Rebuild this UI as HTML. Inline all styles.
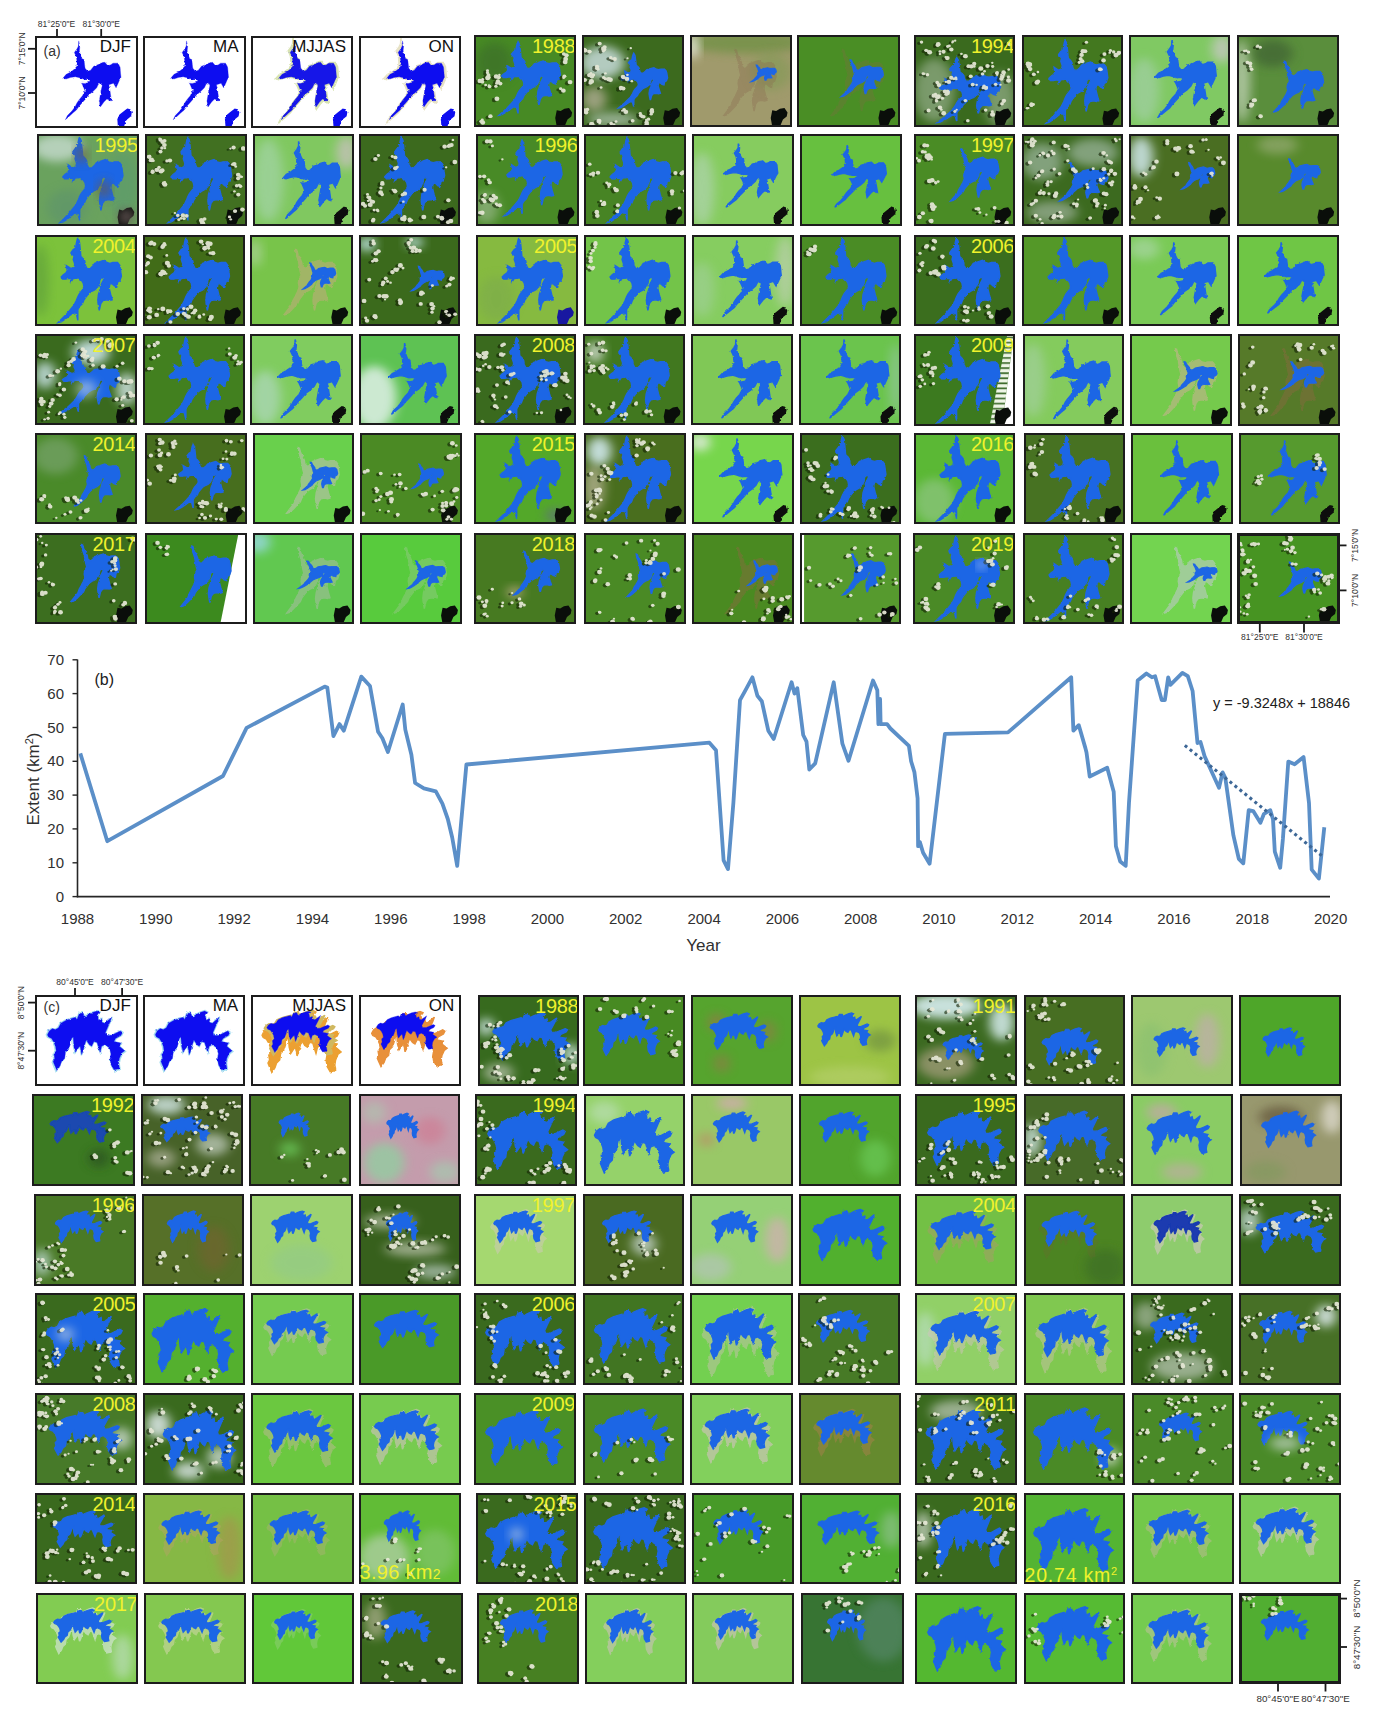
<!DOCTYPE html>
<html><head><meta charset="utf-8"><style>
*{margin:0;padding:0;box-sizing:border-box}
html,body{width:1376px;height:1722px;background:#fff;overflow:hidden}
body{position:relative;font-family:"Liberation Sans", sans-serif}
.t{position:absolute;overflow:hidden}
.bd{position:absolute;left:0;top:0;right:0;bottom:0;border:2px solid #1c1c1c}
.yr{position:absolute;right:1px;top:1px;font-size:20px;line-height:20px;color:#f0f22c;letter-spacing:-0.3px}
.hd{position:absolute;right:7px;top:2px;font-size:17px;line-height:17px;color:#111}
.yl{position:absolute;color:#f0f22c;line-height:1;white-space:nowrap}
</style></head><body>
<svg width="0" height="0" style="position:absolute"><defs>
<path id="A" fill-rule="evenodd" d="M42.0,3.5 43.5,6.9 44.3,15.2 45.0,23.6 47.3,26.1 48.8,28.6 49.5,33.6 51.0,36.9 54.0,36.9 57.0,33.6 58.5,31.1 63.0,29.4 67.5,27.7 70.5,30.2 73.4,31.1 76.4,30.2 80.9,30.2 83.2,33.6 83.9,38.6 84.7,45.3 83.2,50.3 80.9,52.0 80.2,57.0 77.9,56.1 75.7,53.6 73.4,53.6 72.7,58.6 74.2,65.3 75.7,71.2 73.4,72.0 70.5,71.2 66.7,72.0 64.5,75.4 63.0,82.9 62.2,77.9 61.5,72.0 62.2,65.3 63.7,60.3 64.5,55.3 66.0,52.0 67.5,48.6 66.0,46.1 63.7,48.6 63.0,52.8 61.5,57.0 58.5,60.3 55.5,62.0 52.5,64.5 50.3,67.8 48.0,71.2 46.5,75.4 43.5,78.7 42.0,82.0 42.0,93.7 40.5,86.2 37.5,85.4 33.8,88.7 30.1,92.1 25.6,95.4 22.6,96.2 27.1,91.2 30.8,87.1 34.6,82.0 38.3,77.0 40.5,72.0 42.0,67.8 43.5,64.5 46.5,60.3 48.0,57.0 47.3,52.8 45.8,50.3 44.3,48.6 42.8,47.0 37.5,47.8 36.1,50.3 34.6,52.8 36.1,48.6 33.1,47.8 30.1,48.6 27.1,48.6 25.6,46.1 27.8,43.6 30.1,41.9 31.6,39.4 30.8,33.6 33.1,35.3 35.3,36.9 38.3,35.3 39.0,31.9 37.5,26.9 38.3,23.6 35.3,19.4 37.5,16.0 39.8,14.4 40.5,9.4 41.3,5.2Z" filter="url(#rough)"/>
<path id="W" d="M42.4,5.3 43.6,10.8 43.1,16.3 44.1,20.7 45.6,24.6 47.6,25.6 48.1,30.6 48.6,35 51.1,38.3 54,37.2 57,32.8 59.9,31.7 63.9,29.5 67.8,28.5 70.7,32.3 73.7,31.2 75.7,29.5 80.6,29.5 82.6,33.9 83.1,41.1 83.5,44.9 82.1,47.7 80.5,52 78.7,56.3 76.2,51.3 71.7,53 72.8,59.6 74.2,70.6 69.8,68.4 66.9,71.8 63.4,77.2 62.4,70.6 63.4,64 64.3,58.4 65.3,54.1 63.9,50.2 61.5,52.5 59.9,56.3 56,60.7 52,64 49,68.4 45.6,72.8 42.6,76.6 40.2,80.5 36.7,83.8 32,88.5 29.5,91 31.5,86.5 35.8,81.6 38.8,77.2 40.7,72.8 43.1,68.9 46.1,65 48.5,59.6 46.1,53 45.2,51.3 48,51.5 52,50.5 53.5,48.5 51.1,46.5 46.6,47 43.1,45.5 39.2,44.3 34.3,45.2 29.4,47.1 27.4,45.5 30.3,41.7 34.3,39.4 38.2,36.1 40.7,32.8 40.7,27.3 40.2,22.9 38.2,18 40.7,14.1 42.2,10.8Z" filter="url(#rough)"/>
<path id="M" d="M50,44 49,40 48.3,35 47.5,30 46.5,26 45.2,22 44.6,16 45.6,16.5 47,22 49,26 50.5,30 51,34 54,36.9 57,33.6 58.5,31.1 63,29.4 67.5,27.7 70.5,30.2 73.4,31.1 76.4,30.2 80.9,30.2 83.2,33.6 83.9,38.6 84.7,45.3 83.2,50.3 80.9,52 80.2,57 77.9,56.1 75.7,53.6 73.4,53.6 72.7,58.6 74.2,65.3 75.7,71.2 73.4,72 70.5,71.2 66.7,72 64.5,75.4 63,82.9 62.2,77.9 61.5,72 62.2,65.3 63.7,60.3 64.5,55.3 66,52 67.5,48.6 66,46.1 63.7,48.6 63,52.8 61.5,57 58.5,60.3 55.5,62 52.5,64.5 50.3,67.8 48,71.2 46.5,75.4 43.5,78.7 40,83 36,87 33,88 37,82 40.5,77 42,72 44,67.8 46.5,62 48,57 47.3,52.8 48,48Z" filter="url(#rough)"/>
<path id="C" d="M12,43.5 13.9,39.3 16.9,36.8 19.9,37.7 22.8,36 25.1,31 30.3,27.6 34.8,25.9 39.3,24.3 40.8,26.8 43.1,20.1 46.8,20.1 48.3,24.3 51.3,21.8 55.8,19.2 60.3,17.6 63.3,19.2 61,22.6 61.8,27.6 64.8,25.9 65.5,30.1 67.8,31 74.5,24.3 73,29.3 70.8,35.1 68.5,41 69.3,44.4 73.8,44.4 78.3,41.8 82.8,39.3 85,41 83.5,44.4 78.3,47.7 76.8,51 83.5,52.7 82,56.1 87.3,61.1 84.3,63.6 82,69.5 81.3,74.5 82,80.3 79.8,81.2 76.8,82 73.8,76.2 73,69.5 73.8,64.4 72.3,57.7 67.8,54.4 64.8,56.1 63.3,62.8 61.8,57.7 60.3,51.9 57.3,51 55.1,56.1 52.8,54.4 49.8,49.4 48.3,54.4 46.8,61.1 45.3,65.3 43.8,56.1 42.3,57.7 39.3,62.8 37.8,56.1 37.1,46 35.6,47.7 34.1,54.4 32.6,59.4 29.6,62.8 28.8,69.5 25.8,72.8 24.3,77.8 21.3,82.8 19.1,77 17.6,72.8 19.1,69.5 18.4,64.4 20.6,61.1 19.9,56.1 18.4,51.9 16.1,47.7 13.1,46Z" filter="url(#rough)"/>
<filter id="rough" x="-5%" y="-5%" width="110%" height="110%"><feTurbulence type="fractalNoise" baseFrequency="0.35" numOctaves="2" seed="3" result="n"/><feDisplacementMap in="SourceGraphic" in2="n" scale="2.6" xChannelSelector="R" yChannelSelector="G"/></filter>
<filter id="hz" x="-50%" y="-50%" width="200%" height="200%"><feGaussianBlur stdDeviation="5"/></filter>
<pattern id="stripes" width="100" height="5.5" patternUnits="userSpaceOnUse"><rect width="100" height="5.5" fill="#eef5e6"/><rect y="3" width="100" height="1.8" fill="#3c6a2a"/></pattern>
<filter id="blur" x="-10%" y="-10%" width="120%" height="120%"><feGaussianBlur stdDeviation="0.55"/></filter>
</defs></svg>
<div class="t" style="left:35.0px;top:36.0px;width:103.0px;height:92.0px"><svg viewBox="0 0 100 100" preserveAspectRatio="none" style="position:absolute;left:0;top:0;width:100%;height:100%"><rect width="100" height="100" fill="#ffffff"/><use href="#W" fill="#1010f0" stroke="#1010f0" stroke-width="0.3"/><polygon points="80.6,100 79.9,90.4 82.1,85.4 85.8,82.1 89.6,78.75 92.5,79.6 94,82.9 93.3,87.1 88.8,91.25 85.8,100" fill="#1010f0" filter="url(#rough)"/></svg><div class="hd">DJF</div><div class="bd" style="border-width:2px"></div></div>
<div class="t" style="left:143.0px;top:36.0px;width:102.5px;height:92.0px"><svg viewBox="0 0 100 100" preserveAspectRatio="none" style="position:absolute;left:0;top:0;width:100%;height:100%"><rect width="100" height="100" fill="#ffffff"/><use href="#W" fill="#1010f0" stroke="#1010f0" stroke-width="0.3"/><polygon points="80.6,100 79.9,90.4 82.1,85.4 85.8,82.1 89.6,78.75 92.5,79.6 94,82.9 93.3,87.1 88.8,91.25 85.8,100" fill="#1010f0" filter="url(#rough)"/></svg><div class="hd">MA</div><div class="bd" style="border-width:2px"></div></div>
<div class="t" style="left:250.5px;top:36.0px;width:102.5px;height:92.0px"><svg viewBox="0 0 100 100" preserveAspectRatio="none" style="position:absolute;left:0;top:0;width:100%;height:100%"><rect width="100" height="100" fill="#ffffff"/><g opacity="0.68" filter="url(#blur)"><use href="#W" fill="#c8d890" stroke="#c8d890" stroke-width="1.29" transform="matrix(1.087 0 0 1.079 -5.29 -3.22)"/></g><use href="#W" fill="#1414e8" stroke="#1414e8" stroke-width="0.3"/><polygon points="80.6,100 79.9,90.4 82.1,85.4 85.8,82.1 89.6,78.75 92.5,79.6 94,82.9 93.3,87.1 88.8,91.25 85.8,100" fill="#1010f0" filter="url(#rough)"/></svg><div class="hd">MJJAS</div><div class="bd" style="border-width:2px"></div></div>
<div class="t" style="left:358.6px;top:36.0px;width:102.4px;height:92.0px"><svg viewBox="0 0 100 100" preserveAspectRatio="none" style="position:absolute;left:0;top:0;width:100%;height:100%"><rect width="100" height="100" fill="#ffffff"/><g opacity="0.60" filter="url(#blur)"><use href="#W" fill="#d8d0a0" stroke="#d8d0a0" stroke-width="1.29" transform="matrix(1.087 0 0 1.079 -5.29 -3.22)"/></g><use href="#W" fill="#1010f0" stroke="#1010f0" stroke-width="0.3"/><polygon points="80.6,100 79.9,90.4 82.1,85.4 85.8,82.1 89.6,78.75 92.5,79.6 94,82.9 93.3,87.1 88.8,91.25 85.8,100" fill="#1010f0" filter="url(#rough)"/></svg><div class="hd">ON</div><div class="bd" style="border-width:2px"></div></div>
<div class="t" style="left:474.0px;top:35.2px;width:102.3px;height:91.8px"><svg viewBox="0 0 100 100" preserveAspectRatio="none" style="position:absolute;left:0;top:0;width:100%;height:100%"><rect width="100" height="100" fill="#478a24"/><ellipse cx="20" cy="30" rx="18" ry="22" fill="#3a6a2a" opacity="0.6" filter="url(#hz)"/><use href="#A" fill="#1f66e5" stroke="#1f66e5" stroke-width="1.53" transform="matrix(0.968 0 0 0.866 2.42 4.27)"/><polygon points="80.9,100 79.4,90.4 80.9,82.0 84.7,82.9 88.4,80.4 92.9,79.5 95.9,84.5 95.1,88.7 91.4,92.1 88.4,100" fill="#0a0e0a"/><g filter="url(#blur)"><use href="#k1" x="-2.6" y="1.3" fill="#0f2208" opacity=".6"/><g fill="#e6e8d6" opacity=".93"><g id="k1"><circle cx="15.2" cy="89.3" r="1.2"/><circle cx="16.1" cy="88.4" r="2.1"/><circle cx="14.2" cy="43.5" r="1.9"/><circle cx="13.3" cy="46.8" r="2.4"/><circle cx="13.9" cy="46.0" r="2.4"/><circle cx="8.5" cy="95.3" r="2.4"/><circle cx="6.7" cy="94.1" r="1.6"/><circle cx="8.1" cy="92.5" r="1.5"/><circle cx="5.8" cy="50.0" r="2.4"/><circle cx="25.7" cy="52.9" r="2.1"/><circle cx="21.4" cy="55.8" r="1.7"/><circle cx="22.4" cy="69.5" r="2.4"/><circle cx="11.4" cy="54.5" r="1.4"/><circle cx="14.6" cy="54.8" r="1.1"/><circle cx="15.1" cy="56.1" r="1.9"/><circle cx="13.2" cy="41.2" r="1.6"/><circle cx="13.2" cy="38.9" r="1.5"/><circle cx="22.4" cy="52.5" r="1.8"/><circle cx="23.4" cy="50.3" r="2.1"/><circle cx="23.3" cy="49.9" r="1.1"/><circle cx="8.1" cy="50.8" r="2.0"/><circle cx="8.5" cy="51.4" r="1.1"/><circle cx="8.5" cy="48.3" r="1.4"/><circle cx="21.7" cy="45.2" r="2.4"/><circle cx="24.8" cy="43.5" r="1.2"/><circle cx="24.2" cy="46.1" r="2.0"/></g></g><use href="#k2" x="-2.6" y="1.3" fill="#0f2208" opacity=".6"/><g fill="#e6e8d6" opacity=".93"><g id="k2"><circle cx="87.4" cy="60.6" r="2.3"/><circle cx="87.2" cy="60.5" r="1.6"/><circle cx="84.7" cy="58.5" r="1.6"/><circle cx="90.3" cy="22.1" r="2.3"/><circle cx="87.8" cy="20.6" r="1.9"/><circle cx="93.9" cy="51.3" r="2.4"/><circle cx="87.6" cy="46.6" r="1.4"/><circle cx="88.3" cy="44.9" r="1.9"/><circle cx="88.8" cy="44.8" r="1.3"/><circle cx="89.1" cy="29.4" r="2.4"/><circle cx="89.6" cy="26.1" r="2.4"/></g></g></g></svg><div class="yr">1988</div><div class="bd" style="border-width:2px"></div></div>
<div class="t" style="left:581.7px;top:35.2px;width:102.3px;height:91.8px"><svg viewBox="0 0 100 100" preserveAspectRatio="none" style="position:absolute;left:0;top:0;width:100%;height:100%"><rect width="100" height="100" fill="#3c6a1e"/><ellipse cx="20" cy="30" rx="22" ry="18" fill="#c8dcdc" opacity="0.85" filter="url(#hz)"/><ellipse cx="12" cy="70" rx="12" ry="14" fill="#d8c4bc" opacity="0.6" filter="url(#hz)"/><ellipse cx="30" cy="92" rx="25" ry="8" fill="#d0dcdc" opacity="0.6" filter="url(#hz)"/><use href="#A" fill="#1f66e5" stroke="#1f66e5" stroke-width="1.98" transform="matrix(0.773 0 0 0.643 18.10 17.75)"/><polygon points="80.9,100 79.4,90.4 80.9,82.0 84.7,82.9 88.4,80.4 92.9,79.5 95.9,84.5 95.1,88.7 91.4,92.1 88.4,100" fill="#0a0e0a"/><g filter="url(#blur)"><use href="#k3" x="-2.6" y="1.3" fill="#0f2208" opacity=".6"/><g fill="#e6e8d6" opacity=".93"><g id="k3"><circle cx="47.7" cy="14.3" r="1.2"/><circle cx="14.7" cy="34.4" r="2.1"/><circle cx="14.7" cy="36.1" r="2.0"/><circle cx="9.3" cy="51.0" r="2.2"/><circle cx="9.2" cy="50.3" r="2.5"/><circle cx="8.1" cy="52.4" r="1.9"/><circle cx="40.7" cy="46.1" r="2.0"/><circle cx="44.4" cy="43.4" r="1.3"/><circle cx="43.9" cy="47.8" r="2.3"/><circle cx="40.1" cy="45.6" r="2.3"/><circle cx="15.7" cy="37.3" r="1.4"/><circle cx="20.8" cy="17.5" r="1.6"/><circle cx="20.0" cy="14.2" r="1.3"/><circle cx="22.1" cy="13.2" r="2.1"/><circle cx="9.7" cy="45.1" r="2.2"/><circle cx="11.2" cy="43.7" r="1.6"/><circle cx="10.9" cy="43.4" r="1.8"/><circle cx="37.7" cy="58.9" r="1.5"/><circle cx="40.3" cy="58.3" r="2.2"/><circle cx="38.1" cy="57.5" r="2.2"/><circle cx="27.8" cy="48.8" r="2.4"/><circle cx="26.1" cy="48.1" r="2.4"/><circle cx="2.3" cy="15.7" r="1.9"/><circle cx="3.0" cy="17.0" r="2.3"/><circle cx="2.5" cy="49.1" r="2.2"/><circle cx="3.2" cy="49.0" r="1.4"/><circle cx="17.0" cy="9.4" r="1.3"/><circle cx="17.3" cy="9.3" r="2.0"/><circle cx="18.7" cy="57.1" r="1.4"/><circle cx="22.9" cy="41.8" r="1.3"/><circle cx="29.5" cy="25.9" r="1.2"/><circle cx="28.1" cy="24.7" r="1.7"/><circle cx="32.0" cy="26.2" r="2.1"/><circle cx="21.2" cy="46.4" r="1.7"/><circle cx="23.0" cy="47.6" r="1.7"/><circle cx="44.5" cy="25.4" r="1.1"/><circle cx="7.3" cy="43.7" r="2.4"/><circle cx="8.8" cy="41.6" r="1.3"/><circle cx="21.3" cy="15.4" r="2.4"/><circle cx="48.7" cy="50.3" r="1.3"/><circle cx="7.8" cy="18.1" r="1.7"/><circle cx="7.1" cy="18.1" r="2.1"/></g></g><use href="#k4" x="-2.6" y="1.3" fill="#0f2208" opacity=".6"/><g fill="#e6e8d6" opacity=".93"><g id="k4"><circle cx="68.4" cy="82.3" r="1.5"/><circle cx="68.4" cy="81.5" r="2.0"/><circle cx="67.8" cy="82.7" r="1.9"/><circle cx="68.3" cy="83.7" r="2.3"/><circle cx="67.6" cy="86.2" r="1.6"/><circle cx="57.4" cy="87.6" r="1.8"/><circle cx="57.0" cy="85.6" r="1.6"/><circle cx="57.4" cy="88.6" r="1.1"/><circle cx="41.2" cy="81.4" r="1.8"/><circle cx="42.8" cy="83.7" r="2.4"/><circle cx="39.2" cy="82.6" r="1.1"/><circle cx="58.2" cy="88.1" r="1.8"/><circle cx="60.3" cy="89.1" r="1.9"/><circle cx="58.9" cy="89.1" r="1.7"/><circle cx="9.7" cy="99.2" r="2.0"/><circle cx="9.8" cy="97.1" r="2.4"/><circle cx="9.1" cy="97.0" r="2.2"/><circle cx="5.3" cy="81.1" r="1.8"/><circle cx="31.1" cy="97.5" r="1.4"/><circle cx="31.7" cy="99.5" r="2.0"/><circle cx="28.6" cy="96.4" r="1.8"/><circle cx="2.9" cy="81.3" r="1.6"/><circle cx="3.6" cy="82.6" r="2.0"/><circle cx="4.0" cy="84.3" r="2.2"/><circle cx="63.2" cy="95.4" r="2.2"/><circle cx="65.0" cy="91.7" r="1.7"/><circle cx="63.0" cy="92.7" r="1.5"/><circle cx="17.3" cy="95.7" r="1.4"/><circle cx="16.6" cy="93.8" r="2.5"/><circle cx="33.3" cy="94.3" r="1.4"/><circle cx="49.5" cy="93.3" r="1.9"/><circle cx="64.0" cy="96.8" r="1.1"/><circle cx="63.2" cy="97.6" r="2.2"/></g></g></g></svg><div class="bd" style="border-width:2px"></div></div>
<div class="t" style="left:690.0px;top:35.2px;width:101.7px;height:91.8px"><svg viewBox="0 0 100 100" preserveAspectRatio="none" style="position:absolute;left:0;top:0;width:100%;height:100%"><rect width="100" height="100" fill="#a09a6c"/><ellipse cx="55" cy="8" rx="60" ry="12" fill="#6a9040" opacity="0.7" filter="url(#hz)"/><ellipse cx="3" cy="12" rx="5" ry="14" fill="#f4f4f0" opacity="0.9" filter="url(#hz)"/><ellipse cx="80" cy="40" rx="20" ry="20" fill="#7a9a50" opacity="0.5" filter="url(#hz)"/><g opacity="0.34" filter="url(#blur)"><use href="#M" fill="#8a6a50" stroke="#8a6a50" stroke-width="1.4"/></g><use href="#M" fill="#1f66e5" stroke="#1f66e5" stroke-width="3.82" transform="matrix(0.478 0 0 0.256 44.13 28.51)"/><polygon points="80.9,100 79.4,90.4 80.9,82.0 84.7,82.9 88.4,80.4 92.9,79.5 95.9,84.5 95.1,88.7 91.4,92.1 88.4,100" fill="#0a0e0a"/></svg><div class="bd" style="border-width:2px"></div></div>
<div class="t" style="left:797.0px;top:35.2px;width:102.6px;height:91.8px"><svg viewBox="0 0 100 100" preserveAspectRatio="none" style="position:absolute;left:0;top:0;width:100%;height:100%"><rect width="100" height="100" fill="#4a8e25"/><g opacity="0.34" filter="url(#blur)"><use href="#M" fill="#7a7040" stroke="#7a7040" stroke-width="1.4"/></g><use href="#M" fill="#1f66e5" stroke="#1f66e5" stroke-width="2.07" transform="matrix(0.795 0 0 0.557 16.67 18.29)"/><polygon points="80.9,100 79.4,90.4 80.9,82.0 84.7,82.9 88.4,80.4 92.9,79.5 95.9,84.5 95.1,88.7 91.4,92.1 88.4,100" fill="#0a0e0a"/></svg><div class="bd" style="border-width:2px"></div></div>
<div class="t" style="left:913.8px;top:35.2px;width:101.4px;height:92.3px"><svg viewBox="0 0 100 100" preserveAspectRatio="none" style="position:absolute;left:0;top:0;width:100%;height:100%"><rect width="100" height="100" fill="#3a6a1e"/><ellipse cx="20" cy="60" rx="20" ry="35" fill="#c8d4c8" opacity="0.45" filter="url(#hz)"/><ellipse cx="85" cy="70" rx="15" ry="30" fill="#c8d4c8" opacity="0.45" filter="url(#hz)"/><use href="#A" fill="#1f66e5" stroke="#1f66e5" stroke-width="1.58" transform="matrix(1.010 0 0 0.761 -0.26 21.94)"/><polygon points="80.9,100 79.4,90.4 80.9,82.0 84.7,82.9 88.4,80.4 92.9,79.5 95.9,84.5 95.1,88.7 91.4,92.1 88.4,100" fill="#0a0e0a"/><g filter="url(#blur)"><use href="#k5" x="-2.6" y="1.3" fill="#0f2208" opacity=".6"/><g fill="#e6e8d6" opacity=".93"><g id="k5"><circle cx="72.5" cy="33.6" r="2.2"/><circle cx="42.1" cy="81.1" r="1.1"/><circle cx="40.3" cy="82.8" r="1.6"/><circle cx="50.7" cy="71.1" r="1.8"/><circle cx="22.2" cy="71.5" r="1.7"/><circle cx="21.9" cy="70.0" r="1.2"/><circle cx="93.4" cy="8.9" r="1.8"/><circle cx="94.2" cy="10.4" r="1.9"/><circle cx="53.1" cy="92.8" r="1.8"/><circle cx="67.6" cy="42.2" r="1.8"/><circle cx="69.6" cy="39.2" r="1.4"/><circle cx="81.4" cy="41.5" r="1.5"/><circle cx="82.0" cy="40.8" r="1.8"/><circle cx="82.1" cy="43.2" r="1.2"/><circle cx="14.4" cy="81.7" r="2.0"/><circle cx="23.9" cy="10.0" r="2.4"/><circle cx="23.2" cy="11.1" r="1.8"/><circle cx="7.4" cy="7.7" r="1.7"/><circle cx="77.3" cy="83.1" r="1.5"/><circle cx="77.5" cy="86.1" r="2.5"/><circle cx="59.4" cy="31.1" r="2.1"/><circle cx="56.5" cy="34.0" r="2.3"/><circle cx="59.4" cy="34.0" r="1.4"/><circle cx="56.0" cy="44.7" r="2.0"/><circle cx="32.5" cy="25.7" r="1.5"/><circle cx="33.0" cy="24.9" r="2.2"/><circle cx="31.2" cy="24.0" r="1.2"/><circle cx="30.5" cy="61.1" r="2.1"/><circle cx="65.9" cy="36.3" r="2.5"/><circle cx="86.8" cy="74.5" r="1.9"/><circle cx="88.3" cy="71.6" r="2.0"/><circle cx="88.8" cy="71.0" r="2.0"/><circle cx="85.3" cy="53.9" r="1.2"/><circle cx="80.5" cy="53.4" r="1.8"/><circle cx="56.6" cy="33.8" r="1.7"/><circle cx="88.8" cy="43.1" r="1.2"/><circle cx="87.0" cy="45.3" r="2.3"/><circle cx="86.1" cy="47.5" r="2.1"/><circle cx="53.7" cy="33.8" r="2.0"/><circle cx="28.0" cy="68.5" r="1.7"/><circle cx="33.2" cy="61.4" r="2.2"/><circle cx="31.8" cy="64.2" r="1.9"/><circle cx="32.9" cy="62.9" r="2.5"/><circle cx="36.8" cy="15.7" r="2.2"/><circle cx="34.8" cy="11.8" r="1.5"/><circle cx="33.2" cy="12.4" r="1.6"/><circle cx="9.0" cy="41.9" r="1.5"/><circle cx="13.3" cy="43.0" r="1.7"/><circle cx="10.2" cy="42.1" r="1.2"/><circle cx="41.7" cy="47.8" r="1.3"/><circle cx="41.3" cy="46.4" r="1.4"/><circle cx="88.4" cy="40.6" r="2.3"/><circle cx="86.2" cy="43.0" r="1.2"/><circle cx="93.4" cy="37.3" r="1.3"/><circle cx="13.1" cy="17.0" r="1.4"/><circle cx="11.8" cy="16.6" r="1.7"/><circle cx="15.4" cy="18.7" r="2.5"/><circle cx="46.8" cy="20.4" r="1.3"/><circle cx="70.9" cy="57.4" r="2.2"/><circle cx="29.3" cy="84.7" r="2.4"/><circle cx="69.1" cy="55.4" r="1.8"/><circle cx="71.4" cy="56.8" r="1.6"/><circle cx="68.0" cy="57.4" r="1.4"/><circle cx="19.4" cy="65.7" r="2.2"/><circle cx="22.7" cy="66.5" r="1.4"/><circle cx="21.2" cy="64.2" r="1.5"/><circle cx="31.5" cy="50.9" r="1.2"/><circle cx="34.4" cy="50.8" r="2.3"/><circle cx="93.1" cy="45.6" r="1.6"/><circle cx="93.3" cy="49.3" r="2.5"/><circle cx="25.7" cy="20.5" r="1.3"/><circle cx="25.6" cy="17.8" r="1.4"/><circle cx="29.1" cy="18.2" r="2.1"/><circle cx="39.4" cy="47.5" r="1.5"/><circle cx="36.7" cy="46.3" r="2.1"/><circle cx="37.7" cy="47.1" r="1.2"/><circle cx="50.7" cy="22.9" r="2.4"/><circle cx="70.7" cy="81.3" r="1.8"/><circle cx="25.6" cy="78.6" r="2.2"/><circle cx="27.0" cy="80.8" r="1.3"/><circle cx="61.8" cy="54.0" r="1.3"/><circle cx="57.9" cy="53.6" r="2.0"/><circle cx="40.6" cy="6.1" r="1.2"/><circle cx="37.8" cy="8.2" r="1.1"/><circle cx="38.4" cy="7.0" r="1.3"/><circle cx="22.9" cy="51.5" r="1.8"/><circle cx="24.6" cy="54.3" r="2.2"/><circle cx="23.1" cy="51.8" r="1.2"/><circle cx="77.2" cy="30.2" r="1.2"/><circle cx="77.6" cy="34.2" r="1.6"/><circle cx="23.2" cy="67.2" r="2.4"/><circle cx="21.7" cy="66.8" r="1.4"/><circle cx="24.0" cy="66.6" r="2.4"/></g></g></g></svg><div class="yr">1994</div><div class="bd" style="border-width:2px"></div></div>
<div class="t" style="left:1021.8px;top:35.2px;width:101.3px;height:92.3px"><svg viewBox="0 0 100 100" preserveAspectRatio="none" style="position:absolute;left:0;top:0;width:100%;height:100%"><rect width="100" height="100" fill="#43781f"/><use href="#A" fill="#1f66e5" stroke="#1f66e5" stroke-width="1.43" transform="matrix(0.983 0 0 0.970 1.43 2.30)"/><polygon points="80.9,100 79.4,90.4 80.9,82.0 84.7,82.9 88.4,80.4 92.9,79.5 95.9,84.5 95.1,88.7 91.4,92.1 88.4,100" fill="#0a0e0a"/><g filter="url(#blur)"><use href="#k6" x="-2.6" y="1.3" fill="#0f2208" opacity=".6"/><g fill="#e6e8d6" opacity=".93"><g id="k6"><circle cx="95.7" cy="19.3" r="2.3"/><circle cx="95.0" cy="20.4" r="1.8"/><circle cx="80.5" cy="27.5" r="2.3"/><circle cx="81.4" cy="20.7" r="2.0"/><circle cx="77.0" cy="37.1" r="2.1"/><circle cx="78.5" cy="37.3" r="1.3"/><circle cx="87.3" cy="16.8" r="1.7"/><circle cx="92.7" cy="21.8" r="2.5"/><circle cx="59.4" cy="28.5" r="2.2"/><circle cx="56.5" cy="29.7" r="1.6"/><circle cx="57.9" cy="25.9" r="2.0"/><circle cx="63.6" cy="7.9" r="1.7"/><circle cx="90.5" cy="18.3" r="1.7"/><circle cx="86.6" cy="19.1" r="1.3"/><circle cx="62.4" cy="17.5" r="2.1"/><circle cx="60.1" cy="17.5" r="2.4"/><circle cx="58.8" cy="21.6" r="2.3"/></g></g><use href="#k7" x="-2.6" y="1.3" fill="#0f2208" opacity=".6"/><g fill="#e6e8d6" opacity=".93"><g id="k7"><circle cx="15.8" cy="50.4" r="2.1"/><circle cx="14.7" cy="51.5" r="2.4"/><circle cx="8.0" cy="36.9" r="2.3"/><circle cx="6.0" cy="31.1" r="2.4"/><circle cx="7.8" cy="31.5" r="1.8"/><circle cx="8.2" cy="31.4" r="1.8"/><circle cx="15.7" cy="40.1" r="1.3"/><circle cx="11.7" cy="42.5" r="2.0"/><circle cx="11.3" cy="75.3" r="1.5"/><circle cx="9.0" cy="75.9" r="1.8"/><circle cx="9.3" cy="74.9" r="2.0"/><circle cx="6.5" cy="34.1" r="2.1"/><circle cx="8.2" cy="32.5" r="1.9"/><circle cx="5.8" cy="31.6" r="2.1"/><circle cx="6.4" cy="79.1" r="1.2"/><circle cx="9.4" cy="76.4" r="1.7"/><circle cx="5.0" cy="79.4" r="1.4"/></g></g></g></svg><div class="bd" style="border-width:2px"></div></div>
<div class="t" style="left:1129.3px;top:35.2px;width:101.1px;height:92.3px"><svg viewBox="0 0 100 100" preserveAspectRatio="none" style="position:absolute;left:0;top:0;width:100%;height:100%"><rect width="100" height="100" fill="#80c963"/><ellipse cx="92" cy="15" rx="10" ry="15" fill="#d0c8d0" opacity="0.7" filter="url(#hz)"/><ellipse cx="15" cy="60" rx="15" ry="35" fill="#a8d0b0" opacity="0.6" filter="url(#hz)"/><use href="#W" fill="#1f66e5" stroke="#1f66e5" stroke-width="1.37" transform="matrix(1.068 0 0 0.977 -2.86 0.52)"/><polygon points="80.6,100 79.9,90.4 82.1,85.4 85.8,82.1 89.6,78.75 92.5,79.6 94,82.9 93.3,87.1 88.8,91.25 85.8,100" fill="#0a0e0a" filter="url(#rough)"/></svg><div class="bd" style="border-width:2px"></div></div>
<div class="t" style="left:1237.3px;top:35.2px;width:101.3px;height:92.3px"><svg viewBox="0 0 100 100" preserveAspectRatio="none" style="position:absolute;left:0;top:0;width:100%;height:100%"><rect width="100" height="100" fill="#5a8e3c"/><ellipse cx="5" cy="50" rx="8" ry="45" fill="#d0dcc8" opacity="0.7" filter="url(#hz)"/><ellipse cx="35" cy="20" rx="20" ry="15" fill="#3a5a30" opacity="0.6" filter="url(#hz)"/><use href="#M" fill="#1f66e5" stroke="#1f66e5" stroke-width="1.62" transform="matrix(0.959 0 0 0.767 4.14 16.23)"/><polygon points="80.9,100 79.4,90.4 80.9,82.0 84.7,82.9 88.4,80.4 92.9,79.5 95.9,84.5 95.1,88.7 91.4,92.1 88.4,100" fill="#0a0e0a"/><g filter="url(#blur)"><use href="#k8" x="-2.6" y="1.3" fill="#0f2208" opacity=".6"/><g fill="#e6e8d6" opacity=".93"><g id="k8"><circle cx="20.5" cy="11.9" r="1.5"/><circle cx="19.6" cy="12.6" r="1.3"/><circle cx="22.9" cy="13.3" r="1.7"/><circle cx="10.3" cy="29.7" r="1.9"/><circle cx="13.0" cy="30.9" r="2.1"/><circle cx="10.4" cy="30.0" r="1.3"/><circle cx="13.3" cy="34.0" r="1.6"/><circle cx="14.4" cy="37.1" r="1.9"/><circle cx="17.7" cy="70.6" r="2.0"/><circle cx="16.5" cy="71.0" r="2.1"/><circle cx="14.8" cy="75.5" r="2.3"/><circle cx="13.8" cy="76.8" r="2.0"/><circle cx="13.6" cy="74.4" r="1.4"/><circle cx="22.8" cy="87.7" r="1.5"/><circle cx="23.4" cy="88.0" r="2.2"/><circle cx="7.3" cy="17.3" r="1.4"/><circle cx="11.3" cy="18.4" r="1.7"/><circle cx="9.2" cy="17.1" r="1.3"/></g></g></g></svg><div class="bd" style="border-width:2px"></div></div>
<div class="t" style="left:37.3px;top:134.3px;width:101.5px;height:92.2px"><svg viewBox="0 0 100 100" preserveAspectRatio="none" style="position:absolute;left:0;top:0;width:100%;height:100%"><rect width="100" height="100" fill="#6aa25e"/><ellipse cx="20" cy="15" rx="25" ry="15" fill="#c8dcd0" opacity="0.8" filter="url(#hz)"/><ellipse cx="85" cy="55" rx="15" ry="35" fill="#5a9a70" opacity="0.6" filter="url(#hz)"/><ellipse cx="30" cy="80" rx="20" ry="20" fill="#5a9070" opacity="0.5" filter="url(#hz)"/><use href="#A" fill="#1f66e5" stroke="#1f66e5" stroke-width="1.4"/><polygon points="80.9,100 79.4,90.4 80.9,82.0 84.7,82.9 88.4,80.4 92.9,79.5 95.9,84.5 95.1,88.7 91.4,92.1 88.4,100" fill="#0a0e0a"/><ellipse cx="44" cy="22" rx="5" ry="9" fill="#6a5a4a" opacity="0.9" filter="url(#hz)"/><ellipse cx="66" cy="60" rx="5" ry="10" fill="#6a5a4a" opacity="0.9" filter="url(#hz)"/><ellipse cx="88" cy="90" rx="7" ry="9" fill="#6a5a5a" opacity="0.9" filter="url(#hz)"/></svg><div class="yr">1995</div><div class="bd" style="border-width:2px"></div></div>
<div class="t" style="left:144.8px;top:134.3px;width:102.2px;height:92.2px"><svg viewBox="0 0 100 100" preserveAspectRatio="none" style="position:absolute;left:0;top:0;width:100%;height:100%"><rect width="100" height="100" fill="#417021"/><use href="#A" fill="#1f66e5" stroke="#1f66e5" stroke-width="1.4"/><polygon points="80.9,100 79.4,90.4 80.9,82.0 84.7,82.9 88.4,80.4 92.9,79.5 95.9,84.5 95.1,88.7 91.4,92.1 88.4,100" fill="#0a0e0a"/><g filter="url(#blur)"><use href="#k9" x="-2.6" y="1.3" fill="#0f2208" opacity=".6"/><g fill="#e6e8d6" opacity=".93"><g id="k9"><circle cx="19.0" cy="12.0" r="2.3"/><circle cx="19.5" cy="15.3" r="1.3"/><circle cx="16.6" cy="15.2" r="1.8"/><circle cx="19.1" cy="7.4" r="2.0"/><circle cx="16.9" cy="39.5" r="2.3"/><circle cx="15.6" cy="40.5" r="2.4"/><circle cx="4.9" cy="28.7" r="1.3"/><circle cx="6.3" cy="28.1" r="2.5"/><circle cx="8.2" cy="29.0" r="1.4"/><circle cx="3.9" cy="24.8" r="2.2"/><circle cx="3.4" cy="24.7" r="1.4"/><circle cx="4.7" cy="24.1" r="1.5"/><circle cx="15.2" cy="19.1" r="2.0"/><circle cx="7.5" cy="40.7" r="2.0"/><circle cx="7.4" cy="41.4" r="1.9"/><circle cx="7.6" cy="39.9" r="1.4"/><circle cx="14.4" cy="5.0" r="1.3"/><circle cx="15.1" cy="6.3" r="2.0"/><circle cx="16.8" cy="8.0" r="1.4"/><circle cx="21.5" cy="29.2" r="1.7"/><circle cx="11.6" cy="38.9" r="2.4"/><circle cx="13.7" cy="36.2" r="1.7"/><circle cx="15.1" cy="6.1" r="1.4"/><circle cx="17.1" cy="8.8" r="2.1"/><circle cx="18.5" cy="53.4" r="2.1"/><circle cx="19.5" cy="52.1" r="1.1"/><circle cx="19.4" cy="54.8" r="2.5"/><circle cx="24.4" cy="28.7" r="2.2"/></g></g><use href="#k10" x="-2.6" y="1.3" fill="#0f2208" opacity=".6"/><g fill="#e6e8d6" opacity=".93"><g id="k10"><circle cx="91.3" cy="65.7" r="2.1"/><circle cx="91.1" cy="48.1" r="2.0"/><circle cx="91.3" cy="47.9" r="1.4"/><circle cx="82.7" cy="89.9" r="1.6"/><circle cx="83.9" cy="92.6" r="1.3"/><circle cx="86.7" cy="14.6" r="2.1"/><circle cx="83.6" cy="15.8" r="1.2"/><circle cx="88.1" cy="83.6" r="2.1"/><circle cx="94.7" cy="46.5" r="1.3"/><circle cx="91.2" cy="44.2" r="2.3"/><circle cx="93.5" cy="46.2" r="1.5"/><circle cx="96.3" cy="15.9" r="2.4"/><circle cx="98.0" cy="15.7" r="1.3"/><circle cx="96.1" cy="15.2" r="2.0"/><circle cx="88.8" cy="35.2" r="1.3"/><circle cx="87.3" cy="32.6" r="2.3"/><circle cx="85.4" cy="33.1" r="1.4"/><circle cx="87.5" cy="62.2" r="1.3"/><circle cx="93.4" cy="56.7" r="1.8"/><circle cx="92.2" cy="55.4" r="1.4"/><circle cx="89.8" cy="56.1" r="1.9"/><circle cx="95.3" cy="82.0" r="2.3"/></g></g><use href="#k11" x="-2.6" y="1.3" fill="#0f2208" opacity=".6"/><g fill="#e6e8d6" opacity=".93"><g id="k11"><circle cx="29.3" cy="85.7" r="1.2"/><circle cx="32.1" cy="88.3" r="1.8"/><circle cx="40.6" cy="88.8" r="2.1"/><circle cx="37.1" cy="88.3" r="2.2"/><circle cx="38.2" cy="91.7" r="1.7"/><circle cx="58.3" cy="92.1" r="1.9"/><circle cx="56.1" cy="96.2" r="2.4"/><circle cx="33.1" cy="92.9" r="1.6"/><circle cx="35.3" cy="91.5" r="1.5"/><circle cx="55.3" cy="93.7" r="2.5"/><circle cx="56.9" cy="96.8" r="2.0"/></g></g></g></svg><div class="bd" style="border-width:2px"></div></div>
<div class="t" style="left:252.5px;top:134.3px;width:101.5px;height:92.2px"><svg viewBox="0 0 100 100" preserveAspectRatio="none" style="position:absolute;left:0;top:0;width:100%;height:100%"><rect width="100" height="100" fill="#80c860"/><ellipse cx="15" cy="50" rx="15" ry="45" fill="#a4d4a8" opacity="0.7" filter="url(#hz)"/><ellipse cx="92" cy="20" rx="10" ry="18" fill="#d0c0c8" opacity="0.7" filter="url(#hz)"/><use href="#W" fill="#1f66e5" stroke="#1f66e5" stroke-width="1.42" transform="matrix(0.998 0 0 0.980 2.65 2.81)"/><polygon points="80.6,100 79.9,90.4 82.1,85.4 85.8,82.1 89.6,78.75 92.5,79.6 94,82.9 93.3,87.1 88.8,91.25 85.8,100" fill="#0a0e0a" filter="url(#rough)"/></svg><div class="bd" style="border-width:2px"></div></div>
<div class="t" style="left:358.6px;top:134.3px;width:101.1px;height:92.2px"><svg viewBox="0 0 100 100" preserveAspectRatio="none" style="position:absolute;left:0;top:0;width:100%;height:100%"><rect width="100" height="100" fill="#3c6a1e"/><use href="#A" fill="#1f66e5" stroke="#1f66e5" stroke-width="1.4"/><polygon points="80.9,100 79.4,90.4 80.9,82.0 84.7,82.9 88.4,80.4 92.9,79.5 95.9,84.5 95.1,88.7 91.4,92.1 88.4,100" fill="#0a0e0a"/><g filter="url(#blur)"><use href="#k12" x="-2.6" y="1.3" fill="#0f2208" opacity=".6"/><g fill="#e6e8d6" opacity=".93"><g id="k12"><circle cx="33.3" cy="60.6" r="1.2"/><circle cx="35.3" cy="60.7" r="1.4"/><circle cx="35.7" cy="62.2" r="2.3"/><circle cx="36.0" cy="25.4" r="2.1"/><circle cx="32.9" cy="24.4" r="1.5"/><circle cx="9.0" cy="72.5" r="1.3"/><circle cx="10.4" cy="68.8" r="1.7"/><circle cx="10.8" cy="71.1" r="1.6"/><circle cx="14.3" cy="92.9" r="2.0"/><circle cx="13.7" cy="94.1" r="2.0"/><circle cx="6.0" cy="77.9" r="2.1"/><circle cx="22.4" cy="54.6" r="1.6"/><circle cx="21.7" cy="58.6" r="1.6"/><circle cx="23.7" cy="54.3" r="1.7"/><circle cx="21.4" cy="63.4" r="2.4"/><circle cx="22.9" cy="65.6" r="1.8"/><circle cx="4.0" cy="75.9" r="2.3"/><circle cx="16.2" cy="27.1" r="2.2"/><circle cx="19.2" cy="23.4" r="1.6"/><circle cx="35.9" cy="37.1" r="2.2"/><circle cx="37.9" cy="35.9" r="1.5"/><circle cx="18.1" cy="82.4" r="1.7"/><circle cx="18.8" cy="83.4" r="1.4"/><circle cx="15.0" cy="82.5" r="1.5"/><circle cx="14.0" cy="73.6" r="2.0"/><circle cx="11.1" cy="76.8" r="2.5"/><circle cx="12.6" cy="73.3" r="2.2"/><circle cx="23.6" cy="52.6" r="1.4"/><circle cx="22.8" cy="52.7" r="1.7"/><circle cx="8.4" cy="65.6" r="1.5"/><circle cx="9.2" cy="68.7" r="1.9"/></g></g><use href="#k13" x="-2.6" y="1.3" fill="#0f2208" opacity=".6"/><g fill="#e6e8d6" opacity=".93"><g id="k13"><circle cx="88.4" cy="71.9" r="2.2"/><circle cx="82.1" cy="91.7" r="2.3"/><circle cx="81.8" cy="91.0" r="2.3"/><circle cx="64.9" cy="60.5" r="2.1"/><circle cx="64.1" cy="90.1" r="2.5"/><circle cx="78.1" cy="89.6" r="2.0"/><circle cx="45.0" cy="89.8" r="2.0"/><circle cx="43.0" cy="92.0" r="2.4"/><circle cx="45.3" cy="91.8" r="1.9"/><circle cx="90.8" cy="94.3" r="2.5"/><circle cx="88.1" cy="95.7" r="2.1"/><circle cx="43.9" cy="73.4" r="1.3"/><circle cx="44.8" cy="93.1" r="1.9"/><circle cx="43.0" cy="66.0" r="1.9"/><circle cx="45.3" cy="64.7" r="2.3"/><circle cx="52.1" cy="93.6" r="1.4"/><circle cx="50.1" cy="92.9" r="2.2"/><circle cx="50.3" cy="94.2" r="1.9"/></g></g><use href="#k14" x="-2.6" y="1.3" fill="#0f2208" opacity=".6"/><g fill="#e6e8d6" opacity=".93"><g id="k14"><circle cx="86.2" cy="36.2" r="1.2"/><circle cx="92.9" cy="6.4" r="1.3"/><circle cx="94.8" cy="30.4" r="2.4"/><circle cx="88.5" cy="13.4" r="1.9"/><circle cx="84.7" cy="13.7" r="2.3"/><circle cx="91.6" cy="11.9" r="2.1"/><circle cx="90.2" cy="13.1" r="1.5"/><circle cx="89.6" cy="12.4" r="2.0"/></g></g></g></svg><div class="bd" style="border-width:2px"></div></div>
<div class="t" style="left:476.0px;top:134.3px;width:102.7px;height:92.2px"><svg viewBox="0 0 100 100" preserveAspectRatio="none" style="position:absolute;left:0;top:0;width:100%;height:100%"><rect width="100" height="100" fill="#488a26"/><ellipse cx="10" cy="80" rx="12" ry="18" fill="#b8c8b0" opacity="0.5" filter="url(#hz)"/><use href="#A" fill="#1f66e5" stroke="#1f66e5" stroke-width="1.56" transform="matrix(0.910 0 0 0.886 6.70 3.60)"/><polygon points="80.9,100 79.4,90.4 80.9,82.0 84.7,82.9 88.4,80.4 92.9,79.5 95.9,84.5 95.1,88.7 91.4,92.1 88.4,100" fill="#0a0e0a"/><g filter="url(#blur)"><use href="#k15" x="-2.6" y="1.3" fill="#0f2208" opacity=".6"/><g fill="#e6e8d6" opacity=".93"><g id="k15"><circle cx="16.0" cy="12.9" r="1.5"/><circle cx="17.7" cy="67.9" r="1.5"/><circle cx="17.1" cy="66.6" r="1.9"/><circle cx="19.4" cy="69.2" r="2.1"/><circle cx="17.0" cy="71.0" r="1.7"/><circle cx="19.8" cy="76.0" r="1.6"/><circle cx="14.0" cy="8.0" r="2.2"/><circle cx="10.8" cy="8.0" r="2.2"/><circle cx="14.6" cy="70.9" r="2.3"/><circle cx="15.8" cy="71.8" r="2.4"/><circle cx="8.4" cy="66.5" r="1.9"/><circle cx="8.9" cy="65.7" r="1.6"/><circle cx="13.4" cy="52.5" r="2.1"/><circle cx="3.7" cy="85.3" r="1.8"/><circle cx="6.0" cy="85.5" r="2.4"/><circle cx="8.2" cy="72.3" r="1.4"/><circle cx="6.6" cy="71.0" r="1.6"/><circle cx="8.3" cy="73.3" r="1.9"/><circle cx="7.9" cy="45.9" r="2.1"/><circle cx="3.9" cy="46.2" r="1.9"/><circle cx="25.7" cy="27.5" r="1.2"/><circle cx="23.2" cy="77.3" r="2.2"/><circle cx="20.6" cy="77.5" r="1.2"/><circle cx="12.3" cy="49.8" r="1.8"/></g></g></g></svg><div class="yr">1996</div><div class="bd" style="border-width:2px"></div></div>
<div class="t" style="left:583.7px;top:134.3px;width:102.6px;height:92.2px"><svg viewBox="0 0 100 100" preserveAspectRatio="none" style="position:absolute;left:0;top:0;width:100%;height:100%"><rect width="100" height="100" fill="#478424"/><use href="#A" fill="#1f66e5" stroke="#1f66e5" stroke-width="1.4"/><polygon points="80.9,100 79.4,90.4 80.9,82.0 84.7,82.9 88.4,80.4 92.9,79.5 95.9,84.5 95.1,88.7 91.4,92.1 88.4,100" fill="#0a0e0a"/><g filter="url(#blur)"><use href="#k16" x="-2.6" y="1.3" fill="#0f2208" opacity=".6"/><g fill="#e6e8d6" opacity=".93"><g id="k16"><circle cx="30.0" cy="59.0" r="1.7"/><circle cx="31.6" cy="60.9" r="2.4"/><circle cx="19.7" cy="74.2" r="1.8"/><circle cx="19.7" cy="75.9" r="2.1"/><circle cx="18.1" cy="75.5" r="1.4"/><circle cx="32.2" cy="83.9" r="1.7"/><circle cx="32.6" cy="83.3" r="1.8"/><circle cx="33.0" cy="84.8" r="1.2"/><circle cx="13.0" cy="88.7" r="2.3"/><circle cx="12.6" cy="85.1" r="2.1"/><circle cx="12.0" cy="84.9" r="1.6"/><circle cx="13.6" cy="42.1" r="2.2"/><circle cx="12.5" cy="84.2" r="2.1"/><circle cx="16.6" cy="72.6" r="1.3"/><circle cx="18.9" cy="76.2" r="1.8"/><circle cx="17.8" cy="76.7" r="1.4"/><circle cx="5.6" cy="32.7" r="1.8"/><circle cx="6.5" cy="43.7" r="1.7"/><circle cx="9.1" cy="45.0" r="1.3"/><circle cx="9.0" cy="42.7" r="2.1"/><circle cx="24.5" cy="54.8" r="2.2"/><circle cx="24.1" cy="57.4" r="1.2"/><circle cx="22.2" cy="52.9" r="1.5"/><circle cx="33.0" cy="77.2" r="2.0"/></g></g><use href="#k17" x="-2.6" y="1.3" fill="#0f2208" opacity=".6"/><g fill="#e6e8d6" opacity=".93"><g id="k17"><circle cx="95.3" cy="42.6" r="2.3"/><circle cx="96.4" cy="40.5" r="1.3"/><circle cx="85.8" cy="65.0" r="1.8"/><circle cx="85.8" cy="62.3" r="2.3"/><circle cx="93.0" cy="80.3" r="1.7"/><circle cx="97.8" cy="61.6" r="1.5"/><circle cx="89.1" cy="42.3" r="2.1"/></g></g></g></svg><div class="bd" style="border-width:2px"></div></div>
<div class="t" style="left:692.0px;top:134.3px;width:102.0px;height:92.2px"><svg viewBox="0 0 100 100" preserveAspectRatio="none" style="position:absolute;left:0;top:0;width:100%;height:100%"><rect width="100" height="100" fill="#86cc5f"/><ellipse cx="10" cy="60" rx="12" ry="40" fill="#b0d4b0" opacity="0.7" filter="url(#hz)"/><use href="#W" fill="#1f66e5" stroke="#1f66e5" stroke-width="1.60" transform="matrix(0.938 0 0 0.807 5.71 6.12)"/><polygon points="80.6,100 79.9,90.4 82.1,85.4 85.8,82.1 89.6,78.75 92.5,79.6 94,82.9 93.3,87.1 88.8,91.25 85.8,100" fill="#0a0e0a" filter="url(#rough)"/></svg><div class="bd" style="border-width:2px"></div></div>
<div class="t" style="left:800.0px;top:134.3px;width:102.0px;height:92.2px"><svg viewBox="0 0 100 100" preserveAspectRatio="none" style="position:absolute;left:0;top:0;width:100%;height:100%"><rect width="100" height="100" fill="#67c03f"/><use href="#W" fill="#1f66e5" stroke="#1f66e5" stroke-width="1.63" transform="matrix(0.934 0 0 0.786 6.61 8.03)"/><polygon points="80.6,100 79.9,90.4 82.1,85.4 85.8,82.1 89.6,78.75 92.5,79.6 94,82.9 93.3,87.1 88.8,91.25 85.8,100" fill="#0a0e0a" filter="url(#rough)"/></svg><div class="bd" style="border-width:2px"></div></div>
<div class="t" style="left:913.8px;top:134.3px;width:101.4px;height:92.1px"><svg viewBox="0 0 100 100" preserveAspectRatio="none" style="position:absolute;left:0;top:0;width:100%;height:100%"><rect width="100" height="100" fill="#4a8c25"/><use href="#M" fill="#1f66e5" stroke="#1f66e5" stroke-width="1.63" transform="matrix(0.923 0 0 0.792 5.45 3.33)"/><polygon points="80.9,100 79.4,90.4 80.9,82.0 84.7,82.9 88.4,80.4 92.9,79.5 95.9,84.5 95.1,88.7 91.4,92.1 88.4,100" fill="#0a0e0a"/><g filter="url(#blur)"><use href="#k18" x="-2.6" y="1.3" fill="#0f2208" opacity=".6"/><g fill="#e6e8d6" opacity=".93"><g id="k18"><circle cx="17.9" cy="50.3" r="2.4"/><circle cx="13.0" cy="23.6" r="2.4"/><circle cx="14.8" cy="22.5" r="1.6"/><circle cx="16.1" cy="23.4" r="1.2"/><circle cx="21.5" cy="53.3" r="1.6"/><circle cx="23.8" cy="51.6" r="1.5"/><circle cx="21.0" cy="52.2" r="1.3"/><circle cx="5.3" cy="90.1" r="2.4"/><circle cx="8.7" cy="86.1" r="2.2"/><circle cx="15.2" cy="51.1" r="2.5"/><circle cx="5.0" cy="29.0" r="2.0"/><circle cx="2.7" cy="26.4" r="1.3"/><circle cx="18.8" cy="81.1" r="2.4"/><circle cx="17.6" cy="79.0" r="1.7"/><circle cx="19.1" cy="77.8" r="1.9"/><circle cx="12.7" cy="24.8" r="2.4"/><circle cx="15.4" cy="25.3" r="2.0"/><circle cx="14.3" cy="26.9" r="2.1"/><circle cx="21.1" cy="79.1" r="1.4"/><circle cx="17.8" cy="76.3" r="2.3"/><circle cx="17.4" cy="79.1" r="1.7"/><circle cx="11.0" cy="19.5" r="1.7"/><circle cx="8.6" cy="19.3" r="2.0"/><circle cx="17.4" cy="27.6" r="1.3"/><circle cx="16.7" cy="25.3" r="1.9"/><circle cx="13.0" cy="12.5" r="2.0"/><circle cx="10.4" cy="12.4" r="2.3"/><circle cx="17.0" cy="94.4" r="2.4"/><circle cx="15.3" cy="94.2" r="1.2"/></g></g><use href="#k19" x="-2.6" y="1.3" fill="#0f2208" opacity=".6"/><g fill="#e6e8d6" opacity=".93"><g id="k19"><circle cx="65.0" cy="85.3" r="1.4"/><circle cx="61.2" cy="81.3" r="1.6"/><circle cx="63.5" cy="81.4" r="2.0"/><circle cx="71.4" cy="87.6" r="1.2"/><circle cx="79.5" cy="80.2" r="1.9"/><circle cx="83.4" cy="94.8" r="1.8"/><circle cx="80.7" cy="94.9" r="1.4"/><circle cx="91.5" cy="96.3" r="2.0"/><circle cx="91.1" cy="97.0" r="1.8"/></g></g></g></svg><div class="yr">1997</div><div class="bd" style="border-width:2px"></div></div>
<div class="t" style="left:1021.8px;top:134.3px;width:101.3px;height:92.1px"><svg viewBox="0 0 100 100" preserveAspectRatio="none" style="position:absolute;left:0;top:0;width:100%;height:100%"><rect width="100" height="100" fill="#3c6a1f"/><ellipse cx="20" cy="30" rx="20" ry="20" fill="#c8d8d8" opacity="0.5" filter="url(#hz)"/><ellipse cx="70" cy="20" rx="25" ry="15" fill="#c8d8d8" opacity="0.5" filter="url(#hz)"/><ellipse cx="30" cy="85" rx="25" ry="12" fill="#c8d0d0" opacity="0.5" filter="url(#hz)"/><use href="#M" fill="#1f66e5" stroke="#1f66e5" stroke-width="1.85" transform="matrix(0.928 0 0 0.583 6.06 21.67)"/><polygon points="80.9,100 79.4,90.4 80.9,82.0 84.7,82.9 88.4,80.4 92.9,79.5 95.9,84.5 95.1,88.7 91.4,92.1 88.4,100" fill="#0a0e0a"/><g filter="url(#blur)"><use href="#k20" x="-2.6" y="1.3" fill="#0f2208" opacity=".6"/><g fill="#e6e8d6" opacity=".93"><g id="k20"><circle cx="11.6" cy="9.1" r="1.1"/><circle cx="12.9" cy="7.9" r="1.6"/><circle cx="25.3" cy="55.1" r="1.7"/><circle cx="25.7" cy="51.4" r="1.3"/><circle cx="24.4" cy="53.8" r="1.3"/><circle cx="21.4" cy="64.2" r="2.2"/><circle cx="88.4" cy="55.1" r="1.9"/><circle cx="86.6" cy="53.2" r="1.7"/><circle cx="89.3" cy="52.0" r="1.9"/><circle cx="3.9" cy="8.4" r="1.2"/><circle cx="80.8" cy="64.7" r="2.2"/><circle cx="96.4" cy="5.8" r="1.1"/><circle cx="93.0" cy="7.4" r="1.6"/><circle cx="92.0" cy="5.4" r="1.3"/><circle cx="11.5" cy="75.0" r="1.5"/><circle cx="13.7" cy="72.4" r="2.2"/><circle cx="9.4" cy="76.2" r="1.9"/><circle cx="80.8" cy="38.2" r="2.3"/><circle cx="55.4" cy="71.1" r="1.1"/><circle cx="83.8" cy="23.3" r="1.2"/><circle cx="81.5" cy="20.4" r="1.1"/><circle cx="80.4" cy="20.7" r="2.2"/><circle cx="8.0" cy="31.0" r="2.2"/><circle cx="38.8" cy="89.7" r="2.2"/><circle cx="35.3" cy="89.3" r="1.4"/><circle cx="37.6" cy="85.1" r="1.6"/><circle cx="67.6" cy="91.2" r="1.5"/><circle cx="67.0" cy="91.3" r="1.7"/><circle cx="17.8" cy="23.1" r="1.3"/><circle cx="21.2" cy="21.1" r="1.7"/><circle cx="20.5" cy="20.5" r="1.5"/><circle cx="83.2" cy="65.3" r="2.2"/><circle cx="82.6" cy="65.8" r="1.6"/><circle cx="43.0" cy="12.9" r="2.3"/><circle cx="45.1" cy="13.1" r="1.1"/><circle cx="45.4" cy="13.3" r="1.6"/><circle cx="31.8" cy="38.1" r="1.7"/><circle cx="45.2" cy="29.0" r="1.6"/><circle cx="88.1" cy="39.6" r="2.1"/><circle cx="87.8" cy="40.6" r="1.8"/><circle cx="85.7" cy="43.5" r="1.7"/><circle cx="25.7" cy="23.4" r="2.1"/><circle cx="17.7" cy="64.1" r="2.2"/><circle cx="18.7" cy="61.3" r="1.2"/><circle cx="81.8" cy="80.7" r="1.2"/><circle cx="82.3" cy="77.3" r="1.5"/><circle cx="70.3" cy="37.6" r="1.5"/><circle cx="37.1" cy="43.2" r="1.9"/><circle cx="46.5" cy="16.4" r="1.2"/><circle cx="31.3" cy="90.3" r="2.3"/><circle cx="31.9" cy="88.6" r="1.9"/><circle cx="91.7" cy="43.2" r="2.3"/><circle cx="51.1" cy="75.8" r="1.7"/><circle cx="54.1" cy="76.3" r="2.0"/><circle cx="54.0" cy="78.1" r="1.7"/><circle cx="6.1" cy="8.8" r="1.6"/><circle cx="29.4" cy="18.4" r="1.3"/><circle cx="31.2" cy="21.1" r="2.0"/><circle cx="31.3" cy="9.1" r="2.1"/><circle cx="25.9" cy="53.0" r="1.4"/><circle cx="25.1" cy="55.6" r="1.7"/><circle cx="28.8" cy="51.9" r="1.6"/><circle cx="10.2" cy="5.7" r="2.2"/><circle cx="8.8" cy="7.5" r="1.4"/><circle cx="8.9" cy="8.6" r="1.4"/><circle cx="64.9" cy="58.0" r="1.6"/><circle cx="64.1" cy="54.8" r="1.5"/><circle cx="74.5" cy="75.6" r="2.1"/><circle cx="72.1" cy="72.4" r="2.3"/><circle cx="72.9" cy="72.1" r="2.2"/><circle cx="52.8" cy="40.5" r="2.3"/><circle cx="50.6" cy="38.5" r="2.3"/><circle cx="9.7" cy="10.9" r="2.0"/><circle cx="10.1" cy="12.2" r="2.5"/><circle cx="11.4" cy="10.0" r="1.5"/><circle cx="80.7" cy="48.0" r="1.4"/><circle cx="77.7" cy="50.1" r="1.9"/><circle cx="77.1" cy="48.9" r="1.3"/><circle cx="16.3" cy="45.1" r="2.0"/><circle cx="16.2" cy="45.0" r="1.8"/><circle cx="13.9" cy="47.6" r="1.5"/><circle cx="88.1" cy="31.1" r="1.9"/><circle cx="86.6" cy="30.3" r="2.1"/><circle cx="85.2" cy="29.3" r="1.6"/><circle cx="32.8" cy="67.0" r="2.4"/><circle cx="33.7" cy="64.5" r="2.2"/><circle cx="73.8" cy="78.1" r="1.8"/><circle cx="13.6" cy="88.8" r="2.2"/><circle cx="26.6" cy="64.9" r="1.6"/><circle cx="20.1" cy="40.3" r="2.0"/><circle cx="19.4" cy="41.3" r="1.4"/><circle cx="19.6" cy="40.8" r="1.7"/><circle cx="19.9" cy="97.1" r="1.6"/><circle cx="17.9" cy="92.5" r="1.4"/></g></g></g></svg><div class="bd" style="border-width:2px"></div></div>
<div class="t" style="left:1129.3px;top:134.3px;width:101.1px;height:92.1px"><svg viewBox="0 0 100 100" preserveAspectRatio="none" style="position:absolute;left:0;top:0;width:100%;height:100%"><rect width="100" height="100" fill="#4a6e22"/><ellipse cx="12" cy="25" rx="12" ry="22" fill="#d0e8ec" opacity="0.85" filter="url(#hz)"/><use href="#M" fill="#1f66e5" stroke="#1f66e5" stroke-width="2.71" transform="matrix(0.631 0 0 0.403 31.19 24.56)"/><polygon points="80.9,100 79.4,90.4 80.9,82.0 84.7,82.9 88.4,80.4 92.9,79.5 95.9,84.5 95.1,88.7 91.4,92.1 88.4,100" fill="#0a0e0a"/><g filter="url(#blur)"><use href="#k21" x="-2.6" y="1.3" fill="#0f2208" opacity=".6"/><g fill="#e6e8d6" opacity=".93"><g id="k21"><circle cx="63.5" cy="19.7" r="1.6"/><circle cx="61.9" cy="19.1" r="2.4"/><circle cx="62.6" cy="19.1" r="1.4"/><circle cx="14.5" cy="42.1" r="1.3"/><circle cx="16.5" cy="43.6" r="1.7"/><circle cx="60.9" cy="13.2" r="2.3"/><circle cx="47.4" cy="43.2" r="2.5"/><circle cx="47.3" cy="44.0" r="2.0"/><circle cx="87.7" cy="25.8" r="1.6"/><circle cx="88.8" cy="27.3" r="1.2"/><circle cx="90.6" cy="25.5" r="1.4"/><circle cx="82.5" cy="45.3" r="1.1"/><circle cx="80.7" cy="42.8" r="1.3"/><circle cx="81.9" cy="42.7" r="2.0"/><circle cx="49.1" cy="15.4" r="2.5"/><circle cx="47.7" cy="18.1" r="1.3"/><circle cx="27.2" cy="30.1" r="2.3"/><circle cx="22.9" cy="37.6" r="1.1"/><circle cx="24.4" cy="36.2" r="2.2"/><circle cx="93.4" cy="31.3" r="2.5"/><circle cx="78.7" cy="17.2" r="1.2"/><circle cx="48.4" cy="14.9" r="1.5"/><circle cx="45.9" cy="16.0" r="2.3"/><circle cx="76.5" cy="6.2" r="1.4"/><circle cx="73.3" cy="6.4" r="1.8"/><circle cx="76.3" cy="5.6" r="1.1"/><circle cx="37.8" cy="10.2" r="2.0"/><circle cx="37.8" cy="7.5" r="2.0"/><circle cx="38.2" cy="8.1" r="1.7"/></g></g><use href="#k22" x="-2.6" y="1.3" fill="#0f2208" opacity=".6"/><g fill="#e6e8d6" opacity=".93"><g id="k22"><circle cx="10.7" cy="73.9" r="1.6"/><circle cx="9.2" cy="73.5" r="2.5"/><circle cx="11.4" cy="70.5" r="2.4"/><circle cx="30.5" cy="70.2" r="2.2"/><circle cx="27.4" cy="68.9" r="1.3"/><circle cx="7.9" cy="75.6" r="1.4"/><circle cx="16.3" cy="57.8" r="2.1"/><circle cx="18.9" cy="61.1" r="1.2"/><circle cx="29.6" cy="90.4" r="1.7"/><circle cx="27.5" cy="90.8" r="2.2"/><circle cx="28.8" cy="88.6" r="1.1"/><circle cx="5.3" cy="91.6" r="1.2"/><circle cx="3.3" cy="90.1" r="1.9"/><circle cx="5.7" cy="55.9" r="1.6"/><circle cx="5.8" cy="58.0" r="2.5"/></g></g></g></svg><div class="bd" style="border-width:2px"></div></div>
<div class="t" style="left:1237.3px;top:134.3px;width:101.3px;height:92.1px"><svg viewBox="0 0 100 100" preserveAspectRatio="none" style="position:absolute;left:0;top:0;width:100%;height:100%"><rect width="100" height="100" fill="#588a2c"/><ellipse cx="40" cy="12" rx="20" ry="10" fill="#a0b080" opacity="0.6" filter="url(#hz)"/><use href="#M" fill="#1f66e5" stroke="#1f66e5" stroke-width="2.22" transform="matrix(0.762 0 0 0.500 17.45 19.00)"/><polygon points="80.9,100 79.4,90.4 80.9,82.0 84.7,82.9 88.4,80.4 92.9,79.5 95.9,84.5 95.1,88.7 91.4,92.1 88.4,100" fill="#0a0e0a"/></svg><div class="bd" style="border-width:2px"></div></div>
<div class="t" style="left:34.7px;top:234.6px;width:102.0px;height:91.0px"><svg viewBox="0 0 100 100" preserveAspectRatio="none" style="position:absolute;left:0;top:0;width:100%;height:100%"><rect width="100" height="100" fill="#7cc23b"/><ellipse cx="5" cy="50" rx="8" ry="40" fill="#5a9a3a" opacity="0.6" filter="url(#hz)"/><use href="#A" fill="#1f66e5" stroke="#1f66e5" stroke-width="1.4"/><polygon points="80.9,100 79.4,90.4 80.9,82.0 84.7,82.9 88.4,80.4 92.9,79.5 95.9,84.5 95.1,88.7 91.4,92.1 88.4,100" fill="#0a0e0a"/></svg><div class="yr">2004</div><div class="bd" style="border-width:2px"></div></div>
<div class="t" style="left:142.6px;top:234.6px;width:102.1px;height:91.0px"><svg viewBox="0 0 100 100" preserveAspectRatio="none" style="position:absolute;left:0;top:0;width:100%;height:100%"><rect width="100" height="100" fill="#416c18"/><use href="#A" fill="#1f66e5" stroke="#1f66e5" stroke-width="1.4"/><polygon points="80.9,100 79.4,90.4 80.9,82.0 84.7,82.9 88.4,80.4 92.9,79.5 95.9,84.5 95.1,88.7 91.4,92.1 88.4,100" fill="#0a0e0a"/><g filter="url(#blur)"><use href="#k23" x="-2.6" y="1.3" fill="#0f2208" opacity=".6"/><g fill="#e6e8d6" opacity=".93"><g id="k23"><circle cx="20.3" cy="42.0" r="2.1"/><circle cx="20.7" cy="41.3" r="1.2"/><circle cx="17.9" cy="43.7" r="1.8"/><circle cx="25.3" cy="33.8" r="2.2"/><circle cx="25.1" cy="30.7" r="1.1"/><circle cx="23.8" cy="30.7" r="2.5"/><circle cx="11.0" cy="9.9" r="2.1"/><circle cx="17.0" cy="43.5" r="1.3"/><circle cx="17.2" cy="42.6" r="2.2"/><circle cx="19.3" cy="40.9" r="2.1"/><circle cx="7.5" cy="24.8" r="2.2"/><circle cx="19.2" cy="40.3" r="2.3"/><circle cx="17.3" cy="43.0" r="2.0"/><circle cx="19.1" cy="13.2" r="2.2"/><circle cx="5.1" cy="23.4" r="2.2"/><circle cx="23.3" cy="22.4" r="1.4"/><circle cx="2.7" cy="40.8" r="2.4"/><circle cx="20.9" cy="9.5" r="1.8"/><circle cx="22.1" cy="11.0" r="1.2"/><circle cx="19.9" cy="11.9" r="2.2"/><circle cx="3.0" cy="33.4" r="1.3"/><circle cx="5.1" cy="30.5" r="1.8"/><circle cx="4.5" cy="31.4" r="2.0"/><circle cx="8.4" cy="8.0" r="2.0"/><circle cx="7.5" cy="9.2" r="2.4"/><circle cx="22.9" cy="42.6" r="1.2"/><circle cx="20.8" cy="41.0" r="2.0"/></g></g><use href="#k24" x="-2.6" y="1.3" fill="#0f2208" opacity=".6"/><g fill="#e6e8d6" opacity=".93"><g id="k24"><circle cx="63.7" cy="12.3" r="1.9"/><circle cx="60.4" cy="15.3" r="1.6"/><circle cx="60.4" cy="14.6" r="2.4"/><circle cx="68.3" cy="20.1" r="1.7"/><circle cx="68.6" cy="20.0" r="2.3"/><circle cx="64.1" cy="9.7" r="2.2"/><circle cx="63.5" cy="9.1" r="2.4"/><circle cx="58.7" cy="10.2" r="1.2"/><circle cx="56.9" cy="7.2" r="2.3"/><circle cx="65.8" cy="19.9" r="1.7"/><circle cx="60.8" cy="13.1" r="1.2"/><circle cx="64.3" cy="14.6" r="1.5"/><circle cx="65.8" cy="9.6" r="2.5"/></g></g><use href="#k25" x="-2.6" y="1.3" fill="#0f2208" opacity=".6"/><g fill="#e6e8d6" opacity=".93"><g id="k25"><circle cx="40.1" cy="86.4" r="2.1"/><circle cx="44.5" cy="89.7" r="2.4"/><circle cx="42.1" cy="88.3" r="2.1"/><circle cx="40.0" cy="80.9" r="1.7"/><circle cx="43.6" cy="81.0" r="1.7"/><circle cx="43.8" cy="82.0" r="1.3"/><circle cx="65.7" cy="91.6" r="1.3"/><circle cx="67.0" cy="90.0" r="2.5"/><circle cx="65.9" cy="92.5" r="2.1"/><circle cx="6.2" cy="90.3" r="2.5"/><circle cx="24.3" cy="83.3" r="2.0"/><circle cx="26.6" cy="83.8" r="2.2"/><circle cx="24.2" cy="85.4" r="1.3"/><circle cx="59.5" cy="87.4" r="1.4"/><circle cx="55.3" cy="90.0" r="2.0"/><circle cx="55.5" cy="88.8" r="1.4"/><circle cx="26.9" cy="95.6" r="2.0"/><circle cx="47.7" cy="86.0" r="1.2"/><circle cx="49.8" cy="85.3" r="2.1"/><circle cx="7.5" cy="80.7" r="1.4"/><circle cx="7.0" cy="84.2" r="2.1"/><circle cx="5.1" cy="82.8" r="2.0"/><circle cx="15.0" cy="81.4" r="1.3"/><circle cx="19.4" cy="81.2" r="2.5"/><circle cx="6.3" cy="80.7" r="2.2"/><circle cx="34.3" cy="86.4" r="1.6"/><circle cx="34.0" cy="86.9" r="2.2"/><circle cx="47.0" cy="78.9" r="2.5"/><circle cx="51.1" cy="83.0" r="2.2"/><circle cx="13.4" cy="87.8" r="2.4"/></g></g></g></svg><div class="bd" style="border-width:2px"></div></div>
<div class="t" style="left:250.2px;top:234.6px;width:102.4px;height:91.0px"><svg viewBox="0 0 100 100" preserveAspectRatio="none" style="position:absolute;left:0;top:0;width:100%;height:100%"><rect width="100" height="100" fill="#78c44a"/><ellipse cx="5" cy="20" rx="6" ry="15" fill="#c0d8b8" opacity="0.6" filter="url(#hz)"/><g opacity="0.52" filter="url(#blur)"><use href="#M" fill="#c8a880" stroke="#c8a880" stroke-width="1.4"/></g><use href="#M" fill="#1f66e5" stroke="#1f66e5" stroke-width="2.75" transform="matrix(0.617 0 0 0.401 31.14 24.28)"/><polygon points="80.9,100 79.4,90.4 80.9,82.0 84.7,82.9 88.4,80.4 92.9,79.5 95.9,84.5 95.1,88.7 91.4,92.1 88.4,100" fill="#0a0e0a"/></svg><div class="bd" style="border-width:2px"></div></div>
<div class="t" style="left:358.5px;top:234.6px;width:101.4px;height:91.0px"><svg viewBox="0 0 100 100" preserveAspectRatio="none" style="position:absolute;left:0;top:0;width:100%;height:100%"><rect width="100" height="100" fill="#3b6a1c"/><ellipse cx="8" cy="10" rx="8" ry="8" fill="#c8ecf0" opacity="0.9" filter="url(#hz)"/><ellipse cx="55" cy="8" rx="8" ry="6" fill="#c8ecf0" opacity="0.9" filter="url(#hz)"/><use href="#M" fill="#1f66e5" stroke="#1f66e5" stroke-width="2.80" transform="matrix(0.623 0 0 0.376 31.05 28.28)"/><polygon points="80.9,100 79.4,90.4 80.9,82.0 84.7,82.9 88.4,80.4 92.9,79.5 95.9,84.5 95.1,88.7 91.4,92.1 88.4,100" fill="#0a0e0a"/><g filter="url(#blur)"><use href="#k26" x="-2.6" y="1.3" fill="#0f2208" opacity=".6"/><g fill="#e6e8d6" opacity=".93"><g id="k26"><circle cx="6.6" cy="91.1" r="1.6"/><circle cx="16.5" cy="90.7" r="1.9"/><circle cx="31.1" cy="52.4" r="1.3"/><circle cx="37.1" cy="38.5" r="2.1"/><circle cx="38.5" cy="37.2" r="1.5"/><circle cx="36.1" cy="37.9" r="2.3"/><circle cx="10.1" cy="49.1" r="2.0"/><circle cx="24.0" cy="52.1" r="2.2"/><circle cx="23.2" cy="54.4" r="1.8"/><circle cx="5.0" cy="72.4" r="2.4"/><circle cx="43.4" cy="36.4" r="1.5"/><circle cx="40.8" cy="33.4" r="2.5"/><circle cx="15.7" cy="89.3" r="2.5"/><circle cx="18.8" cy="18.7" r="1.3"/><circle cx="19.3" cy="17.9" r="2.2"/><circle cx="16.6" cy="20.2" r="2.3"/><circle cx="41.3" cy="73.5" r="2.2"/><circle cx="40.8" cy="74.8" r="2.3"/><circle cx="40.4" cy="71.6" r="2.1"/><circle cx="20.2" cy="67.0" r="2.2"/><circle cx="7.9" cy="94.3" r="2.2"/><circle cx="33.0" cy="40.7" r="2.3"/><circle cx="14.0" cy="6.5" r="1.7"/><circle cx="14.5" cy="9.3" r="2.2"/><circle cx="26.4" cy="47.7" r="2.0"/><circle cx="28.2" cy="51.0" r="1.5"/><circle cx="26.8" cy="67.4" r="2.5"/><circle cx="25.7" cy="71.0" r="1.1"/><circle cx="24.6" cy="67.4" r="2.5"/><circle cx="16.8" cy="27.7" r="2.3"/><circle cx="13.5" cy="28.9" r="1.6"/><circle cx="15.3" cy="26.7" r="1.3"/></g></g><use href="#k27" x="-2.6" y="1.3" fill="#0f2208" opacity=".6"/><g fill="#e6e8d6" opacity=".93"><g id="k27"><circle cx="71.6" cy="75.9" r="2.4"/><circle cx="73.9" cy="78.3" r="1.3"/><circle cx="61.7" cy="63.5" r="2.4"/><circle cx="61.2" cy="64.7" r="2.2"/><circle cx="63.6" cy="64.0" r="1.4"/><circle cx="60.9" cy="75.7" r="2.1"/><circle cx="85.5" cy="84.4" r="1.6"/><circle cx="86.4" cy="87.1" r="1.2"/><circle cx="86.3" cy="83.9" r="1.6"/><circle cx="89.0" cy="88.3" r="1.9"/><circle cx="90.9" cy="46.6" r="1.4"/><circle cx="90.6" cy="48.7" r="2.0"/><circle cx="92.9" cy="47.6" r="1.7"/><circle cx="86.6" cy="56.1" r="1.7"/><circle cx="89.2" cy="54.5" r="2.1"/><circle cx="72.5" cy="80.9" r="2.2"/><circle cx="72.0" cy="84.8" r="1.7"/><circle cx="79.4" cy="98.5" r="1.8"/><circle cx="79.4" cy="95.9" r="2.2"/><circle cx="94.8" cy="87.1" r="2.0"/><circle cx="72.4" cy="55.6" r="1.5"/></g></g><use href="#k28" x="-2.6" y="1.3" fill="#0f2208" opacity=".6"/><g fill="#e6e8d6" opacity=".93"><g id="k28"><circle cx="48.9" cy="8.7" r="2.1"/><circle cx="51.5" cy="5.3" r="2.0"/><circle cx="49.7" cy="8.5" r="1.5"/><circle cx="54.1" cy="13.9" r="2.4"/><circle cx="52.9" cy="17.9" r="2.0"/><circle cx="52.5" cy="14.6" r="1.8"/><circle cx="51.2" cy="14.2" r="1.7"/><circle cx="50.6" cy="13.7" r="1.6"/><circle cx="49.2" cy="10.8" r="1.4"/><circle cx="56.3" cy="18.0" r="1.9"/><circle cx="59.8" cy="17.4" r="2.2"/><circle cx="56.7" cy="16.0" r="1.6"/></g></g></g></svg><div class="bd" style="border-width:2px"></div></div>
<div class="t" style="left:476.4px;top:234.6px;width:102.0px;height:91.0px"><svg viewBox="0 0 100 100" preserveAspectRatio="none" style="position:absolute;left:0;top:0;width:100%;height:100%"><rect width="100" height="100" fill="#86ba40"/><ellipse cx="20" cy="70" rx="18" ry="25" fill="#7aa850" opacity="0.5" filter="url(#hz)"/><use href="#A" fill="#1f66e5" stroke="#1f66e5" stroke-width="1.4"/><polygon points="80.9,100 79.4,90.4 80.9,82.0 84.7,82.9 88.4,80.4 92.9,79.5 95.9,84.5 95.1,88.7 91.4,92.1 88.4,100" fill="#1818a0"/></svg><div class="yr">2005</div><div class="bd" style="border-width:2px"></div></div>
<div class="t" style="left:584.3px;top:234.6px;width:101.4px;height:91.0px"><svg viewBox="0 0 100 100" preserveAspectRatio="none" style="position:absolute;left:0;top:0;width:100%;height:100%"><rect width="100" height="100" fill="#73c449"/><use href="#A" fill="#1f66e5" stroke="#1f66e5" stroke-width="1.4"/><polygon points="80.9,100 79.4,90.4 80.9,82.0 84.7,82.9 88.4,80.4 92.9,79.5 95.9,84.5 95.1,88.7 91.4,92.1 88.4,100" fill="#0a0e0a"/><g filter="url(#blur)"><use href="#k29" x="-2.6" y="1.3" fill="#0f2208" opacity=".6"/><g fill="#e6e8d6" opacity=".93"><g id="k29"><circle cx="8.1" cy="36.9" r="2.2"/><circle cx="5.2" cy="35.4" r="1.8"/><circle cx="9.4" cy="35.6" r="1.6"/><circle cx="11.1" cy="10.1" r="2.2"/><circle cx="11.4" cy="8.7" r="2.0"/><circle cx="8.8" cy="17.1" r="2.0"/><circle cx="10.9" cy="13.6" r="1.6"/><circle cx="6.9" cy="20.2" r="1.5"/><circle cx="6.6" cy="28.8" r="2.1"/><circle cx="6.5" cy="25.3" r="2.3"/></g></g></g></svg><div class="bd" style="border-width:2px"></div></div>
<div class="t" style="left:692.2px;top:234.6px;width:101.4px;height:91.0px"><svg viewBox="0 0 100 100" preserveAspectRatio="none" style="position:absolute;left:0;top:0;width:100%;height:100%"><rect width="100" height="100" fill="#86cd60"/><ellipse cx="92" cy="40" rx="10" ry="40" fill="#c8d0c0" opacity="0.6" filter="url(#hz)"/><ellipse cx="10" cy="60" rx="12" ry="30" fill="#a8d0a8" opacity="0.5" filter="url(#hz)"/><use href="#W" fill="#1f66e5" stroke="#1f66e5" stroke-width="1.37" transform="matrix(1.070 0 0 0.980 -1.30 0.81)"/><polygon points="80.6,100 79.9,90.4 82.1,85.4 85.8,82.1 89.6,78.75 92.5,79.6 94,82.9 93.3,87.1 88.8,91.25 85.8,100" fill="#0a0e0a" filter="url(#rough)"/></svg><div class="bd" style="border-width:2px"></div></div>
<div class="t" style="left:800.1px;top:234.6px;width:101.4px;height:91.0px"><svg viewBox="0 0 100 100" preserveAspectRatio="none" style="position:absolute;left:0;top:0;width:100%;height:100%"><rect width="100" height="100" fill="#4a8c25"/><use href="#A" fill="#1f66e5" stroke="#1f66e5" stroke-width="1.4"/><polygon points="80.9,100 79.4,90.4 80.9,82.0 84.7,82.9 88.4,80.4 92.9,79.5 95.9,84.5 95.1,88.7 91.4,92.1 88.4,100" fill="#0a0e0a"/><g filter="url(#blur)"><use href="#k30" x="-2.6" y="1.3" fill="#0f2208" opacity=".6"/><g fill="#e6e8d6" opacity=".93"><g id="k30"><circle cx="7.4" cy="18.3" r="1.4"/><circle cx="10.2" cy="20.6" r="1.1"/><circle cx="7.9" cy="21.1" r="1.8"/><circle cx="14.8" cy="12.5" r="2.1"/><circle cx="10.5" cy="15.7" r="2.2"/><circle cx="9.0" cy="20.8" r="2.5"/><circle cx="14.3" cy="16.2" r="2.4"/><circle cx="11.9" cy="16.4" r="2.1"/><circle cx="13.7" cy="16.8" r="2.5"/></g></g></g></svg><div class="bd" style="border-width:2px"></div></div>
<div class="t" style="left:913.8px;top:234.6px;width:101.4px;height:91.0px"><svg viewBox="0 0 100 100" preserveAspectRatio="none" style="position:absolute;left:0;top:0;width:100%;height:100%"><rect width="100" height="100" fill="#3b6e1e"/><use href="#A" fill="#1f66e5" stroke="#1f66e5" stroke-width="1.4"/><polygon points="80.9,100 79.4,90.4 80.9,82.0 84.7,82.9 88.4,80.4 92.9,79.5 95.9,84.5 95.1,88.7 91.4,92.1 88.4,100" fill="#0a0e0a"/><g filter="url(#blur)"><use href="#k31" x="-2.6" y="1.3" fill="#0f2208" opacity=".6"/><g fill="#e6e8d6" opacity=".93"><g id="k31"><circle cx="28.0" cy="23.6" r="2.3"/><circle cx="5.9" cy="20.1" r="1.7"/><circle cx="29.6" cy="36.7" r="2.4"/><circle cx="29.9" cy="34.6" r="2.0"/><circle cx="28.7" cy="35.1" r="2.1"/><circle cx="16.6" cy="41.8" r="2.3"/><circle cx="19.0" cy="14.8" r="2.4"/><circle cx="21.0" cy="6.6" r="1.6"/><circle cx="20.8" cy="8.0" r="1.4"/><circle cx="19.5" cy="6.1" r="2.1"/><circle cx="21.3" cy="7.5" r="1.5"/><circle cx="5.4" cy="38.7" r="1.9"/><circle cx="5.2" cy="39.4" r="1.7"/><circle cx="28.2" cy="25.1" r="1.2"/><circle cx="11.8" cy="13.1" r="2.1"/><circle cx="12.1" cy="11.9" r="1.4"/><circle cx="12.9" cy="11.9" r="2.1"/><circle cx="20.9" cy="40.0" r="2.1"/><circle cx="19.4" cy="40.0" r="1.6"/><circle cx="24.0" cy="43.2" r="2.5"/><circle cx="21.7" cy="39.7" r="2.2"/><circle cx="20.6" cy="41.7" r="2.1"/><circle cx="8.5" cy="30.6" r="1.9"/><circle cx="8.2" cy="33.9" r="1.6"/><circle cx="7.0" cy="31.8" r="1.9"/></g></g><use href="#k32" x="-2.6" y="1.3" fill="#0f2208" opacity=".6"/><g fill="#e6e8d6" opacity=".93"><g id="k32"><circle cx="53.0" cy="94.0" r="2.0"/><circle cx="49.1" cy="93.6" r="1.7"/><circle cx="51.6" cy="94.6" r="1.7"/><circle cx="76.1" cy="89.5" r="2.5"/><circle cx="74.5" cy="85.2" r="1.5"/><circle cx="73.7" cy="85.8" r="2.1"/><circle cx="72.9" cy="78.4" r="2.3"/><circle cx="51.7" cy="83.9" r="2.4"/><circle cx="52.2" cy="85.1" r="2.0"/><circle cx="50.3" cy="83.9" r="2.0"/><circle cx="53.5" cy="79.9" r="1.5"/><circle cx="50.2" cy="78.9" r="2.0"/><circle cx="58.3" cy="83.0" r="1.2"/><circle cx="64.0" cy="79.8" r="1.4"/><circle cx="64.2" cy="81.5" r="1.7"/></g></g></g></svg><div class="yr">2006</div><div class="bd" style="border-width:2px"></div></div>
<div class="t" style="left:1021.8px;top:234.6px;width:101.3px;height:91.0px"><svg viewBox="0 0 100 100" preserveAspectRatio="none" style="position:absolute;left:0;top:0;width:100%;height:100%"><rect width="100" height="100" fill="#549828"/><use href="#A" fill="#1f66e5" stroke="#1f66e5" stroke-width="1.4"/><polygon points="80.9,100 79.4,90.4 80.9,82.0 84.7,82.9 88.4,80.4 92.9,79.5 95.9,84.5 95.1,88.7 91.4,92.1 88.4,100" fill="#0a0e0a"/></svg><div class="bd" style="border-width:2px"></div></div>
<div class="t" style="left:1129.3px;top:234.6px;width:101.1px;height:91.0px"><svg viewBox="0 0 100 100" preserveAspectRatio="none" style="position:absolute;left:0;top:0;width:100%;height:100%"><rect width="100" height="100" fill="#7aca56"/><ellipse cx="15" cy="15" rx="15" ry="12" fill="#b0d8b0" opacity="0.6" filter="url(#hz)"/><use href="#W" fill="#1f66e5" stroke="#1f66e5" stroke-width="1.44" transform="matrix(1.016 0 0 0.933 1.16 3.05)"/><polygon points="80.6,100 79.9,90.4 82.1,85.4 85.8,82.1 89.6,78.75 92.5,79.6 94,82.9 93.3,87.1 88.8,91.25 85.8,100" fill="#0a0e0a" filter="url(#rough)"/></svg><div class="bd" style="border-width:2px"></div></div>
<div class="t" style="left:1237.3px;top:234.6px;width:101.3px;height:91.0px"><svg viewBox="0 0 100 100" preserveAspectRatio="none" style="position:absolute;left:0;top:0;width:100%;height:100%"><rect width="100" height="100" fill="#6fc645"/><use href="#W" fill="#1f66e5" stroke="#1f66e5" stroke-width="1.44" transform="matrix(1.034 0 0 0.910 -0.33 3.18)"/><polygon points="80.6,100 79.9,90.4 82.1,85.4 85.8,82.1 89.6,78.75 92.5,79.6 94,82.9 93.3,87.1 88.8,91.25 85.8,100" fill="#0a0e0a" filter="url(#rough)"/></svg><div class="bd" style="border-width:2px"></div></div>
<div class="t" style="left:34.7px;top:333.9px;width:102.0px;height:91.4px"><svg viewBox="0 0 100 100" preserveAspectRatio="none" style="position:absolute;left:0;top:0;width:100%;height:100%"><rect width="100" height="100" fill="#3a6a1e"/><ellipse cx="55" cy="20" rx="18" ry="14" fill="#d0e8f0" opacity="0.85" filter="url(#hz)"/><ellipse cx="10" cy="45" rx="10" ry="15" fill="#d0e8f0" opacity="0.8" filter="url(#hz)"/><ellipse cx="90" cy="60" rx="10" ry="18" fill="#d8e8ec" opacity="0.8" filter="url(#hz)"/><use href="#A" fill="#1f66e5" stroke="#1f66e5" stroke-width="1.66" transform="matrix(0.948 0 0 0.736 2.74 16.02)"/><polygon points="80.9,100 79.4,90.4 80.9,82.0 84.7,82.9 88.4,80.4 92.9,79.5 95.9,84.5 95.1,88.7 91.4,92.1 88.4,100" fill="#0a0e0a"/><g filter="url(#blur)"><use href="#k33" x="-2.6" y="1.3" fill="#0f2208" opacity=".6"/><g fill="#e6e8d6" opacity=".93"><g id="k33"><circle cx="28.3" cy="60.7" r="2.2"/><circle cx="5.4" cy="23.2" r="1.9"/><circle cx="25.4" cy="37.9" r="1.2"/><circle cx="22.2" cy="40.7" r="2.4"/><circle cx="17.3" cy="72.1" r="2.2"/><circle cx="6.7" cy="77.1" r="1.9"/><circle cx="6.2" cy="70.8" r="2.2"/><circle cx="8.5" cy="74.0" r="2.1"/><circle cx="5.7" cy="74.0" r="2.3"/><circle cx="14.8" cy="79.5" r="1.1"/><circle cx="14.4" cy="79.1" r="1.5"/><circle cx="9.5" cy="93.4" r="1.3"/><circle cx="12.9" cy="92.3" r="1.7"/><circle cx="11.4" cy="25.4" r="1.3"/><circle cx="13.4" cy="85.6" r="1.5"/><circle cx="12.0" cy="22.5" r="1.7"/><circle cx="9.5" cy="22.5" r="2.0"/><circle cx="9.2" cy="23.6" r="1.9"/><circle cx="9.4" cy="23.6" r="2.1"/><circle cx="8.5" cy="24.2" r="2.2"/><circle cx="23.5" cy="87.4" r="1.3"/><circle cx="24.7" cy="86.0" r="1.5"/><circle cx="15.9" cy="76.1" r="2.3"/><circle cx="24.3" cy="53.8" r="1.4"/><circle cx="24.2" cy="55.6" r="1.6"/><circle cx="29.2" cy="91.2" r="1.7"/><circle cx="28.4" cy="87.8" r="1.6"/><circle cx="17.7" cy="45.7" r="1.2"/><circle cx="14.9" cy="45.7" r="2.0"/><circle cx="24.4" cy="67.0" r="1.9"/><circle cx="22.1" cy="66.2" r="1.4"/></g></g><use href="#k34" x="-2.6" y="1.3" fill="#0f2208" opacity=".6"/><g fill="#e6e8d6" opacity=".93"><g id="k34"><circle cx="56.6" cy="26.3" r="1.7"/><circle cx="56.0" cy="28.5" r="2.1"/><circle cx="66.8" cy="35.6" r="2.5"/><circle cx="52.1" cy="23.9" r="1.3"/><circle cx="47.8" cy="23.0" r="2.5"/><circle cx="50.1" cy="25.1" r="1.1"/><circle cx="57.2" cy="7.2" r="1.8"/><circle cx="59.2" cy="6.3" r="1.9"/><circle cx="70.8" cy="7.1" r="2.5"/><circle cx="71.9" cy="7.1" r="1.2"/><circle cx="37.8" cy="27.5" r="2.3"/><circle cx="46.9" cy="23.3" r="2.5"/><circle cx="49.0" cy="24.8" r="2.4"/><circle cx="40.1" cy="9.4" r="1.3"/><circle cx="56.9" cy="34.1" r="1.7"/><circle cx="61.8" cy="6.6" r="1.3"/><circle cx="64.5" cy="7.3" r="1.5"/><circle cx="65.4" cy="5.4" r="2.1"/><circle cx="73.5" cy="12.5" r="2.5"/><circle cx="73.5" cy="13.1" r="2.1"/><circle cx="74.7" cy="11.6" r="2.5"/><circle cx="33.0" cy="34.2" r="2.2"/><circle cx="35.5" cy="29.8" r="2.0"/><circle cx="33.0" cy="31.1" r="1.7"/><circle cx="55.3" cy="28.1" r="2.2"/><circle cx="46.8" cy="16.8" r="2.2"/><circle cx="47.8" cy="20.5" r="1.8"/><circle cx="49.3" cy="19.2" r="2.0"/></g></g><use href="#k35" x="-2.6" y="1.3" fill="#0f2208" opacity=".6"/><g fill="#e6e8d6" opacity=".93"><g id="k35"><circle cx="80.5" cy="35.2" r="1.6"/><circle cx="80.1" cy="71.3" r="2.2"/><circle cx="86.0" cy="78.1" r="1.6"/><circle cx="84.8" cy="71.8" r="1.2"/><circle cx="87.1" cy="69.0" r="2.0"/><circle cx="85.1" cy="69.8" r="1.3"/><circle cx="94.9" cy="95.0" r="1.9"/><circle cx="94.2" cy="67.7" r="2.3"/><circle cx="96.6" cy="67.3" r="2.0"/><circle cx="85.9" cy="32.0" r="1.8"/><circle cx="82.7" cy="48.9" r="2.3"/><circle cx="94.1" cy="64.8" r="1.6"/><circle cx="93.1" cy="64.2" r="1.9"/><circle cx="92.0" cy="52.2" r="2.4"/><circle cx="94.0" cy="51.8" r="2.5"/><circle cx="87.7" cy="51.7" r="2.2"/></g></g></g><ellipse cx="50" cy="60" rx="10" ry="10" fill="#c8d8e0" opacity="0.6" filter="url(#hz)"/></svg><div class="yr">2007</div><div class="bd" style="border-width:2px"></div></div>
<div class="t" style="left:142.6px;top:333.9px;width:102.1px;height:91.4px"><svg viewBox="0 0 100 100" preserveAspectRatio="none" style="position:absolute;left:0;top:0;width:100%;height:100%"><rect width="100" height="100" fill="#42801f"/><use href="#A" fill="#1f66e5" stroke="#1f66e5" stroke-width="1.4"/><polygon points="80.9,100 79.4,90.4 80.9,82.0 84.7,82.9 88.4,80.4 92.9,79.5 95.9,84.5 95.1,88.7 91.4,92.1 88.4,100" fill="#0a0e0a"/><g filter="url(#blur)"><use href="#k36" x="-2.6" y="1.3" fill="#0f2208" opacity=".6"/><g fill="#e6e8d6" opacity=".93"><g id="k36"><circle cx="11.0" cy="26.2" r="1.6"/><circle cx="10.3" cy="25.7" r="1.9"/><circle cx="10.7" cy="25.4" r="1.7"/><circle cx="5.8" cy="13.2" r="1.9"/><circle cx="14.5" cy="24.5" r="1.2"/><circle cx="15.2" cy="23.3" r="1.7"/><circle cx="11.4" cy="12.7" r="1.9"/><circle cx="14.3" cy="9.6" r="2.3"/><circle cx="10.9" cy="11.0" r="1.4"/><circle cx="6.2" cy="37.7" r="2.0"/><circle cx="8.7" cy="37.8" r="1.8"/><circle cx="5.5" cy="38.3" r="1.3"/></g></g><use href="#k37" x="-2.6" y="1.3" fill="#0f2208" opacity=".6"/><g fill="#e6e8d6" opacity=".93"><g id="k37"><circle cx="84.4" cy="15.8" r="1.2"/><circle cx="91.1" cy="23.6" r="1.8"/><circle cx="89.8" cy="25.8" r="2.4"/><circle cx="94.6" cy="32.2" r="1.9"/><circle cx="93.2" cy="30.1" r="1.4"/><circle cx="85.0" cy="21.9" r="2.0"/><circle cx="94.2" cy="32.9" r="1.1"/><circle cx="96.3" cy="30.8" r="1.4"/><circle cx="92.5" cy="33.2" r="1.4"/></g></g></g></svg><div class="bd" style="border-width:2px"></div></div>
<div class="t" style="left:250.2px;top:333.9px;width:102.4px;height:91.4px"><svg viewBox="0 0 100 100" preserveAspectRatio="none" style="position:absolute;left:0;top:0;width:100%;height:100%"><rect width="100" height="100" fill="#80cc5f"/><ellipse cx="15" cy="70" rx="15" ry="30" fill="#b0d8c0" opacity="0.7" filter="url(#hz)"/><use href="#W" fill="#1f66e5" stroke="#1f66e5" stroke-width="1.35" transform="matrix(1.070 0 0 1.004 -1.30 0.68)"/><polygon points="80.6,100 79.9,90.4 82.1,85.4 85.8,82.1 89.6,78.75 92.5,79.6 94,82.9 93.3,87.1 88.8,91.25 85.8,100" fill="#0a0e0a" filter="url(#rough)"/></svg><div class="bd" style="border-width:2px"></div></div>
<div class="t" style="left:358.5px;top:333.9px;width:101.4px;height:91.4px"><svg viewBox="0 0 100 100" preserveAspectRatio="none" style="position:absolute;left:0;top:0;width:100%;height:100%"><rect width="100" height="100" fill="#5ec253"/><ellipse cx="15" cy="70" rx="22" ry="35" fill="#e0f0e8" opacity="0.85" filter="url(#hz)"/><use href="#W" fill="#1f66e5" stroke="#1f66e5" stroke-width="1.47" transform="matrix(0.998 0 0 0.910 2.65 5.18)"/><polygon points="80.6,100 79.9,90.4 82.1,85.4 85.8,82.1 89.6,78.75 92.5,79.6 94,82.9 93.3,87.1 88.8,91.25 85.8,100" fill="#0a0e0a" filter="url(#rough)"/></svg><div class="bd" style="border-width:2px"></div></div>
<div class="t" style="left:474.4px;top:333.9px;width:101.7px;height:91.4px"><svg viewBox="0 0 100 100" preserveAspectRatio="none" style="position:absolute;left:0;top:0;width:100%;height:100%"><rect width="100" height="100" fill="#3a6a1e"/><use href="#A" fill="#1f66e5" stroke="#1f66e5" stroke-width="1.4"/><polygon points="80.9,100 79.4,90.4 80.9,82.0 84.7,82.9 88.4,80.4 92.9,79.5 95.9,84.5 95.1,88.7 91.4,92.1 88.4,100" fill="#0a0e0a"/><g filter="url(#blur)"><use href="#k38" x="-2.6" y="1.3" fill="#0f2208" opacity=".6"/><g fill="#e6e8d6" opacity=".93"><g id="k38"><circle cx="34.5" cy="54.8" r="1.1"/><circle cx="32.8" cy="52.8" r="2.2"/><circle cx="11.4" cy="33.0" r="1.3"/><circle cx="9.1" cy="34.8" r="1.3"/><circle cx="9.6" cy="21.3" r="2.3"/><circle cx="11.0" cy="22.2" r="2.3"/><circle cx="12.1" cy="20.7" r="2.4"/><circle cx="28.4" cy="39.7" r="1.6"/><circle cx="27.3" cy="36.5" r="2.3"/><circle cx="23.6" cy="36.6" r="1.8"/><circle cx="2.8" cy="22.0" r="2.1"/><circle cx="5.3" cy="23.6" r="2.1"/><circle cx="5.3" cy="24.2" r="2.5"/><circle cx="31.2" cy="69.0" r="1.9"/><circle cx="5.4" cy="39.0" r="2.2"/><circle cx="2.2" cy="38.5" r="2.0"/><circle cx="20.2" cy="78.8" r="1.8"/><circle cx="21.3" cy="79.1" r="2.1"/><circle cx="23.0" cy="80.8" r="1.5"/><circle cx="35.2" cy="85.3" r="1.8"/><circle cx="20.7" cy="71.7" r="1.2"/><circle cx="19.1" cy="67.3" r="2.2"/><circle cx="19.6" cy="69.6" r="1.2"/><circle cx="29.8" cy="22.0" r="1.3"/><circle cx="28.1" cy="23.3" r="1.7"/><circle cx="26.8" cy="22.3" r="2.4"/><circle cx="15.1" cy="36.0" r="2.2"/><circle cx="1.4" cy="62.7" r="1.9"/><circle cx="3.5" cy="60.4" r="2.0"/><circle cx="4.3" cy="62.6" r="2.0"/><circle cx="12.1" cy="24.8" r="1.7"/><circle cx="10.9" cy="25.6" r="2.0"/><circle cx="9.7" cy="25.8" r="2.3"/><circle cx="22.6" cy="55.9" r="2.0"/><circle cx="37.0" cy="44.4" r="2.2"/><circle cx="39.2" cy="43.1" r="1.7"/><circle cx="35.9" cy="44.6" r="1.9"/><circle cx="9.1" cy="96.3" r="1.2"/><circle cx="8.2" cy="95.6" r="1.7"/><circle cx="27.4" cy="12.9" r="1.6"/><circle cx="28.0" cy="12.0" r="2.0"/><circle cx="29.5" cy="11.1" r="1.9"/></g></g><use href="#k39" x="-2.6" y="1.3" fill="#0f2208" opacity=".6"/><g fill="#e6e8d6" opacity=".93"><g id="k39"><circle cx="91.6" cy="51.2" r="2.4"/><circle cx="91.3" cy="51.8" r="1.4"/><circle cx="89.0" cy="50.2" r="2.1"/><circle cx="85.5" cy="83.1" r="1.3"/><circle cx="91.4" cy="66.4" r="1.4"/><circle cx="93.3" cy="68.8" r="1.5"/><circle cx="95.1" cy="70.0" r="1.1"/><circle cx="89.9" cy="43.6" r="2.3"/><circle cx="86.9" cy="47.8" r="2.3"/><circle cx="89.7" cy="47.5" r="2.4"/><circle cx="69.3" cy="41.7" r="1.9"/><circle cx="68.9" cy="41.3" r="1.5"/><circle cx="67.7" cy="41.1" r="1.2"/><circle cx="76.2" cy="43.2" r="2.3"/><circle cx="77.5" cy="43.0" r="1.6"/><circle cx="76.7" cy="42.9" r="2.0"/><circle cx="78.7" cy="56.0" r="1.9"/><circle cx="80.0" cy="56.0" r="2.4"/><circle cx="80.7" cy="55.9" r="1.4"/><circle cx="71.1" cy="50.2" r="1.5"/><circle cx="66.4" cy="49.7" r="1.5"/><circle cx="66.2" cy="46.1" r="1.8"/><circle cx="66.4" cy="86.2" r="1.6"/><circle cx="61.9" cy="86.3" r="1.3"/><circle cx="71.2" cy="40.6" r="2.4"/><circle cx="72.4" cy="43.4" r="2.1"/><circle cx="69.9" cy="45.5" r="2.3"/></g></g></g></svg><div class="yr">2008</div><div class="bd" style="border-width:2px"></div></div>
<div class="t" style="left:583.3px;top:333.9px;width:101.7px;height:91.4px"><svg viewBox="0 0 100 100" preserveAspectRatio="none" style="position:absolute;left:0;top:0;width:100%;height:100%"><rect width="100" height="100" fill="#41781f"/><ellipse cx="12" cy="20" rx="8" ry="12" fill="#e0e4e0" opacity="0.8" filter="url(#hz)"/><use href="#A" fill="#1f66e5" stroke="#1f66e5" stroke-width="1.4"/><polygon points="80.9,100 79.4,90.4 80.9,82.0 84.7,82.9 88.4,80.4 92.9,79.5 95.9,84.5 95.1,88.7 91.4,92.1 88.4,100" fill="#0a0e0a"/><g filter="url(#blur)"><use href="#k40" x="-2.6" y="1.3" fill="#0f2208" opacity=".6"/><g fill="#e6e8d6" opacity=".93"><g id="k40"><circle cx="8.3" cy="36.9" r="1.9"/><circle cx="6.7" cy="40.4" r="2.1"/><circle cx="10.9" cy="40.0" r="1.8"/><circle cx="19.2" cy="40.0" r="2.5"/><circle cx="19.3" cy="39.3" r="2.4"/><circle cx="20.3" cy="42.2" r="2.0"/><circle cx="5.7" cy="11.2" r="1.6"/><circle cx="15.8" cy="9.3" r="1.2"/><circle cx="16.2" cy="10.7" r="1.9"/><circle cx="19.6" cy="9.4" r="2.3"/><circle cx="19.4" cy="35.0" r="2.3"/><circle cx="17.2" cy="37.3" r="2.4"/><circle cx="16.7" cy="38.5" r="1.2"/><circle cx="8.2" cy="21.5" r="2.0"/><circle cx="19.1" cy="17.6" r="1.5"/><circle cx="19.4" cy="17.9" r="1.9"/><circle cx="22.6" cy="18.4" r="1.7"/><circle cx="24.6" cy="38.6" r="1.4"/><circle cx="22.7" cy="36.9" r="1.4"/><circle cx="8.1" cy="34.8" r="1.7"/><circle cx="10.5" cy="35.3" r="1.8"/><circle cx="6.3" cy="31.2" r="1.1"/></g></g><use href="#k41" x="-2.6" y="1.3" fill="#0f2208" opacity=".6"/><g fill="#e6e8d6" opacity=".93"><g id="k41"><circle cx="40.7" cy="93.6" r="1.5"/><circle cx="10.5" cy="78.8" r="1.9"/><circle cx="8.6" cy="76.8" r="1.2"/><circle cx="52.0" cy="76.5" r="2.0"/><circle cx="52.6" cy="75.0" r="1.3"/><circle cx="28.8" cy="79.7" r="2.3"/><circle cx="37.9" cy="88.8" r="1.9"/><circle cx="41.9" cy="87.6" r="2.0"/><circle cx="42.1" cy="88.2" r="2.3"/><circle cx="16.6" cy="85.9" r="2.1"/><circle cx="15.4" cy="83.1" r="2.2"/><circle cx="62.5" cy="83.5" r="1.2"/><circle cx="62.5" cy="84.9" r="2.4"/><circle cx="67.4" cy="88.4" r="1.7"/><circle cx="65.4" cy="84.6" r="1.2"/><circle cx="66.1" cy="84.4" r="1.7"/><circle cx="30.5" cy="77.2" r="1.3"/><circle cx="30.0" cy="75.4" r="1.8"/></g></g></g></svg><div class="bd" style="border-width:2px"></div></div>
<div class="t" style="left:690.9px;top:333.9px;width:101.7px;height:91.4px"><svg viewBox="0 0 100 100" preserveAspectRatio="none" style="position:absolute;left:0;top:0;width:100%;height:100%"><rect width="100" height="100" fill="#80c856"/><use href="#W" fill="#1f66e5" stroke="#1f66e5" stroke-width="1.35" transform="matrix(1.070 0 0 1.004 -1.30 0.68)"/><polygon points="80.6,100 79.9,90.4 82.1,85.4 85.8,82.1 89.6,78.75 92.5,79.6 94,82.9 93.3,87.1 88.8,91.25 85.8,100" fill="#0a0e0a" filter="url(#rough)"/></svg><div class="bd" style="border-width:2px"></div></div>
<div class="t" style="left:798.5px;top:333.9px;width:102.0px;height:91.4px"><svg viewBox="0 0 100 100" preserveAspectRatio="none" style="position:absolute;left:0;top:0;width:100%;height:100%"><rect width="100" height="100" fill="#6bc44d"/><ellipse cx="95" cy="50" rx="6" ry="40" fill="#a8c8c8" opacity="0.5" filter="url(#hz)"/><use href="#W" fill="#1f66e5" stroke="#1f66e5" stroke-width="1.35" transform="matrix(1.070 0 0 1.004 -1.30 0.68)"/><polygon points="80.6,100 79.9,90.4 82.1,85.4 85.8,82.1 89.6,78.75 92.5,79.6 94,82.9 93.3,87.1 88.8,91.25 85.8,100" fill="#0a0e0a" filter="url(#rough)"/></svg><div class="bd" style="border-width:2px"></div></div>
<div class="t" style="left:913.8px;top:333.9px;width:101.4px;height:92.4px"><svg viewBox="0 0 100 100" preserveAspectRatio="none" style="position:absolute;left:0;top:0;width:100%;height:100%"><rect width="100" height="100" fill="#3c7a1f"/><polygon points="92.1,0 98.4,0 86.9,100 74.4,100" fill="url(#stripes)"/><polygon points="98.4,0 100,0 100,100 86.9,100" fill="#fff"/><use href="#A" fill="#1f66e5" stroke="#1f66e5" stroke-width="1.4"/><polygon points="80.9,100 79.4,90.4 80.9,82.0 84.7,82.9 88.4,80.4 92.9,79.5 95.9,84.5 95.1,88.7 91.4,92.1 88.4,100" fill="#0a0e0a"/><g filter="url(#blur)"><use href="#k42" x="-2.6" y="1.3" fill="#0f2208" opacity=".6"/><g fill="#e6e8d6" opacity=".93"><g id="k42"><circle cx="8.2" cy="49.6" r="1.8"/><circle cx="6.5" cy="45.7" r="2.0"/><circle cx="5.1" cy="46.1" r="1.7"/><circle cx="17.0" cy="41.7" r="2.5"/><circle cx="19.1" cy="43.5" r="1.2"/><circle cx="18.6" cy="45.4" r="1.4"/><circle cx="19.2" cy="53.7" r="1.7"/><circle cx="13.8" cy="33.5" r="2.2"/><circle cx="14.8" cy="19.7" r="1.7"/><circle cx="6.2" cy="56.6" r="1.8"/><circle cx="10.7" cy="54.0" r="1.4"/><circle cx="9.2" cy="32.6" r="1.1"/><circle cx="10.2" cy="34.1" r="1.6"/><circle cx="11.0" cy="22.6" r="2.1"/><circle cx="13.8" cy="22.2" r="1.7"/><circle cx="20.7" cy="36.6" r="2.1"/><circle cx="18.4" cy="37.0" r="2.0"/></g></g></g></svg><div class="yr">2009</div><div class="bd" style="border-width:2px"></div></div>
<div class="t" style="left:1022.8px;top:333.9px;width:101.4px;height:92.4px"><svg viewBox="0 0 100 100" preserveAspectRatio="none" style="position:absolute;left:0;top:0;width:100%;height:100%"><rect width="100" height="100" fill="#84cb5d"/><ellipse cx="10" cy="50" rx="12" ry="40" fill="#a8d0a8" opacity="0.6" filter="url(#hz)"/><use href="#W" fill="#1f66e5" stroke="#1f66e5" stroke-width="1.37" transform="matrix(1.034 0 0 1.004 -0.33 0.68)"/><polygon points="80.6,100 79.9,90.4 82.1,85.4 85.8,82.1 89.6,78.75 92.5,79.6 94,82.9 93.3,87.1 88.8,91.25 85.8,100" fill="#0a0e0a" filter="url(#rough)"/></svg><div class="bd" style="border-width:2px"></div></div>
<div class="t" style="left:1130.0px;top:333.9px;width:102.1px;height:92.4px"><svg viewBox="0 0 100 100" preserveAspectRatio="none" style="position:absolute;left:0;top:0;width:100%;height:100%"><rect width="100" height="100" fill="#75ca4c"/><g opacity="0.52" filter="url(#blur)"><use href="#M" fill="#d0b098" stroke="#d0b098" stroke-width="1.4"/></g><use href="#M" fill="#1f66e5" stroke="#1f66e5" stroke-width="2.26" transform="matrix(0.793 0 0 0.444 17.83 22.89)"/><polygon points="80.9,100 79.4,90.4 80.9,82.0 84.7,82.9 88.4,80.4 92.9,79.5 95.9,84.5 95.1,88.7 91.4,92.1 88.4,100" fill="#0a0e0a"/></svg><div class="bd" style="border-width:2px"></div></div>
<div class="t" style="left:1238.3px;top:333.9px;width:101.7px;height:92.4px"><svg viewBox="0 0 100 100" preserveAspectRatio="none" style="position:absolute;left:0;top:0;width:100%;height:100%"><rect width="100" height="100" fill="#567a29"/><g opacity="0.45" filter="url(#blur)"><use href="#M" fill="#8a6a40" stroke="#8a6a40" stroke-width="1.4"/></g><use href="#M" fill="#1f66e5" stroke="#1f66e5" stroke-width="2.31" transform="matrix(0.793 0 0 0.417 16.83 23.33)"/><polygon points="80.9,100 79.4,90.4 80.9,82.0 84.7,82.9 88.4,80.4 92.9,79.5 95.9,84.5 95.1,88.7 91.4,92.1 88.4,100" fill="#0a0e0a"/><g filter="url(#blur)"><use href="#k43" x="-2.6" y="1.3" fill="#0f2208" opacity=".6"/><g fill="#e6e8d6" opacity=".93"><g id="k43"><circle cx="28.5" cy="59.9" r="1.1"/><circle cx="25.5" cy="62.7" r="1.7"/><circle cx="27.1" cy="59.1" r="2.3"/><circle cx="15.0" cy="60.4" r="1.3"/><circle cx="15.3" cy="57.0" r="2.4"/><circle cx="22.0" cy="82.4" r="1.5"/><circle cx="21.5" cy="86.3" r="1.2"/><circle cx="21.5" cy="84.0" r="2.5"/><circle cx="27.4" cy="82.6" r="2.2"/><circle cx="27.1" cy="81.3" r="1.3"/><circle cx="27.2" cy="83.4" r="1.7"/><circle cx="14.5" cy="14.2" r="1.8"/><circle cx="19.7" cy="79.6" r="1.7"/><circle cx="22.6" cy="78.8" r="2.5"/><circle cx="23.3" cy="78.3" r="1.8"/><circle cx="6.2" cy="43.2" r="1.7"/><circle cx="14.4" cy="30.9" r="2.4"/><circle cx="12.2" cy="34.0" r="2.3"/><circle cx="25.3" cy="68.9" r="1.8"/><circle cx="10.8" cy="59.7" r="1.1"/><circle cx="15.0" cy="59.3" r="1.8"/><circle cx="4.8" cy="75.7" r="1.9"/><circle cx="5.5" cy="78.6" r="2.2"/></g></g><use href="#k44" x="-2.6" y="1.3" fill="#0f2208" opacity=".6"/><g fill="#e6e8d6" opacity=".93"><g id="k44"><circle cx="61.6" cy="27.5" r="1.8"/><circle cx="56.6" cy="12.8" r="1.3"/><circle cx="60.2" cy="16.9" r="2.3"/><circle cx="74.6" cy="11.1" r="1.3"/><circle cx="72.5" cy="14.8" r="2.2"/><circle cx="60.9" cy="11.9" r="2.4"/><circle cx="58.7" cy="11.1" r="2.1"/><circle cx="59.4" cy="14.7" r="2.1"/><circle cx="93.4" cy="12.7" r="1.3"/><circle cx="92.0" cy="13.2" r="1.4"/><circle cx="94.0" cy="15.3" r="1.6"/><circle cx="84.9" cy="20.5" r="2.3"/><circle cx="83.2" cy="17.9" r="2.0"/><circle cx="83.5" cy="18.0" r="1.6"/></g></g></g></svg><div class="bd" style="border-width:2px"></div></div>
<div class="t" style="left:34.7px;top:433.1px;width:102.0px;height:91.4px"><svg viewBox="0 0 100 100" preserveAspectRatio="none" style="position:absolute;left:0;top:0;width:100%;height:100%"><rect width="100" height="100" fill="#4a8a29"/><ellipse cx="20" cy="25" rx="22" ry="20" fill="#80a878" opacity="0.6" filter="url(#hz)"/><use href="#M" fill="#1f66e5" stroke="#1f66e5" stroke-width="1.72" transform="matrix(0.867 0 0 0.764 9.90 12.78)"/><polygon points="80.9,100 79.4,90.4 80.9,82.0 84.7,82.9 88.4,80.4 92.9,79.5 95.9,84.5 95.1,88.7 91.4,92.1 88.4,100" fill="#0a0e0a"/><g filter="url(#blur)"><use href="#k45" x="-2.6" y="1.3" fill="#0f2208" opacity=".6"/><g fill="#e6e8d6" opacity=".93"><g id="k45"><circle cx="51.3" cy="84.6" r="2.2"/><circle cx="50.3" cy="85.0" r="2.4"/><circle cx="52.5" cy="82.7" r="1.1"/><circle cx="6.5" cy="72.5" r="2.5"/><circle cx="9.1" cy="68.8" r="2.0"/><circle cx="9.7" cy="70.2" r="1.1"/><circle cx="14.3" cy="78.1" r="1.3"/><circle cx="14.5" cy="80.1" r="1.9"/><circle cx="15.0" cy="80.6" r="2.1"/><circle cx="29.4" cy="89.0" r="1.5"/><circle cx="45.1" cy="73.8" r="1.4"/><circle cx="42.6" cy="76.2" r="1.5"/><circle cx="32.4" cy="71.1" r="1.4"/><circle cx="31.7" cy="72.5" r="2.4"/><circle cx="45.1" cy="92.7" r="1.5"/><circle cx="44.3" cy="92.9" r="1.7"/><circle cx="38.9" cy="70.7" r="2.4"/><circle cx="41.3" cy="73.8" r="2.4"/><circle cx="34.8" cy="86.4" r="1.9"/><circle cx="20.9" cy="92.8" r="1.2"/><circle cx="30.2" cy="70.9" r="1.7"/><circle cx="30.4" cy="72.9" r="1.1"/><circle cx="32.2" cy="73.3" r="2.3"/></g></g></g></svg><div class="yr">2014</div><div class="bd" style="border-width:2px"></div></div>
<div class="t" style="left:144.9px;top:433.1px;width:101.7px;height:91.4px"><svg viewBox="0 0 100 100" preserveAspectRatio="none" style="position:absolute;left:0;top:0;width:100%;height:100%"><rect width="100" height="100" fill="#476e1e"/><use href="#A" fill="#1f66e5" stroke="#1f66e5" stroke-width="1.70" transform="matrix(0.873 0 0 0.771 10.65 9.80)"/><polygon points="80.9,100 79.4,90.4 80.9,82.0 84.7,82.9 88.4,80.4 92.9,79.5 95.9,84.5 95.1,88.7 91.4,92.1 88.4,100" fill="#0a0e0a"/><g filter="url(#blur)"><use href="#k46" x="-2.6" y="1.3" fill="#0f2208" opacity=".6"/><g fill="#e6e8d6" opacity=".93"><g id="k46"><circle cx="2.4" cy="51.6" r="1.6"/><circle cx="4.6" cy="55.4" r="2.3"/><circle cx="0.8" cy="54.5" r="1.1"/><circle cx="27.7" cy="13.2" r="1.3"/><circle cx="27.3" cy="10.8" r="2.1"/><circle cx="27.6" cy="13.1" r="1.7"/><circle cx="13.7" cy="38.0" r="2.1"/><circle cx="14.5" cy="36.6" r="2.3"/><circle cx="16.5" cy="37.0" r="1.2"/><circle cx="28.4" cy="52.5" r="2.3"/><circle cx="25.3" cy="51.7" r="1.7"/><circle cx="14.7" cy="11.4" r="1.9"/><circle cx="14.5" cy="7.2" r="2.1"/><circle cx="16.8" cy="10.4" r="2.5"/><circle cx="15.3" cy="40.3" r="1.9"/><circle cx="12.5" cy="36.3" r="1.5"/><circle cx="14.4" cy="39.2" r="1.2"/><circle cx="30.3" cy="11.8" r="1.6"/><circle cx="28.0" cy="15.4" r="2.1"/><circle cx="5.8" cy="24.6" r="2.2"/><circle cx="23.1" cy="23.3" r="2.4"/><circle cx="29.8" cy="45.9" r="1.5"/><circle cx="28.8" cy="50.1" r="2.4"/><circle cx="14.7" cy="24.2" r="2.4"/><circle cx="16.3" cy="21.9" r="1.6"/><circle cx="13.8" cy="18.7" r="1.9"/><circle cx="29.3" cy="8.8" r="1.7"/></g></g><use href="#k47" x="-2.6" y="1.3" fill="#0f2208" opacity=".6"/><g fill="#e6e8d6" opacity=".93"><g id="k47"><circle cx="75.0" cy="94.4" r="2.0"/><circle cx="59.1" cy="76.6" r="2.2"/><circle cx="60.6" cy="76.8" r="2.5"/><circle cx="56.0" cy="89.1" r="1.8"/><circle cx="59.0" cy="92.8" r="2.1"/><circle cx="79.5" cy="84.3" r="2.2"/><circle cx="79.5" cy="82.6" r="1.9"/><circle cx="96.6" cy="82.8" r="1.8"/><circle cx="98.4" cy="84.4" r="1.7"/><circle cx="53.7" cy="92.9" r="1.3"/><circle cx="56.7" cy="80.7" r="1.7"/><circle cx="55.1" cy="80.3" r="1.7"/><circle cx="56.8" cy="76.6" r="1.9"/><circle cx="56.7" cy="74.7" r="1.6"/><circle cx="53.9" cy="76.9" r="2.0"/><circle cx="64.4" cy="90.9" r="1.6"/><circle cx="70.1" cy="94.2" r="1.6"/><circle cx="72.6" cy="78.1" r="1.2"/><circle cx="75.3" cy="77.3" r="1.2"/><circle cx="73.9" cy="80.3" r="2.3"/></g></g><use href="#k48" x="-2.6" y="1.3" fill="#0f2208" opacity=".6"/><g fill="#e6e8d6" opacity=".93"><g id="k48"><circle cx="76.8" cy="28.1" r="1.4"/><circle cx="80.5" cy="28.5" r="1.5"/><circle cx="95.2" cy="8.3" r="1.8"/><circle cx="76.2" cy="37.6" r="1.6"/><circle cx="74.7" cy="35.0" r="1.3"/><circle cx="75.1" cy="37.9" r="2.0"/><circle cx="80.2" cy="8.9" r="1.4"/><circle cx="80.1" cy="8.0" r="1.7"/><circle cx="79.7" cy="20.3" r="1.3"/><circle cx="84.4" cy="9.6" r="2.0"/><circle cx="85.5" cy="22.0" r="1.9"/><circle cx="87.9" cy="22.6" r="2.3"/><circle cx="85.4" cy="23.3" r="2.0"/></g></g></g></svg><div class="bd" style="border-width:2px"></div></div>
<div class="t" style="left:252.8px;top:433.1px;width:101.7px;height:91.4px"><svg viewBox="0 0 100 100" preserveAspectRatio="none" style="position:absolute;left:0;top:0;width:100%;height:100%"><rect width="100" height="100" fill="#69d04c"/><g opacity="0.45" filter="url(#blur)"><use href="#M" fill="#d8b8d0" stroke="#d8b8d0" stroke-width="1.4"/></g><use href="#M" fill="#1f66e5" stroke="#1f66e5" stroke-width="2.59" transform="matrix(0.658 0 0 0.424 27.30 25.22)"/><polygon points="80.9,100 79.4,90.4 80.9,82.0 84.7,82.9 88.4,80.4 92.9,79.5 95.9,84.5 95.1,88.7 91.4,92.1 88.4,100" fill="#0a0e0a"/></svg><div class="bd" style="border-width:2px"></div></div>
<div class="t" style="left:360.1px;top:433.1px;width:102.1px;height:91.4px"><svg viewBox="0 0 100 100" preserveAspectRatio="none" style="position:absolute;left:0;top:0;width:100%;height:100%"><rect width="100" height="100" fill="#4b8a24"/><use href="#M" fill="#1f66e5" stroke="#1f66e5" stroke-width="2.91" transform="matrix(0.590 0 0 0.371 31.53 28.07)"/><polygon points="80.9,100 79.4,90.4 80.9,82.0 84.7,82.9 88.4,80.4 92.9,79.5 95.9,84.5 95.1,88.7 91.4,92.1 88.4,100" fill="#0a0e0a"/><g filter="url(#blur)"><use href="#k49" x="-2.6" y="1.3" fill="#0f2208" opacity=".6"/><g fill="#e6e8d6" opacity=".93"><g id="k49"><circle cx="20.2" cy="44.1" r="1.3"/><circle cx="20.3" cy="44.3" r="1.9"/><circle cx="2.7" cy="88.4" r="2.4"/><circle cx="44.9" cy="60.7" r="1.8"/><circle cx="33.8" cy="45.6" r="1.3"/><circle cx="35.3" cy="56.2" r="1.4"/><circle cx="39.6" cy="55.2" r="2.3"/><circle cx="39.1" cy="58.9" r="1.2"/><circle cx="26.9" cy="66.7" r="2.4"/><circle cx="29.9" cy="65.3" r="2.5"/><circle cx="36.7" cy="90.5" r="1.2"/><circle cx="37.0" cy="89.3" r="2.0"/><circle cx="38.8" cy="45.4" r="1.9"/><circle cx="15.8" cy="73.9" r="1.8"/><circle cx="20.4" cy="69.6" r="1.6"/><circle cx="18.8" cy="73.0" r="1.5"/><circle cx="27.9" cy="85.6" r="1.4"/><circle cx="19.5" cy="84.3" r="1.1"/><circle cx="30.6" cy="75.2" r="2.0"/><circle cx="30.8" cy="72.5" r="2.5"/><circle cx="7.5" cy="41.2" r="2.1"/><circle cx="4.6" cy="42.6" r="2.1"/><circle cx="17.7" cy="62.3" r="1.3"/><circle cx="16.5" cy="63.9" r="1.7"/><circle cx="15.8" cy="60.6" r="1.8"/></g></g><use href="#k50" x="-2.6" y="1.3" fill="#0f2208" opacity=".6"/><g fill="#e6e8d6" opacity=".93"><g id="k50"><circle cx="81.5" cy="84.6" r="2.3"/><circle cx="71.1" cy="83.8" r="2.1"/><circle cx="80.6" cy="63.8" r="1.8"/><circle cx="92.1" cy="74.9" r="1.3"/><circle cx="94.8" cy="70.5" r="1.6"/><circle cx="80.9" cy="79.9" r="2.2"/><circle cx="80.9" cy="76.7" r="1.5"/><circle cx="84.2" cy="75.9" r="1.5"/><circle cx="84.6" cy="76.7" r="2.0"/><circle cx="84.4" cy="79.4" r="2.1"/><circle cx="86.7" cy="91.9" r="1.9"/><circle cx="89.5" cy="94.4" r="1.6"/><circle cx="85.1" cy="94.4" r="1.5"/><circle cx="73.1" cy="68.8" r="1.4"/><circle cx="93.7" cy="61.6" r="2.4"/><circle cx="92.6" cy="62.8" r="2.4"/><circle cx="95.0" cy="61.9" r="2.3"/><circle cx="64.4" cy="66.7" r="2.3"/><circle cx="60.8" cy="66.8" r="1.4"/><circle cx="62.5" cy="67.5" r="2.2"/><circle cx="89.7" cy="77.3" r="2.5"/></g></g><use href="#k51" x="-2.6" y="1.3" fill="#0f2208" opacity=".6"/><g fill="#e6e8d6" opacity=".93"><g id="k51"><circle cx="89.4" cy="26.2" r="1.6"/><circle cx="89.5" cy="26.3" r="1.4"/><circle cx="89.0" cy="26.9" r="2.4"/><circle cx="93.4" cy="24.8" r="1.5"/><circle cx="95.1" cy="22.9" r="1.2"/><circle cx="96.5" cy="24.7" r="1.2"/><circle cx="88.8" cy="25.4" r="2.2"/><circle cx="90.7" cy="25.0" r="2.4"/><circle cx="89.0" cy="25.0" r="2.2"/><circle cx="90.5" cy="11.2" r="2.4"/><circle cx="94.3" cy="13.7" r="1.4"/><circle cx="87.0" cy="25.9" r="2.4"/><circle cx="87.8" cy="26.8" r="2.5"/><circle cx="88.2" cy="26.0" r="1.6"/></g></g></g></svg><div class="bd" style="border-width:2px"></div></div>
<div class="t" style="left:474.4px;top:433.1px;width:101.7px;height:91.4px"><svg viewBox="0 0 100 100" preserveAspectRatio="none" style="position:absolute;left:0;top:0;width:100%;height:100%"><rect width="100" height="100" fill="#53a829"/><ellipse cx="80" cy="90" rx="10" ry="8" fill="#607080" opacity="0.7" filter="url(#hz)"/><use href="#A" fill="#1f66e5" stroke="#1f66e5" stroke-width="1.4"/><polygon points="80.9,100 79.4,90.4 80.9,82.0 84.7,82.9 88.4,80.4 92.9,79.5 95.9,84.5 95.1,88.7 91.4,92.1 88.4,100" fill="#0a0e0a"/></svg><div class="yr">2015</div><div class="bd" style="border-width:2px"></div></div>
<div class="t" style="left:584.3px;top:433.1px;width:102.0px;height:91.4px"><svg viewBox="0 0 100 100" preserveAspectRatio="none" style="position:absolute;left:0;top:0;width:100%;height:100%"><rect width="100" height="100" fill="#496e1e"/><ellipse cx="15" cy="20" rx="12" ry="16" fill="#d0e8ec" opacity="0.9" filter="url(#hz)"/><ellipse cx="10" cy="60" rx="10" ry="25" fill="#d8c8b8" opacity="0.6" filter="url(#hz)"/><use href="#A" fill="#1f66e5" stroke="#1f66e5" stroke-width="1.4"/><polygon points="80.9,100 79.4,90.4 80.9,82.0 84.7,82.9 88.4,80.4 92.9,79.5 95.9,84.5 95.1,88.7 91.4,92.1 88.4,100" fill="#0a0e0a"/><g filter="url(#blur)"><use href="#k52" x="-2.6" y="1.3" fill="#0f2208" opacity=".6"/><g fill="#e6e8d6" opacity=".93"><g id="k52"><circle cx="7.3" cy="81.4" r="1.2"/><circle cx="6.0" cy="83.0" r="1.4"/><circle cx="4.8" cy="79.0" r="2.0"/><circle cx="16.7" cy="73.2" r="1.6"/><circle cx="12.9" cy="77.6" r="1.5"/><circle cx="6.8" cy="75.1" r="1.7"/><circle cx="6.6" cy="76.1" r="1.9"/><circle cx="5.9" cy="76.8" r="1.3"/><circle cx="5.9" cy="77.8" r="1.4"/><circle cx="25.2" cy="50.9" r="1.5"/><circle cx="7.2" cy="44.5" r="2.2"/><circle cx="15.0" cy="62.1" r="2.5"/><circle cx="15.5" cy="63.1" r="2.4"/><circle cx="17.8" cy="50.7" r="2.2"/><circle cx="16.9" cy="46.7" r="1.5"/><circle cx="12.4" cy="69.8" r="1.9"/><circle cx="15.5" cy="66.5" r="1.2"/><circle cx="11.8" cy="66.7" r="1.4"/><circle cx="10.2" cy="91.5" r="2.4"/><circle cx="7.5" cy="90.2" r="2.2"/><circle cx="21.1" cy="95.1" r="1.9"/><circle cx="20.0" cy="35.8" r="2.0"/><circle cx="23.2" cy="39.1" r="2.1"/><circle cx="3.1" cy="79.6" r="2.1"/><circle cx="26.0" cy="43.9" r="2.5"/><circle cx="24.7" cy="43.1" r="2.4"/><circle cx="27.0" cy="43.5" r="1.9"/><circle cx="12.9" cy="68.0" r="1.5"/><circle cx="20.6" cy="47.7" r="1.6"/><circle cx="12.1" cy="62.7" r="2.3"/><circle cx="24.0" cy="86.9" r="1.6"/></g></g><use href="#k53" x="-2.6" y="1.3" fill="#0f2208" opacity=".6"/><g fill="#e6e8d6" opacity=".93"><g id="k53"><circle cx="67.3" cy="10.7" r="1.5"/><circle cx="68.8" cy="12.3" r="1.4"/><circle cx="56.2" cy="11.1" r="1.2"/><circle cx="52.0" cy="13.8" r="1.8"/><circle cx="56.4" cy="11.9" r="2.1"/><circle cx="51.7" cy="7.7" r="1.9"/><circle cx="54.6" cy="6.5" r="1.1"/><circle cx="51.6" cy="24.5" r="2.2"/><circle cx="53.1" cy="9.5" r="2.4"/><circle cx="51.8" cy="10.1" r="1.6"/><circle cx="62.5" cy="18.4" r="1.8"/><circle cx="62.4" cy="17.0" r="2.5"/><circle cx="57.2" cy="11.1" r="2.1"/><circle cx="58.4" cy="10.1" r="2.3"/><circle cx="55.0" cy="11.0" r="1.4"/></g></g></g></svg><div class="bd" style="border-width:2px"></div></div>
<div class="t" style="left:692.2px;top:433.1px;width:102.0px;height:91.4px"><svg viewBox="0 0 100 100" preserveAspectRatio="none" style="position:absolute;left:0;top:0;width:100%;height:100%"><rect width="100" height="100" fill="#77d64c"/><ellipse cx="8" cy="10" rx="10" ry="10" fill="#e8ece8" opacity="0.8" filter="url(#hz)"/><use href="#W" fill="#1f66e5" stroke="#1f66e5" stroke-width="1.35" transform="matrix(1.070 0 0 1.004 -1.30 0.68)"/><polygon points="80.6,100 79.9,90.4 82.1,85.4 85.8,82.1 89.6,78.75 92.5,79.6 94,82.9 93.3,87.1 88.8,91.25 85.8,100" fill="#0a0e0a" filter="url(#rough)"/></svg><div class="bd" style="border-width:2px"></div></div>
<div class="t" style="left:800.1px;top:433.1px;width:101.4px;height:91.4px"><svg viewBox="0 0 100 100" preserveAspectRatio="none" style="position:absolute;left:0;top:0;width:100%;height:100%"><rect width="100" height="100" fill="#3b6e1e"/><use href="#A" fill="#1f66e5" stroke="#1f66e5" stroke-width="1.4"/><polygon points="80.9,100 79.4,90.4 80.9,82.0 84.7,82.9 88.4,80.4 92.9,79.5 95.9,84.5 95.1,88.7 91.4,92.1 88.4,100" fill="#0a0e0a"/><g filter="url(#blur)"><use href="#k54" x="-2.6" y="1.3" fill="#0f2208" opacity=".6"/><g fill="#e6e8d6" opacity=".93"><g id="k54"><circle cx="27.6" cy="63.5" r="1.8"/><circle cx="31.2" cy="64.4" r="2.3"/><circle cx="30.6" cy="63.1" r="1.5"/><circle cx="12.2" cy="50.9" r="2.0"/><circle cx="10.5" cy="48.6" r="2.5"/><circle cx="13.4" cy="50.8" r="2.0"/><circle cx="9.2" cy="39.4" r="1.3"/><circle cx="11.0" cy="38.9" r="1.7"/><circle cx="11.4" cy="41.0" r="1.7"/><circle cx="17.6" cy="36.0" r="2.3"/><circle cx="6.0" cy="18.5" r="2.0"/><circle cx="10.5" cy="35.6" r="1.2"/><circle cx="7.9" cy="32.8" r="1.8"/><circle cx="16.1" cy="33.4" r="2.4"/><circle cx="14.5" cy="32.9" r="2.2"/><circle cx="25.2" cy="54.6" r="1.2"/><circle cx="24.8" cy="58.2" r="2.5"/><circle cx="26.8" cy="58.0" r="2.2"/><circle cx="12.9" cy="40.8" r="1.3"/><circle cx="34.3" cy="28.3" r="1.7"/><circle cx="35.4" cy="26.8" r="2.1"/><circle cx="20.1" cy="90.8" r="2.0"/><circle cx="20.3" cy="88.9" r="1.7"/><circle cx="32.5" cy="83.5" r="1.6"/><circle cx="31.1" cy="82.9" r="1.7"/><circle cx="30.4" cy="86.1" r="1.9"/><circle cx="27.8" cy="45.4" r="1.3"/><circle cx="8.2" cy="35.3" r="1.5"/><circle cx="8.1" cy="36.1" r="1.3"/></g></g><use href="#k55" x="-2.6" y="1.3" fill="#0f2208" opacity=".6"/><g fill="#e6e8d6" opacity=".93"><g id="k55"><circle cx="47.7" cy="83.5" r="2.0"/><circle cx="48.2" cy="82.2" r="2.2"/><circle cx="80.3" cy="80.9" r="1.2"/><circle cx="81.5" cy="81.9" r="1.4"/><circle cx="70.1" cy="90.2" r="1.4"/><circle cx="71.7" cy="87.4" r="1.6"/><circle cx="73.4" cy="91.3" r="2.2"/><circle cx="54.3" cy="88.0" r="2.3"/><circle cx="53.2" cy="91.5" r="1.5"/><circle cx="50.3" cy="91.0" r="1.2"/><circle cx="39.7" cy="88.0" r="1.7"/><circle cx="42.0" cy="89.2" r="2.0"/><circle cx="87.8" cy="81.7" r="1.4"/><circle cx="92.5" cy="99.1" r="1.4"/><circle cx="91.1" cy="99.1" r="2.3"/><circle cx="92.8" cy="97.5" r="1.3"/><circle cx="71.2" cy="84.5" r="2.3"/><circle cx="72.2" cy="82.9" r="1.8"/><circle cx="56.0" cy="91.2" r="2.3"/><circle cx="52.8" cy="89.7" r="1.8"/><circle cx="53.7" cy="91.5" r="1.2"/></g></g></g></svg><div class="bd" style="border-width:2px"></div></div>
<div class="t" style="left:913.8px;top:433.1px;width:101.4px;height:91.4px"><svg viewBox="0 0 100 100" preserveAspectRatio="none" style="position:absolute;left:0;top:0;width:100%;height:100%"><rect width="100" height="100" fill="#5bb835"/><ellipse cx="20" cy="75" rx="20" ry="25" fill="#98c890" opacity="0.6" filter="url(#hz)"/><use href="#A" fill="#1f66e5" stroke="#1f66e5" stroke-width="1.4"/><polygon points="80.9,100 79.4,90.4 80.9,82.0 84.7,82.9 88.4,80.4 92.9,79.5 95.9,84.5 95.1,88.7 91.4,92.1 88.4,100" fill="#0a0e0a"/></svg><div class="yr">2016</div><div class="bd" style="border-width:2px"></div></div>
<div class="t" style="left:1023.5px;top:433.1px;width:101.4px;height:91.4px"><svg viewBox="0 0 100 100" preserveAspectRatio="none" style="position:absolute;left:0;top:0;width:100%;height:100%"><rect width="100" height="100" fill="#477222"/><use href="#A" fill="#1f66e5" stroke="#1f66e5" stroke-width="1.4"/><polygon points="80.9,100 79.4,90.4 80.9,82.0 84.7,82.9 88.4,80.4 92.9,79.5 95.9,84.5 95.1,88.7 91.4,92.1 88.4,100" fill="#0a0e0a"/><g filter="url(#blur)"><use href="#k56" x="-2.6" y="1.3" fill="#0f2208" opacity=".6"/><g fill="#e6e8d6" opacity=".93"><g id="k56"><circle cx="17.7" cy="20.8" r="2.2"/><circle cx="15.5" cy="23.4" r="1.3"/><circle cx="17.5" cy="21.0" r="1.3"/><circle cx="10.6" cy="44.6" r="2.4"/><circle cx="11.3" cy="43.9" r="1.1"/><circle cx="11.7" cy="45.3" r="2.2"/><circle cx="7.1" cy="35.6" r="1.5"/><circle cx="10.8" cy="13.4" r="1.1"/><circle cx="6.3" cy="16.2" r="2.4"/><circle cx="10.3" cy="15.9" r="1.4"/><circle cx="6.8" cy="33.8" r="1.7"/><circle cx="8.5" cy="35.8" r="1.6"/><circle cx="8.1" cy="33.6" r="2.1"/><circle cx="19.1" cy="6.9" r="1.3"/><circle cx="17.8" cy="6.8" r="1.1"/><circle cx="18.7" cy="7.2" r="1.3"/><circle cx="17.1" cy="12.1" r="2.2"/><circle cx="6.0" cy="37.9" r="1.8"/><circle cx="8.7" cy="37.5" r="1.6"/><circle cx="10.2" cy="37.1" r="2.1"/><circle cx="6.1" cy="36.9" r="2.2"/></g></g><use href="#k57" x="-2.6" y="1.3" fill="#0f2208" opacity=".6"/><g fill="#e6e8d6" opacity=".93"><g id="k57"><circle cx="52.8" cy="88.0" r="1.9"/><circle cx="63.3" cy="96.9" r="1.3"/><circle cx="59.3" cy="96.7" r="1.7"/><circle cx="45.1" cy="80.0" r="1.4"/><circle cx="44.9" cy="82.0" r="2.5"/><circle cx="75.7" cy="92.4" r="1.4"/><circle cx="77.5" cy="92.5" r="1.3"/><circle cx="77.4" cy="95.1" r="2.5"/><circle cx="59.6" cy="95.2" r="1.9"/><circle cx="63.0" cy="99.2" r="1.5"/><circle cx="42.3" cy="90.4" r="1.6"/><circle cx="40.9" cy="92.1" r="1.3"/><circle cx="42.6" cy="93.2" r="1.9"/><circle cx="43.1" cy="81.7" r="1.3"/><circle cx="40.4" cy="83.1" r="1.2"/></g></g></g></svg><div class="bd" style="border-width:2px"></div></div>
<div class="t" style="left:1131.1px;top:433.1px;width:101.7px;height:91.4px"><svg viewBox="0 0 100 100" preserveAspectRatio="none" style="position:absolute;left:0;top:0;width:100%;height:100%"><rect width="100" height="100" fill="#6ac03d"/><use href="#W" fill="#1f66e5" stroke="#1f66e5" stroke-width="1.43" transform="matrix(0.998 0 0 0.957 2.65 2.93)"/><polygon points="80.6,100 79.9,90.4 82.1,85.4 85.8,82.1 89.6,78.75 92.5,79.6 94,82.9 93.3,87.1 88.8,91.25 85.8,100" fill="#0a0e0a" filter="url(#rough)"/></svg><div class="bd" style="border-width:2px"></div></div>
<div class="t" style="left:1239.0px;top:433.1px;width:101.4px;height:91.4px"><svg viewBox="0 0 100 100" preserveAspectRatio="none" style="position:absolute;left:0;top:0;width:100%;height:100%"><rect width="100" height="100" fill="#569a2e"/><use href="#W" fill="#1f66e5" stroke="#1f66e5" stroke-width="1.43" transform="matrix(0.998 0 0 0.957 2.65 2.93)"/><polygon points="80.6,100 79.9,90.4 82.1,85.4 85.8,82.1 89.6,78.75 92.5,79.6 94,82.9 93.3,87.1 88.8,91.25 85.8,100" fill="#0a0e0a" filter="url(#rough)"/><g filter="url(#blur)"><use href="#k58" x="-2.6" y="1.3" fill="#0f2208" opacity=".6"/><g fill="#e6e8d6" opacity=".93"><g id="k58"><circle cx="79.4" cy="28.3" r="2.4"/><circle cx="79.8" cy="32.5" r="2.2"/><circle cx="79.0" cy="32.6" r="1.5"/><circle cx="76.9" cy="28.4" r="1.3"/><circle cx="84.5" cy="39.5" r="2.1"/><circle cx="75.8" cy="27.8" r="1.6"/><circle cx="76.7" cy="24.4" r="2.0"/><circle cx="77.9" cy="24.1" r="1.9"/><circle cx="79.4" cy="34.9" r="1.7"/><circle cx="76.6" cy="38.2" r="2.2"/></g></g><use href="#k59" x="-2.6" y="1.3" fill="#0f2208" opacity=".6"/><g fill="#e6e8d6" opacity=".93"><g id="k59"><circle cx="19.1" cy="47.7" r="1.7"/><circle cx="20.9" cy="54.9" r="1.1"/><circle cx="18.8" cy="52.7" r="2.4"/><circle cx="16.3" cy="54.5" r="1.1"/><circle cx="20.0" cy="54.8" r="2.4"/><circle cx="19.2" cy="52.0" r="1.4"/><circle cx="22.1" cy="46.7" r="1.6"/><circle cx="22.6" cy="50.6" r="1.6"/></g></g></g></svg><div class="bd" style="border-width:2px"></div></div>
<div class="t" style="left:34.7px;top:532.8px;width:102.0px;height:91.2px"><svg viewBox="0 0 100 100" preserveAspectRatio="none" style="position:absolute;left:0;top:0;width:100%;height:100%"><rect width="100" height="100" fill="#3c6e1f"/><use href="#M" fill="#1f66e5" stroke="#1f66e5" stroke-width="1.55" transform="matrix(0.928 0 0 0.874 4.36 -1.28)"/><polygon points="80.9,100 79.4,90.4 80.9,82.0 84.7,82.9 88.4,80.4 92.9,79.5 95.9,84.5 95.1,88.7 91.4,92.1 88.4,100" fill="#0a0e0a"/><g filter="url(#blur)"><use href="#k60" x="-2.6" y="1.3" fill="#0f2208" opacity=".6"/><g fill="#e6e8d6" opacity=".93"><g id="k60"><circle cx="7.1" cy="10.9" r="1.2"/><circle cx="19.0" cy="87.6" r="1.4"/><circle cx="7.2" cy="66.8" r="2.4"/><circle cx="11.1" cy="13.2" r="1.5"/><circle cx="5.7" cy="49.9" r="2.0"/><circle cx="3.8" cy="50.3" r="1.9"/><circle cx="24.5" cy="76.1" r="1.5"/><circle cx="19.9" cy="80.3" r="1.2"/><circle cx="22.5" cy="78.1" r="1.7"/><circle cx="19.6" cy="81.8" r="2.1"/><circle cx="19.6" cy="86.1" r="1.8"/><circle cx="5.6" cy="3.7" r="1.4"/><circle cx="1.4" cy="7.3" r="2.0"/><circle cx="1.1" cy="37.5" r="2.0"/><circle cx="5.8" cy="37.2" r="1.3"/><circle cx="25.0" cy="86.9" r="2.4"/><circle cx="10.4" cy="24.0" r="1.7"/><circle cx="10.3" cy="65.4" r="2.2"/><circle cx="7.0" cy="64.9" r="1.9"/><circle cx="17.6" cy="56.6" r="2.1"/><circle cx="16.7" cy="55.3" r="1.1"/><circle cx="13.7" cy="54.0" r="1.3"/><circle cx="6.5" cy="34.6" r="2.4"/><circle cx="6.8" cy="33.5" r="2.2"/></g></g><use href="#k61" x="-2.6" y="1.3" fill="#0f2208" opacity=".6"/><g fill="#e6e8d6" opacity=".93"><g id="k61"><circle cx="78.6" cy="55.8" r="1.9"/><circle cx="78.9" cy="94.0" r="2.3"/><circle cx="78.3" cy="93.2" r="1.7"/><circle cx="79.3" cy="39.6" r="2.1"/><circle cx="95.8" cy="6.4" r="2.5"/><circle cx="98.1" cy="7.4" r="2.3"/><circle cx="88.1" cy="76.5" r="2.1"/><circle cx="86.5" cy="78.7" r="2.0"/><circle cx="78.9" cy="27.5" r="2.1"/><circle cx="78.4" cy="27.6" r="1.8"/><circle cx="78.4" cy="30.1" r="2.3"/><circle cx="75.6" cy="31.5" r="1.9"/><circle cx="78.6" cy="35.8" r="1.5"/><circle cx="78.0" cy="33.3" r="1.5"/><circle cx="77.2" cy="74.3" r="1.8"/><circle cx="76.2" cy="39.9" r="1.1"/><circle cx="74.7" cy="41.3" r="1.1"/><circle cx="78.2" cy="91.9" r="2.2"/><circle cx="79.2" cy="91.2" r="1.2"/><circle cx="88.4" cy="77.2" r="1.8"/></g></g></g></svg><div class="yr">2017</div><div class="bd" style="border-width:2px"></div></div>
<div class="t" style="left:144.9px;top:532.8px;width:101.7px;height:91.2px"><svg viewBox="0 0 100 100" preserveAspectRatio="none" style="position:absolute;left:0;top:0;width:100%;height:100%"><rect width="100" height="100" fill="#3c8a1e"/><polygon points="92,0 100,0 100,100 74,100" fill="#ffffff"/><use href="#M" fill="#1f66e5" stroke="#1f66e5" stroke-width="1.49" transform="matrix(0.959 0 0 0.925 3.34 -0.40)"/><g filter="url(#blur)"><use href="#k62" x="-2.6" y="1.3" fill="#0f2208" opacity=".6"/><g fill="#e6e8d6" opacity=".93"><g id="k62"><circle cx="15.1" cy="15.7" r="1.8"/><circle cx="21.6" cy="14.2" r="1.2"/><circle cx="21.6" cy="17.2" r="1.2"/><circle cx="22.7" cy="15.1" r="1.9"/><circle cx="21.0" cy="16.3" r="1.8"/><circle cx="20.7" cy="23.5" r="1.6"/><circle cx="21.9" cy="23.2" r="1.9"/><circle cx="12.3" cy="10.9" r="2.3"/></g></g></g></svg><div class="bd" style="border-width:2px"></div></div>
<div class="t" style="left:252.8px;top:532.8px;width:101.7px;height:91.2px"><svg viewBox="0 0 100 100" preserveAspectRatio="none" style="position:absolute;left:0;top:0;width:100%;height:100%"><rect width="100" height="100" fill="#61c850"/><ellipse cx="5" cy="10" rx="12" ry="12" fill="#98d8e0" opacity="0.8" filter="url(#hz)"/><g opacity="0.38" filter="url(#blur)"><use href="#M" fill="#c8b8c8" stroke="#c8b8c8" stroke-width="1.4"/></g><use href="#M" fill="#1f66e5" stroke="#1f66e5" stroke-width="2.33" transform="matrix(0.779 0 0 0.422 18.68 23.84)"/><polygon points="80.9,100 79.4,90.4 80.9,82.0 84.7,82.9 88.4,80.4 92.9,79.5 95.9,84.5 95.1,88.7 91.4,92.1 88.4,100" fill="#0a0e0a"/></svg><div class="bd" style="border-width:2px"></div></div>
<div class="t" style="left:360.1px;top:532.8px;width:102.1px;height:91.2px"><svg viewBox="0 0 100 100" preserveAspectRatio="none" style="position:absolute;left:0;top:0;width:100%;height:100%"><rect width="100" height="100" fill="#58cb3d"/><g opacity="0.30" filter="url(#blur)"><use href="#M" fill="#b8c8b0" stroke="#b8c8b0" stroke-width="1.4"/></g><use href="#M" fill="#1f66e5" stroke="#1f66e5" stroke-width="2.46" transform="matrix(0.714 0 0 0.422 22.85 23.84)"/><polygon points="80.9,100 79.4,90.4 80.9,82.0 84.7,82.9 88.4,80.4 92.9,79.5 95.9,84.5 95.1,88.7 91.4,92.1 88.4,100" fill="#0a0e0a"/></svg><div class="bd" style="border-width:2px"></div></div>
<div class="t" style="left:474.4px;top:532.8px;width:101.7px;height:91.2px"><svg viewBox="0 0 100 100" preserveAspectRatio="none" style="position:absolute;left:0;top:0;width:100%;height:100%"><rect width="100" height="100" fill="#477a21"/><ellipse cx="40" cy="65" rx="8" ry="6" fill="#c8b090" opacity="0.8" filter="url(#hz)"/><use href="#M" fill="#1f66e5" stroke="#1f66e5" stroke-width="1.82" transform="matrix(0.870 0 0 0.667 10.28 9.33)"/><polygon points="80.9,100 79.4,90.4 80.9,82.0 84.7,82.9 88.4,80.4 92.9,79.5 95.9,84.5 95.1,88.7 91.4,92.1 88.4,100" fill="#0a0e0a"/><g filter="url(#blur)"><use href="#k63" x="-2.6" y="1.3" fill="#0f2208" opacity=".6"/><g fill="#e6e8d6" opacity=".93"><g id="k63"><circle cx="18.0" cy="61.6" r="1.6"/><circle cx="44.7" cy="72.3" r="1.8"/><circle cx="37.4" cy="76.5" r="1.6"/><circle cx="37.5" cy="65.8" r="1.1"/><circle cx="10.6" cy="79.8" r="2.4"/><circle cx="27.7" cy="80.1" r="1.5"/><circle cx="28.3" cy="76.6" r="1.4"/><circle cx="4.9" cy="70.7" r="2.5"/><circle cx="8.3" cy="75.5" r="1.5"/><circle cx="12.3" cy="74.5" r="2.0"/><circle cx="10.0" cy="89.1" r="1.7"/><circle cx="13.0" cy="91.2" r="1.5"/><circle cx="11.3" cy="88.6" r="1.3"/><circle cx="12.3" cy="76.4" r="1.2"/><circle cx="45.8" cy="80.3" r="1.7"/><circle cx="46.4" cy="77.4" r="2.3"/><circle cx="49.3" cy="78.9" r="1.7"/></g></g></g></svg><div class="yr">2018</div><div class="bd" style="border-width:2px"></div></div>
<div class="t" style="left:584.3px;top:532.8px;width:102.0px;height:91.2px"><svg viewBox="0 0 100 100" preserveAspectRatio="none" style="position:absolute;left:0;top:0;width:100%;height:100%"><rect width="100" height="100" fill="#4a8a25"/><use href="#M" fill="#1f66e5" stroke="#1f66e5" stroke-width="1.92" transform="matrix(0.803 0 0 0.653 15.51 12.56)"/><polygon points="80.9,100 79.4,90.4 80.9,82.0 84.7,82.9 88.4,80.4 92.9,79.5 95.9,84.5 95.1,88.7 91.4,92.1 88.4,100" fill="#0a0e0a"/><g filter="url(#blur)"><use href="#k64" x="-2.6" y="1.3" fill="#0f2208" opacity=".6"/><g fill="#e6e8d6" opacity=".93"><g id="k64"><circle cx="67.5" cy="28.4" r="2.3"/><circle cx="69.6" cy="24.2" r="2.4"/><circle cx="15.6" cy="87.1" r="1.5"/><circle cx="15.3" cy="87.0" r="1.4"/><circle cx="15.0" cy="86.7" r="1.3"/><circle cx="64.8" cy="30.9" r="1.5"/><circle cx="64.9" cy="32.6" r="2.5"/><circle cx="69.2" cy="8.2" r="1.5"/><circle cx="61.1" cy="30.0" r="1.4"/><circle cx="61.1" cy="32.8" r="1.6"/><circle cx="60.8" cy="32.8" r="1.6"/><circle cx="92.4" cy="40.1" r="2.5"/><circle cx="65.2" cy="19.1" r="1.1"/><circle cx="41.7" cy="11.0" r="1.9"/><circle cx="91.6" cy="80.9" r="1.4"/><circle cx="56.0" cy="8.4" r="2.1"/><circle cx="72.2" cy="11.8" r="2.1"/><circle cx="10.8" cy="52.7" r="2.3"/><circle cx="11.2" cy="51.6" r="2.0"/><circle cx="63.2" cy="97.6" r="1.4"/><circle cx="63.5" cy="98.3" r="1.9"/><circle cx="65.1" cy="97.1" r="2.2"/><circle cx="14.5" cy="18.9" r="2.4"/><circle cx="16.3" cy="18.5" r="2.0"/><circle cx="92.6" cy="81.2" r="2.4"/><circle cx="23.3" cy="56.1" r="2.3"/><circle cx="15.2" cy="42.7" r="2.4"/><circle cx="16.7" cy="38.8" r="1.3"/><circle cx="45.1" cy="50.1" r="2.0"/><circle cx="44.9" cy="46.2" r="2.2"/><circle cx="42.7" cy="50.2" r="1.3"/><circle cx="67.4" cy="79.3" r="1.8"/><circle cx="70.0" cy="22.8" r="2.4"/><circle cx="29.9" cy="24.9" r="1.5"/><circle cx="32.1" cy="27.0" r="1.2"/><circle cx="31.6" cy="26.1" r="1.8"/><circle cx="47.5" cy="94.0" r="2.2"/><circle cx="48.6" cy="94.8" r="1.4"/><circle cx="77.4" cy="66.8" r="1.7"/><circle cx="77.9" cy="69.2" r="2.2"/><circle cx="78.3" cy="66.5" r="2.3"/><circle cx="78.5" cy="44.7" r="1.9"/><circle cx="28.0" cy="97.3" r="2.4"/><circle cx="29.4" cy="94.1" r="1.1"/></g></g></g></svg><div class="bd" style="border-width:2px"></div></div>
<div class="t" style="left:692.2px;top:532.8px;width:102.0px;height:91.2px"><svg viewBox="0 0 100 100" preserveAspectRatio="none" style="position:absolute;left:0;top:0;width:100%;height:100%"><rect width="100" height="100" fill="#4a8a21"/><g opacity="0.45" filter="url(#blur)"><use href="#M" fill="#8a6a40" stroke="#8a6a40" stroke-width="1.4"/></g><use href="#M" fill="#1f66e5" stroke="#1f66e5" stroke-width="3.00" transform="matrix(0.561 0 0 0.374 35.99 24.62)"/><polygon points="80.9,100 79.4,90.4 80.9,82.0 84.7,82.9 88.4,80.4 92.9,79.5 95.9,84.5 95.1,88.7 91.4,92.1 88.4,100" fill="#0a0e0a"/><g filter="url(#blur)"><use href="#k65" x="-2.6" y="1.3" fill="#0f2208" opacity=".6"/><g fill="#e6e8d6" opacity=".93"><g id="k65"><circle cx="69.7" cy="94.8" r="2.3"/><circle cx="70.1" cy="93.7" r="2.4"/><circle cx="45.8" cy="63.6" r="1.5"/><circle cx="84.6" cy="83.5" r="2.3"/><circle cx="85.1" cy="81.1" r="1.3"/><circle cx="87.0" cy="80.5" r="1.9"/><circle cx="76.1" cy="86.2" r="1.4"/><circle cx="74.0" cy="88.1" r="1.3"/><circle cx="74.8" cy="84.4" r="2.2"/><circle cx="88.0" cy="72.7" r="2.5"/><circle cx="70.5" cy="72.2" r="1.5"/><circle cx="71.8" cy="61.3" r="1.4"/><circle cx="72.4" cy="62.1" r="2.1"/><circle cx="71.8" cy="62.0" r="1.9"/><circle cx="95.5" cy="69.4" r="1.5"/><circle cx="93.1" cy="70.3" r="1.9"/><circle cx="94.0" cy="71.1" r="1.9"/><circle cx="38.5" cy="88.1" r="2.1"/><circle cx="39.4" cy="84.3" r="1.1"/><circle cx="97.0" cy="94.5" r="1.3"/><circle cx="78.8" cy="74.7" r="2.0"/><circle cx="79.8" cy="74.5" r="1.5"/><circle cx="79.2" cy="71.4" r="2.2"/><circle cx="50.7" cy="98.3" r="2.2"/><circle cx="51.1" cy="98.0" r="2.2"/><circle cx="72.6" cy="60.4" r="2.5"/><circle cx="70.7" cy="61.8" r="2.1"/><circle cx="71.7" cy="63.1" r="2.3"/><circle cx="95.0" cy="91.6" r="1.5"/><circle cx="92.4" cy="89.8" r="1.2"/><circle cx="92.8" cy="92.2" r="2.1"/></g></g></g></svg><div class="bd" style="border-width:2px"></div></div>
<div class="t" style="left:800.1px;top:532.8px;width:101.4px;height:91.2px"><svg viewBox="0 0 100 100" preserveAspectRatio="none" style="position:absolute;left:0;top:0;width:100%;height:100%"><rect width="100" height="100" fill="#569a2e"/><rect x="0" y="0" width="4" height="100" fill="#fff"/><use href="#M" fill="#1f66e5" stroke="#1f66e5" stroke-width="1.95" transform="matrix(0.812 0 0 0.625 15.19 13.00)"/><polygon points="80.9,100 79.4,90.4 80.9,82.0 84.7,82.9 88.4,80.4 92.9,79.5 95.9,84.5 95.1,88.7 91.4,92.1 88.4,100" fill="#0a0e0a"/><g filter="url(#blur)"><use href="#k66" x="-2.6" y="1.3" fill="#0f2208" opacity=".6"/><g fill="#e6e8d6" opacity=".93"><g id="k66"><circle cx="76.0" cy="56.8" r="1.4"/><circle cx="83.2" cy="87.3" r="2.2"/><circle cx="19.5" cy="56.7" r="1.9"/><circle cx="18.9" cy="56.9" r="1.9"/><circle cx="59.6" cy="37.9" r="2.5"/><circle cx="59.7" cy="38.0" r="2.0"/><circle cx="58.4" cy="40.9" r="2.0"/><circle cx="89.8" cy="90.8" r="1.2"/><circle cx="91.1" cy="88.9" r="2.4"/><circle cx="59.8" cy="94.0" r="1.9"/><circle cx="87.4" cy="22.8" r="1.7"/><circle cx="89.1" cy="22.7" r="2.0"/><circle cx="10.5" cy="52.2" r="1.6"/><circle cx="78.5" cy="89.6" r="2.3"/><circle cx="94.1" cy="50.3" r="1.3"/><circle cx="29.6" cy="55.8" r="1.9"/><circle cx="32.5" cy="58.4" r="2.0"/><circle cx="82.1" cy="48.2" r="1.8"/><circle cx="50.1" cy="68.4" r="1.7"/><circle cx="54.4" cy="16.2" r="1.8"/><circle cx="53.7" cy="16.6" r="1.7"/><circle cx="95.0" cy="54.9" r="2.0"/><circle cx="69.9" cy="24.0" r="1.6"/><circle cx="82.5" cy="54.6" r="1.2"/><circle cx="69.7" cy="16.0" r="1.7"/><circle cx="47.3" cy="24.0" r="1.5"/><circle cx="47.1" cy="25.5" r="2.0"/><circle cx="49.0" cy="24.5" r="1.8"/><circle cx="37.6" cy="50.4" r="1.5"/><circle cx="40.4" cy="52.3" r="1.6"/><circle cx="71.2" cy="24.6" r="1.5"/><circle cx="70.4" cy="24.2" r="1.4"/><circle cx="68.8" cy="21.6" r="1.3"/><circle cx="8.9" cy="38.1" r="2.1"/></g></g></g></svg><div class="bd" style="border-width:2px"></div></div>
<div class="t" style="left:913.1px;top:532.8px;width:102.1px;height:91.2px"><svg viewBox="0 0 100 100" preserveAspectRatio="none" style="position:absolute;left:0;top:0;width:100%;height:100%"><rect width="100" height="100" fill="#4a8a26"/><use href="#A" fill="#1f66e5" stroke="#1f66e5" stroke-width="1.4"/><polygon points="80.9,100 79.4,90.4 80.9,82.0 84.7,82.9 88.4,80.4 92.9,79.5 95.9,84.5 95.1,88.7 91.4,92.1 88.4,100" fill="#0a0e0a"/><g filter="url(#blur)"><use href="#k67" x="-2.6" y="1.3" fill="#0f2208" opacity=".6"/><g fill="#e6e8d6" opacity=".93"><g id="k67"><circle cx="4.1" cy="18.6" r="2.3"/><circle cx="6.8" cy="15.8" r="2.2"/><circle cx="13.1" cy="82.7" r="1.5"/><circle cx="12.6" cy="81.7" r="2.5"/><circle cx="25.0" cy="55.8" r="1.9"/><circle cx="12.7" cy="82.2" r="1.2"/><circle cx="14.5" cy="83.8" r="2.3"/><circle cx="11.9" cy="77.6" r="1.6"/><circle cx="7.9" cy="76.4" r="1.1"/><circle cx="9.6" cy="75.9" r="1.6"/><circle cx="13.7" cy="77.1" r="1.9"/><circle cx="14.7" cy="78.4" r="1.4"/><circle cx="24.8" cy="56.1" r="2.1"/><circle cx="22.5" cy="59.0" r="1.8"/><circle cx="25.0" cy="59.2" r="2.2"/><circle cx="24.6" cy="60.6" r="2.0"/><circle cx="12.6" cy="72.4" r="2.4"/></g></g><use href="#k68" x="-2.6" y="1.3" fill="#0f2208" opacity=".6"/><g fill="#e6e8d6" opacity=".93"><g id="k68"><circle cx="77.8" cy="34.4" r="2.4"/><circle cx="73.9" cy="30.8" r="2.4"/><circle cx="76.3" cy="30.4" r="2.4"/><circle cx="78.5" cy="27.7" r="1.3"/><circle cx="74.5" cy="16.1" r="1.7"/><circle cx="81.9" cy="81.2" r="1.3"/><circle cx="91.2" cy="38.3" r="1.9"/><circle cx="91.3" cy="38.0" r="2.4"/><circle cx="92.3" cy="37.1" r="1.6"/><circle cx="80.0" cy="22.5" r="2.1"/><circle cx="87.0" cy="78.4" r="1.2"/><circle cx="83.9" cy="78.0" r="2.4"/><circle cx="76.1" cy="56.9" r="1.5"/><circle cx="78.5" cy="56.7" r="2.5"/><circle cx="80.6" cy="8.9" r="2.0"/></g></g></g><ellipse cx="67" cy="35" rx="3" ry="4" fill="#ffffff" opacity="0.9" filter="url(#hz)"/></svg><div class="yr">2019</div><div class="bd" style="border-width:2px"></div></div>
<div class="t" style="left:1022.8px;top:532.8px;width:101.4px;height:91.2px"><svg viewBox="0 0 100 100" preserveAspectRatio="none" style="position:absolute;left:0;top:0;width:100%;height:100%"><rect width="100" height="100" fill="#478022"/><use href="#A" fill="#1f66e5" stroke="#1f66e5" stroke-width="1.4"/><polygon points="80.9,100 79.4,90.4 80.9,82.0 84.7,82.9 88.4,80.4 92.9,79.5 95.9,84.5 95.1,88.7 91.4,92.1 88.4,100" fill="#0a0e0a"/><g filter="url(#blur)"><use href="#k69" x="-2.6" y="1.3" fill="#0f2208" opacity=".6"/><g fill="#e6e8d6" opacity=".93"><g id="k69"><circle cx="46.9" cy="69.2" r="1.8"/><circle cx="95.2" cy="80.9" r="2.5"/><circle cx="92.0" cy="85.0" r="1.7"/><circle cx="92.4" cy="83.3" r="1.2"/><circle cx="73.7" cy="82.2" r="1.1"/><circle cx="72.7" cy="80.4" r="2.2"/><circle cx="44.1" cy="81.7" r="1.8"/><circle cx="46.2" cy="81.3" r="1.3"/><circle cx="44.4" cy="80.0" r="1.7"/><circle cx="54.1" cy="83.9" r="1.9"/><circle cx="7.4" cy="70.4" r="1.5"/><circle cx="10.1" cy="74.4" r="1.5"/><circle cx="8.5" cy="72.2" r="1.3"/><circle cx="23.8" cy="94.0" r="1.4"/><circle cx="20.7" cy="95.0" r="2.3"/><circle cx="24.7" cy="94.9" r="1.4"/><circle cx="64.9" cy="89.5" r="1.5"/><circle cx="67.5" cy="90.3" r="1.9"/><circle cx="13.7" cy="93.7" r="2.1"/><circle cx="13.5" cy="91.9" r="1.2"/><circle cx="40.1" cy="92.3" r="2.4"/><circle cx="40.5" cy="91.0" r="1.1"/><circle cx="64.3" cy="72.4" r="2.0"/><circle cx="62.2" cy="73.3" r="1.5"/><circle cx="61.6" cy="74.1" r="1.9"/></g></g><use href="#k70" x="-2.6" y="1.3" fill="#0f2208" opacity=".6"/><g fill="#e6e8d6" opacity=".93"><g id="k70"><circle cx="91.0" cy="24.1" r="2.1"/><circle cx="93.3" cy="24.5" r="2.4"/><circle cx="92.8" cy="24.0" r="1.4"/><circle cx="92.5" cy="15.4" r="2.3"/><circle cx="93.1" cy="16.1" r="1.2"/><circle cx="87.8" cy="30.6" r="1.9"/><circle cx="88.2" cy="5.5" r="1.7"/><circle cx="89.0" cy="6.6" r="1.5"/><circle cx="90.4" cy="7.3" r="1.5"/><circle cx="88.8" cy="29.7" r="1.4"/><circle cx="87.2" cy="28.5" r="1.9"/><circle cx="89.8" cy="29.0" r="1.6"/></g></g></g></svg><div class="bd" style="border-width:2px"></div></div>
<div class="t" style="left:1130.0px;top:532.8px;width:102.1px;height:91.2px"><svg viewBox="0 0 100 100" preserveAspectRatio="none" style="position:absolute;left:0;top:0;width:100%;height:100%"><rect width="100" height="100" fill="#73d450"/><g opacity="0.52" filter="url(#blur)"><use href="#M" fill="#c8c8d8" stroke="#c8c8d8" stroke-width="1.4"/></g><use href="#M" fill="#1f66e5" stroke="#1f66e5" stroke-width="3.34" transform="matrix(0.561 0 0 0.278 37.49 29.56)"/><polygon points="80.9,100 79.4,90.4 80.9,82.0 84.7,82.9 88.4,80.4 92.9,79.5 95.9,84.5 95.1,88.7 91.4,92.1 88.4,100" fill="#0a0e0a"/></svg><div class="bd" style="border-width:2px"></div></div>
<div class="t" style="left:1237.3px;top:532.8px;width:103.1px;height:91.2px"><svg viewBox="0 0 100 100" preserveAspectRatio="none" style="position:absolute;left:0;top:0;width:100%;height:100%"><rect width="100" height="100" fill="#479422"/><use href="#M" fill="#1f66e5" stroke="#1f66e5" stroke-width="2.17" transform="matrix(0.774 0 0 0.514 16.47 23.78)"/><polygon points="80.9,100 79.4,90.4 80.9,82.0 84.7,82.9 88.4,80.4 92.9,79.5 95.9,84.5 95.1,88.7 91.4,92.1 88.4,100" fill="#0a0e0a"/><g filter="url(#blur)"><use href="#k71" x="-2.6" y="1.3" fill="#0f2208" opacity=".6"/><g fill="#e6e8d6" opacity=".93"><g id="k71"><circle cx="17.2" cy="12.9" r="1.8"/><circle cx="18.2" cy="11.7" r="1.2"/><circle cx="20.8" cy="12.1" r="1.6"/><circle cx="5.2" cy="18.5" r="1.9"/><circle cx="5.6" cy="19.7" r="1.8"/><circle cx="0.9" cy="22.4" r="2.2"/><circle cx="9.4" cy="41.6" r="2.5"/><circle cx="12.2" cy="40.6" r="1.3"/><circle cx="12.4" cy="41.6" r="2.2"/><circle cx="6.1" cy="43.7" r="1.8"/><circle cx="7.1" cy="44.3" r="2.3"/><circle cx="18.1" cy="55.9" r="2.3"/><circle cx="7.0" cy="23.3" r="1.4"/><circle cx="5.4" cy="23.4" r="2.4"/><circle cx="5.3" cy="24.1" r="1.2"/><circle cx="15.9" cy="37.1" r="1.8"/><circle cx="16.1" cy="11.1" r="1.3"/><circle cx="17.5" cy="12.3" r="1.8"/><circle cx="14.4" cy="12.3" r="1.9"/><circle cx="17.1" cy="46.9" r="2.5"/><circle cx="8.7" cy="39.9" r="1.7"/><circle cx="8.9" cy="41.7" r="1.3"/><circle cx="2.9" cy="11.7" r="2.2"/><circle cx="4.4" cy="13.5" r="1.2"/><circle cx="10.7" cy="31.4" r="2.2"/><circle cx="10.8" cy="29.8" r="1.5"/><circle cx="13.5" cy="29.4" r="1.1"/></g></g><use href="#k72" x="-2.6" y="1.3" fill="#0f2208" opacity=".6"/><g fill="#e6e8d6" opacity=".93"><g id="k72"><circle cx="57.3" cy="34.1" r="1.5"/><circle cx="56.8" cy="34.3" r="1.7"/><circle cx="53.9" cy="16.1" r="2.3"/><circle cx="51.7" cy="7.1" r="2.4"/><circle cx="51.4" cy="3.1" r="2.4"/><circle cx="52.5" cy="6.1" r="2.1"/><circle cx="48.2" cy="11.6" r="2.2"/><circle cx="46.0" cy="11.2" r="2.3"/><circle cx="46.8" cy="11.4" r="1.9"/><circle cx="56.2" cy="21.5" r="1.7"/><circle cx="51.1" cy="19.6" r="1.1"/><circle cx="52.1" cy="20.6" r="1.6"/><circle cx="52.9" cy="19.4" r="1.9"/><circle cx="53.7" cy="33.9" r="1.8"/><circle cx="48.9" cy="17.9" r="1.6"/><circle cx="46.4" cy="18.4" r="1.1"/></g></g><use href="#k73" x="-2.6" y="1.3" fill="#0f2208" opacity=".6"/><g fill="#e6e8d6" opacity=".93"><g id="k73"><circle cx="75.2" cy="64.8" r="1.5"/><circle cx="74.9" cy="62.3" r="2.2"/><circle cx="88.9" cy="48.0" r="2.3"/><circle cx="92.4" cy="48.8" r="1.5"/><circle cx="91.7" cy="46.6" r="2.2"/><circle cx="69.8" cy="91.7" r="1.2"/><circle cx="77.9" cy="44.5" r="2.2"/><circle cx="82.1" cy="46.1" r="1.6"/><circle cx="83.9" cy="50.9" r="1.2"/><circle cx="85.2" cy="50.1" r="2.5"/><circle cx="85.7" cy="48.0" r="2.0"/><circle cx="92.1" cy="49.5" r="1.1"/><circle cx="81.7" cy="83.7" r="1.4"/><circle cx="84.3" cy="83.6" r="2.5"/><circle cx="79.1" cy="61.9" r="1.4"/><circle cx="84.6" cy="53.0" r="1.3"/><circle cx="89.1" cy="52.3" r="1.5"/><circle cx="88.2" cy="55.3" r="2.4"/><circle cx="80.7" cy="65.8" r="1.8"/></g></g><use href="#k74" x="-2.6" y="1.3" fill="#0f2208" opacity=".6"/><g fill="#e6e8d6" opacity=".93"><g id="k74"><circle cx="3.3" cy="86.3" r="1.2"/><circle cx="10.7" cy="70.7" r="1.8"/><circle cx="11.7" cy="67.8" r="1.7"/><circle cx="8.9" cy="68.9" r="1.4"/><circle cx="10.2" cy="80.0" r="2.2"/><circle cx="10.6" cy="80.4" r="2.3"/><circle cx="11.0" cy="77.9" r="1.7"/><circle cx="3.0" cy="81.5" r="1.2"/><circle cx="9.9" cy="89.2" r="1.4"/><circle cx="6.7" cy="88.2" r="1.3"/></g></g></g></svg><div class="bd" style="border-width:3px"></div></div>
<div class="t" style="left:34.9px;top:995.0px;width:102.9px;height:91.3px"><svg viewBox="0 0 100 100" preserveAspectRatio="none" style="position:absolute;left:0;top:0;width:100%;height:100%"><rect width="100" height="100" fill="#ffffff"/><use href="#C" fill="#a8e0f0" stroke="#a8e0f0" stroke-width="1.37" transform="matrix(1.023 0 0 1.028 -1.27 -1.09)"/><use href="#C" fill="#1010f0" stroke="#1010f0" stroke-width="0.3"/></svg><div class="hd">DJF</div><div class="bd" style="border-width:2px"></div></div>
<div class="t" style="left:143.0px;top:995.0px;width:102.2px;height:91.3px"><svg viewBox="0 0 100 100" preserveAspectRatio="none" style="position:absolute;left:0;top:0;width:100%;height:100%"><rect width="100" height="100" fill="#ffffff"/><use href="#C" fill="#a8e0f0" stroke="#a8e0f0" stroke-width="1.37" transform="matrix(1.023 0 0 1.028 -1.27 -1.09)"/><use href="#C" fill="#1010f0" stroke="#1010f0" stroke-width="0.3"/></svg><div class="hd">MA</div><div class="bd" style="border-width:2px"></div></div>
<div class="t" style="left:250.5px;top:995.0px;width:102.5px;height:91.3px"><svg viewBox="0 0 100 100" preserveAspectRatio="none" style="position:absolute;left:0;top:0;width:100%;height:100%"><rect width="100" height="100" fill="#ffffff"/><use href="#C" fill="#eca030" stroke="#eca030" stroke-width="1.35" transform="matrix(1.025 0 0 1.043 -1.50 -1.36)"/><use href="#C" fill="#d0b860" stroke="#d0b860" stroke-width="1.65" transform="matrix(0.943 0 0 0.752 1.69 3.77)"/><use href="#C" fill="#1010f0" stroke="#1010f0" stroke-width="0.39" transform="matrix(0.841 0 0 0.695 5.31 5.47)"/></svg><div class="hd">MJJAS</div><div class="bd" style="border-width:2px"></div></div>
<div class="t" style="left:358.6px;top:995.0px;width:102.6px;height:91.3px"><svg viewBox="0 0 100 100" preserveAspectRatio="none" style="position:absolute;left:0;top:0;width:100%;height:100%"><rect width="100" height="100" fill="#ffffff"/><use href="#C" fill="#e8903a" stroke="#e8903a" stroke-width="1.47" transform="matrix(0.977 0 0 0.928 0.67 1.67)"/><use href="#C" fill="#1010f0" stroke="#1010f0" stroke-width="0.42" transform="matrix(0.784 0 0 0.637 7.60 7.30)"/></svg><div class="hd">ON</div><div class="bd" style="border-width:2px"></div></div>
<div class="t" style="left:477.7px;top:995.0px;width:101.7px;height:91.3px"><svg viewBox="0 0 100 100" preserveAspectRatio="none" style="position:absolute;left:0;top:0;width:100%;height:100%"><rect width="100" height="100" fill="#376a1e"/><ellipse cx="8" cy="35" rx="8" ry="10" fill="#d8ecf0" opacity="0.8" filter="url(#hz)"/><ellipse cx="92" cy="65" rx="8" ry="12" fill="#d8ecf0" opacity="0.8" filter="url(#hz)"/><ellipse cx="20" cy="85" rx="15" ry="10" fill="#d8d8d0" opacity="0.6" filter="url(#hz)"/><use href="#C" fill="#1f66e5" stroke="#1f66e5" stroke-width="1.56" transform="matrix(1.004 0 0 0.787 2.65 5.85)"/><g filter="url(#blur)"><use href="#k75" x="-2.6" y="1.3" fill="#0f2208" opacity=".6"/><g fill="#e6e8d6" opacity=".93"><g id="k75"><circle cx="22.7" cy="67.4" r="1.9"/><circle cx="22.4" cy="64.1" r="1.4"/><circle cx="23.4" cy="66.9" r="1.2"/><circle cx="18.9" cy="57.2" r="1.8"/><circle cx="24.6" cy="59.5" r="1.7"/><circle cx="23.0" cy="59.2" r="2.4"/><circle cx="30.7" cy="91.8" r="2.2"/><circle cx="22.5" cy="60.9" r="2.3"/><circle cx="20.8" cy="60.3" r="2.2"/><circle cx="19.2" cy="61.9" r="2.0"/><circle cx="9.7" cy="52.7" r="2.4"/><circle cx="7.6" cy="56.1" r="2.4"/><circle cx="7.3" cy="53.5" r="2.4"/><circle cx="18.1" cy="85.2" r="1.5"/><circle cx="17.4" cy="84.8" r="2.4"/><circle cx="22.6" cy="91.7" r="1.4"/><circle cx="19.9" cy="31.8" r="1.7"/><circle cx="21.9" cy="30.2" r="2.1"/><circle cx="19.7" cy="34.2" r="1.5"/><circle cx="3.6" cy="78.6" r="2.1"/><circle cx="16.8" cy="46.0" r="1.9"/><circle cx="17.5" cy="49.5" r="1.5"/><circle cx="14.3" cy="48.7" r="1.2"/><circle cx="31.2" cy="65.9" r="2.4"/><circle cx="28.2" cy="68.7" r="2.0"/><circle cx="17.6" cy="57.6" r="2.0"/><circle cx="18.7" cy="54.3" r="1.5"/><circle cx="18.4" cy="57.8" r="2.0"/><circle cx="15.5" cy="34.0" r="1.2"/><circle cx="11.7" cy="32.5" r="2.1"/></g></g><use href="#k76" x="-2.6" y="1.3" fill="#0f2208" opacity=".6"/><g fill="#e6e8d6" opacity=".93"><g id="k76"><circle cx="83.7" cy="91.7" r="1.9"/><circle cx="86.1" cy="90.6" r="1.1"/><circle cx="84.7" cy="79.2" r="1.1"/><circle cx="83.2" cy="80.9" r="2.4"/><circle cx="93.8" cy="77.2" r="2.4"/><circle cx="93.8" cy="79.7" r="2.2"/><circle cx="96.4" cy="77.3" r="1.5"/><circle cx="81.1" cy="90.1" r="2.0"/><circle cx="82.2" cy="91.3" r="1.8"/><circle cx="77.8" cy="91.2" r="1.2"/><circle cx="83.5" cy="63.1" r="1.9"/><circle cx="82.2" cy="64.1" r="1.8"/><circle cx="84.1" cy="61.8" r="1.7"/><circle cx="82.8" cy="69.3" r="1.5"/><circle cx="89.1" cy="55.5" r="2.0"/><circle cx="84.3" cy="71.4" r="2.3"/><circle cx="82.1" cy="59.0" r="1.6"/><circle cx="82.3" cy="62.0" r="1.9"/><circle cx="81.9" cy="61.1" r="2.0"/><circle cx="95.9" cy="63.0" r="1.7"/><circle cx="91.5" cy="68.2" r="1.3"/><circle cx="92.9" cy="68.4" r="1.4"/></g></g><use href="#k77" x="-2.6" y="1.3" fill="#0f2208" opacity=".6"/><g fill="#e6e8d6" opacity=".93"><g id="k77"><circle cx="30.3" cy="92.8" r="1.2"/><circle cx="35.0" cy="91.3" r="2.3"/><circle cx="19.5" cy="78.8" r="2.2"/><circle cx="59.6" cy="82.2" r="2.0"/><circle cx="56.6" cy="82.5" r="2.5"/><circle cx="59.5" cy="83.1" r="1.2"/><circle cx="29.7" cy="89.7" r="2.2"/><circle cx="44.8" cy="98.0" r="2.4"/><circle cx="44.7" cy="94.8" r="1.8"/><circle cx="32.5" cy="99.5" r="2.1"/><circle cx="22.6" cy="86.5" r="1.1"/><circle cx="21.7" cy="87.0" r="1.2"/><circle cx="20.8" cy="86.0" r="2.1"/><circle cx="50.0" cy="95.8" r="2.4"/><circle cx="52.3" cy="98.4" r="2.3"/><circle cx="52.6" cy="96.1" r="1.8"/><circle cx="52.5" cy="95.6" r="2.0"/><circle cx="54.1" cy="93.2" r="2.3"/><circle cx="54.9" cy="93.4" r="1.7"/></g></g></g></svg><div class="yr">1988</div><div class="bd" style="border-width:2px"></div></div>
<div class="t" style="left:583.3px;top:995.0px;width:101.7px;height:91.3px"><svg viewBox="0 0 100 100" preserveAspectRatio="none" style="position:absolute;left:0;top:0;width:100%;height:100%"><rect width="100" height="100" fill="#478a22"/><use href="#C" fill="#1f66e5" stroke="#1f66e5" stroke-width="1.86" transform="matrix(0.792 0 0 0.710 5.90 7.20)"/><g filter="url(#blur)"><use href="#k78" x="-2.6" y="1.3" fill="#0f2208" opacity=".6"/><g fill="#e6e8d6" opacity=".93"><g id="k78"><circle cx="53.0" cy="18.6" r="1.6"/><circle cx="16.8" cy="15.4" r="2.2"/><circle cx="40.2" cy="22.7" r="2.4"/><circle cx="41.5" cy="21.6" r="1.4"/><circle cx="40.0" cy="23.1" r="2.4"/><circle cx="60.3" cy="4.1" r="1.9"/><circle cx="59.0" cy="5.8" r="1.9"/><circle cx="62.8" cy="24.1" r="2.4"/><circle cx="21.2" cy="4.3" r="1.9"/><circle cx="23.3" cy="4.4" r="2.4"/><circle cx="22.6" cy="3.3" r="1.7"/><circle cx="84.7" cy="18.2" r="2.2"/><circle cx="87.9" cy="18.2" r="1.5"/><circle cx="87.3" cy="18.2" r="1.3"/><circle cx="52.2" cy="13.8" r="1.6"/><circle cx="52.5" cy="16.1" r="2.0"/><circle cx="33.1" cy="18.6" r="2.3"/><circle cx="30.9" cy="17.1" r="1.6"/><circle cx="31.0" cy="17.3" r="1.5"/><circle cx="95.0" cy="6.5" r="1.3"/><circle cx="69.4" cy="12.0" r="1.7"/></g></g><use href="#k79" x="-2.6" y="1.3" fill="#0f2208" opacity=".6"/><g fill="#e6e8d6" opacity=".93"><g id="k79"><circle cx="86.7" cy="44.0" r="1.4"/><circle cx="87.7" cy="39.2" r="1.1"/><circle cx="83.9" cy="42.4" r="1.1"/><circle cx="94.6" cy="54.1" r="1.9"/><circle cx="93.1" cy="54.6" r="1.3"/><circle cx="94.2" cy="52.1" r="2.4"/><circle cx="89.1" cy="61.9" r="2.4"/><circle cx="91.4" cy="65.6" r="2.5"/><circle cx="91.5" cy="60.7" r="1.5"/><circle cx="89.4" cy="65.0" r="2.2"/><circle cx="87.5" cy="62.4" r="1.8"/><circle cx="93.3" cy="53.3" r="2.3"/></g></g></g></svg><div class="bd" style="border-width:2px"></div></div>
<div class="t" style="left:690.9px;top:995.0px;width:102.3px;height:91.3px"><svg viewBox="0 0 100 100" preserveAspectRatio="none" style="position:absolute;left:0;top:0;width:100%;height:100%"><rect width="100" height="100" fill="#56a42e"/><ellipse cx="25" cy="30" rx="8" ry="10" fill="#a07050" opacity="0.6" filter="url(#hz)"/><ellipse cx="30" cy="75" rx="8" ry="10" fill="#a07050" opacity="0.5" filter="url(#hz)"/><ellipse cx="75" cy="40" rx="8" ry="12" fill="#a07050" opacity="0.5" filter="url(#hz)"/><use href="#C" fill="#1f66e5" stroke="#1f66e5" stroke-width="2.08" transform="matrix(0.742 0 0 0.603 9.99 9.09)"/></svg><div class="bd" style="border-width:2px"></div></div>
<div class="t" style="left:799.1px;top:995.0px;width:101.7px;height:91.3px"><svg viewBox="0 0 100 100" preserveAspectRatio="none" style="position:absolute;left:0;top:0;width:100%;height:100%"><rect width="100" height="100" fill="#9dc445"/><ellipse cx="80" cy="50" rx="15" ry="12" fill="#6a8a40" opacity="0.6" filter="url(#hz)"/><ellipse cx="50" cy="90" rx="40" ry="12" fill="#b8d070" opacity="0.6" filter="url(#hz)"/><use href="#C" fill="#1f66e5" stroke="#1f66e5" stroke-width="2.27" transform="matrix(0.683 0 0 0.551 10.41 10.01)"/></svg><div class="bd" style="border-width:2px"></div></div>
<div class="t" style="left:914.9px;top:995.0px;width:102.0px;height:91.3px"><svg viewBox="0 0 100 100" preserveAspectRatio="none" style="position:absolute;left:0;top:0;width:100%;height:100%"><rect width="100" height="100" fill="#3c6a21"/><ellipse cx="30" cy="12" rx="35" ry="14" fill="#d8eef0" opacity="0.9" filter="url(#hz)"/><ellipse cx="85" cy="30" rx="12" ry="20" fill="#d8eef0" opacity="0.85" filter="url(#hz)"/><ellipse cx="30" cy="75" rx="28" ry="18" fill="#d8b8a8" opacity="0.5" filter="url(#hz)"/><use href="#C" fill="#1f66e5" stroke="#1f66e5" stroke-width="3.03" transform="matrix(0.519 0 0 0.403 21.47 36.60)"/><g filter="url(#blur)"><use href="#k80" x="-2.6" y="1.3" fill="#0f2208" opacity=".6"/><g fill="#e6e8d6" opacity=".93"><g id="k80"><circle cx="96.7" cy="90.8" r="1.4"/><circle cx="95.5" cy="89.2" r="1.9"/><circle cx="96.2" cy="91.2" r="2.2"/><circle cx="75.7" cy="88.1" r="2.1"/><circle cx="77.7" cy="91.3" r="1.8"/><circle cx="45.3" cy="75.0" r="2.0"/><circle cx="44.6" cy="73.3" r="2.3"/><circle cx="12.7" cy="45.9" r="1.8"/><circle cx="16.4" cy="49.2" r="2.3"/><circle cx="13.3" cy="45.3" r="2.1"/><circle cx="58.1" cy="50.1" r="1.4"/><circle cx="57.1" cy="47.8" r="1.7"/><circle cx="55.7" cy="49.7" r="2.3"/><circle cx="27.6" cy="41.1" r="2.1"/><circle cx="23.7" cy="37.8" r="2.5"/><circle cx="25.6" cy="40.2" r="2.2"/><circle cx="16.0" cy="96.8" r="1.1"/><circle cx="17.7" cy="69.7" r="2.0"/><circle cx="20.8" cy="68.9" r="2.5"/><circle cx="65.8" cy="70.1" r="2.2"/><circle cx="64.4" cy="70.3" r="1.3"/><circle cx="31.8" cy="80.4" r="1.3"/><circle cx="34.0" cy="80.3" r="1.2"/><circle cx="39.2" cy="93.0" r="1.4"/><circle cx="38.6" cy="93.5" r="1.5"/><circle cx="92.9" cy="45.8" r="2.0"/><circle cx="92.8" cy="44.5" r="2.0"/><circle cx="91.8" cy="65.7" r="2.0"/><circle cx="58.7" cy="39.8" r="1.5"/><circle cx="96.6" cy="90.9" r="1.8"/><circle cx="92.4" cy="87.0" r="1.9"/><circle cx="60.1" cy="54.1" r="1.1"/><circle cx="58.8" cy="52.4" r="1.6"/><circle cx="20.7" cy="68.8" r="1.7"/><circle cx="23.9" cy="70.8" r="2.5"/><circle cx="23.6" cy="70.7" r="1.9"/><circle cx="40.3" cy="60.1" r="1.7"/></g></g><use href="#k81" x="-2.6" y="1.3" fill="#0f2208" opacity=".6"/><g fill="#e6e8d6" opacity=".93"><g id="k81"><circle cx="33.2" cy="17.0" r="1.4"/><circle cx="32.8" cy="18.1" r="1.6"/><circle cx="0.7" cy="12.3" r="1.4"/><circle cx="0.8" cy="15.3" r="1.4"/><circle cx="45.1" cy="24.4" r="1.2"/><circle cx="45.9" cy="27.0" r="1.8"/><circle cx="42.9" cy="24.4" r="1.3"/><circle cx="42.5" cy="4.6" r="1.7"/><circle cx="42.2" cy="6.1" r="1.6"/><circle cx="17.1" cy="15.6" r="2.2"/><circle cx="16.8" cy="14.6" r="1.3"/><circle cx="15.8" cy="15.5" r="1.5"/><circle cx="44.9" cy="18.6" r="1.5"/><circle cx="43.2" cy="17.7" r="2.4"/><circle cx="59.0" cy="20.6" r="1.1"/><circle cx="54.2" cy="31.1" r="1.7"/><circle cx="57.1" cy="27.6" r="1.2"/><circle cx="17.7" cy="5.5" r="1.3"/><circle cx="13.1" cy="23.3" r="1.7"/><circle cx="44.9" cy="10.3" r="2.0"/></g></g></g></svg><div class="yr">1991</div><div class="bd" style="border-width:2px"></div></div>
<div class="t" style="left:1023.5px;top:995.0px;width:101.4px;height:91.3px"><svg viewBox="0 0 100 100" preserveAspectRatio="none" style="position:absolute;left:0;top:0;width:100%;height:100%"><rect width="100" height="100" fill="#476e22"/><use href="#C" fill="#1f66e5" stroke="#1f66e5" stroke-width="2.06" transform="matrix(0.749 0 0 0.613 9.01 25.20)"/><g filter="url(#blur)"><use href="#k82" x="-2.6" y="1.3" fill="#0f2208" opacity=".6"/><g fill="#e6e8d6" opacity=".93"><g id="k82"><circle cx="3.7" cy="17.6" r="1.2"/><circle cx="17.7" cy="20.9" r="2.0"/><circle cx="20.5" cy="20.3" r="2.1"/><circle cx="21.3" cy="6.2" r="1.8"/><circle cx="20.8" cy="4.3" r="2.0"/><circle cx="37.3" cy="10.8" r="1.8"/><circle cx="39.1" cy="10.0" r="2.4"/><circle cx="14.5" cy="22.2" r="1.5"/><circle cx="16.2" cy="24.4" r="2.3"/><circle cx="15.2" cy="24.8" r="1.6"/><circle cx="20.7" cy="6.6" r="1.8"/><circle cx="21.4" cy="9.2" r="1.6"/><circle cx="19.9" cy="9.4" r="1.2"/><circle cx="24.3" cy="26.4" r="2.1"/><circle cx="17.9" cy="23.3" r="2.1"/><circle cx="21.0" cy="26.8" r="1.7"/><circle cx="19.4" cy="10.4" r="2.2"/><circle cx="22.7" cy="11.4" r="1.5"/><circle cx="30.2" cy="6.9" r="1.7"/><circle cx="9.9" cy="15.8" r="1.2"/><circle cx="8.7" cy="13.3" r="1.4"/><circle cx="9.4" cy="11.5" r="2.2"/></g></g><use href="#k83" x="-2.6" y="1.3" fill="#0f2208" opacity=".6"/><g fill="#e6e8d6" opacity=".93"><g id="k83"><circle cx="42.1" cy="69.2" r="1.3"/><circle cx="86.9" cy="89.2" r="1.3"/><circle cx="46.0" cy="82.7" r="2.5"/><circle cx="42.4" cy="82.0" r="1.2"/><circle cx="43.5" cy="81.6" r="1.6"/><circle cx="72.7" cy="62.9" r="2.1"/><circle cx="71.0" cy="61.1" r="2.1"/><circle cx="71.0" cy="60.1" r="2.1"/><circle cx="91.7" cy="93.4" r="1.3"/><circle cx="66.4" cy="75.5" r="1.3"/><circle cx="63.9" cy="73.0" r="2.2"/><circle cx="62.7" cy="77.1" r="2.0"/><circle cx="47.7" cy="63.1" r="1.5"/><circle cx="48.8" cy="64.9" r="2.3"/><circle cx="47.7" cy="65.8" r="2.3"/><circle cx="88.4" cy="96.9" r="1.5"/><circle cx="85.0" cy="92.7" r="2.5"/><circle cx="61.2" cy="72.8" r="1.5"/><circle cx="72.0" cy="62.0" r="1.8"/><circle cx="74.1" cy="60.7" r="2.4"/><circle cx="63.3" cy="92.5" r="1.7"/><circle cx="63.9" cy="95.8" r="2.4"/><circle cx="63.1" cy="94.2" r="1.8"/><circle cx="54.1" cy="77.9" r="2.3"/><circle cx="55.4" cy="78.5" r="2.4"/><circle cx="92.3" cy="74.2" r="1.4"/><circle cx="56.1" cy="97.3" r="1.3"/><circle cx="57.0" cy="99.2" r="2.1"/><circle cx="57.0" cy="97.6" r="2.5"/></g></g><use href="#k84" x="-2.6" y="1.3" fill="#0f2208" opacity=".6"/><g fill="#e6e8d6" opacity=".93"><g id="k84"><circle cx="6.4" cy="98.8" r="2.1"/><circle cx="4.3" cy="94.7" r="2.2"/><circle cx="7.3" cy="98.6" r="1.6"/><circle cx="24.6" cy="90.4" r="1.4"/><circle cx="6.1" cy="76.9" r="2.1"/><circle cx="7.3" cy="79.7" r="1.4"/><circle cx="8.4" cy="79.2" r="2.2"/><circle cx="29.2" cy="90.7" r="1.9"/><circle cx="30.2" cy="92.8" r="1.7"/><circle cx="30.7" cy="75.2" r="2.2"/></g></g></g></svg><div class="bd" style="border-width:2px"></div></div>
<div class="t" style="left:1131.1px;top:995.0px;width:101.7px;height:91.3px"><svg viewBox="0 0 100 100" preserveAspectRatio="none" style="position:absolute;left:0;top:0;width:100%;height:100%"><rect width="100" height="100" fill="#9dc870"/><ellipse cx="20" cy="60" rx="15" ry="30" fill="#88c070" opacity="0.6" filter="url(#hz)"/><ellipse cx="75" cy="50" rx="12" ry="30" fill="#c8a8b8" opacity="0.6" filter="url(#hz)"/><use href="#C" fill="#1f66e5" stroke="#1f66e5" stroke-width="2.65" transform="matrix(0.587 0 0 0.469 15.76 27.74)"/></svg><div class="bd" style="border-width:2px"></div></div>
<div class="t" style="left:1239.0px;top:995.0px;width:102.4px;height:91.3px"><svg viewBox="0 0 100 100" preserveAspectRatio="none" style="position:absolute;left:0;top:0;width:100%;height:100%"><rect width="100" height="100" fill="#4ea629"/><use href="#C" fill="#1f66e5" stroke="#1f66e5" stroke-width="2.78" transform="matrix(0.537 0 0 0.469 17.16 27.74)"/></svg><div class="bd" style="border-width:2px"></div></div>
<div class="t" style="left:32.4px;top:1094.2px;width:102.9px;height:91.8px"><svg viewBox="0 0 100 100" preserveAspectRatio="none" style="position:absolute;left:0;top:0;width:100%;height:100%"><rect width="100" height="100" fill="#3c7a22"/><ellipse cx="65" cy="70" rx="10" ry="10" fill="#2a5020" opacity="0.7" filter="url(#hz)"/><use href="#C" fill="#1a4ab0" stroke="#1a4ab0" stroke-width="2.22" transform="matrix(0.742 0 0 0.521 8.79 9.82)"/><g filter="url(#blur)"><use href="#k85" x="-2.6" y="1.3" fill="#0f2208" opacity=".6"/><g fill="#e6e8d6" opacity=".93"><g id="k85"><circle cx="82.5" cy="74.1" r="1.8"/><circle cx="80.9" cy="69.5" r="1.9"/><circle cx="80.9" cy="73.1" r="1.7"/><circle cx="95.5" cy="62.6" r="1.1"/><circle cx="92.6" cy="63.6" r="2.4"/><circle cx="96.7" cy="62.1" r="1.2"/><circle cx="80.0" cy="54.7" r="2.0"/><circle cx="80.0" cy="57.3" r="1.9"/><circle cx="80.2" cy="54.5" r="2.1"/><circle cx="83.3" cy="52.6" r="2.3"/><circle cx="83.2" cy="54.2" r="1.2"/><circle cx="81.5" cy="53.0" r="1.6"/><circle cx="60.6" cy="66.8" r="1.8"/><circle cx="60.9" cy="66.3" r="1.8"/><circle cx="61.9" cy="68.6" r="2.5"/><circle cx="92.7" cy="85.8" r="2.3"/><circle cx="95.1" cy="86.3" r="2.4"/><circle cx="93.8" cy="86.5" r="1.5"/><circle cx="75.7" cy="39.0" r="1.8"/></g></g></g></svg><div class="yr">1992</div><div class="bd" style="border-width:2px"></div></div>
<div class="t" style="left:140.6px;top:1094.2px;width:102.4px;height:91.8px"><svg viewBox="0 0 100 100" preserveAspectRatio="none" style="position:absolute;left:0;top:0;width:100%;height:100%"><rect width="100" height="100" fill="#476228"/><ellipse cx="25" cy="12" rx="18" ry="10" fill="#d8ecec" opacity="0.8" filter="url(#hz)"/><ellipse cx="70" cy="55" rx="16" ry="12" fill="#e0e8e4" opacity="0.6" filter="url(#hz)"/><ellipse cx="20" cy="70" rx="14" ry="10" fill="#e0d8d0" opacity="0.5" filter="url(#hz)"/><use href="#C" fill="#1f66e5" stroke="#1f66e5" stroke-width="2.70" transform="matrix(0.632 0 0 0.406 11.81 17.85)"/><g filter="url(#blur)"><use href="#k86" x="-2.6" y="1.3" fill="#0f2208" opacity=".6"/><g fill="#e6e8d6" opacity=".93"><g id="k86"><circle cx="10.7" cy="41.1" r="1.2"/><circle cx="8.7" cy="43.4" r="1.7"/><circle cx="16.2" cy="6.9" r="1.5"/><circle cx="14.1" cy="9.9" r="2.3"/><circle cx="13.8" cy="6.7" r="1.1"/><circle cx="47.0" cy="14.5" r="2.0"/><circle cx="37.3" cy="5.9" r="1.9"/><circle cx="88.9" cy="42.9" r="2.1"/><circle cx="90.5" cy="9.3" r="1.6"/><circle cx="86.8" cy="9.9" r="1.5"/><circle cx="63.3" cy="3.8" r="1.3"/><circle cx="84.2" cy="22.6" r="2.2"/><circle cx="72.6" cy="35.7" r="1.6"/><circle cx="63.7" cy="36.3" r="2.3"/><circle cx="59.9" cy="35.2" r="2.2"/><circle cx="63.0" cy="37.1" r="1.3"/><circle cx="79.0" cy="24.9" r="2.0"/><circle cx="82.1" cy="27.5" r="1.6"/><circle cx="19.4" cy="42.6" r="1.4"/><circle cx="62.9" cy="13.3" r="1.9"/><circle cx="60.6" cy="14.1" r="2.4"/><circle cx="61.7" cy="10.4" r="2.4"/><circle cx="54.1" cy="25.1" r="1.7"/><circle cx="52.2" cy="11.3" r="2.4"/><circle cx="52.8" cy="14.3" r="2.1"/><circle cx="52.6" cy="10.6" r="2.3"/><circle cx="54.9" cy="31.1" r="1.4"/><circle cx="68.9" cy="20.7" r="2.2"/><circle cx="78.6" cy="18.9" r="1.7"/><circle cx="80.7" cy="16.9" r="1.1"/><circle cx="78.5" cy="19.1" r="2.4"/><circle cx="53.2" cy="41.9" r="1.9"/><circle cx="6.4" cy="31.5" r="1.4"/><circle cx="6.6" cy="28.9" r="1.5"/><circle cx="4.4" cy="31.6" r="1.9"/><circle cx="26.2" cy="28.4" r="2.4"/><circle cx="23.3" cy="27.0" r="2.3"/><circle cx="63.4" cy="14.3" r="2.2"/><circle cx="92.1" cy="13.7" r="1.8"/><circle cx="95.2" cy="13.4" r="1.7"/><circle cx="96.8" cy="13.5" r="1.3"/><circle cx="73.2" cy="35.8" r="1.8"/><circle cx="72.7" cy="34.7" r="1.4"/><circle cx="90.6" cy="43.4" r="1.4"/><circle cx="92.5" cy="44.4" r="2.5"/></g></g><use href="#k87" x="-2.6" y="1.3" fill="#0f2208" opacity=".6"/><g fill="#e6e8d6" opacity=".93"><g id="k87"><circle cx="2.1" cy="90.4" r="1.4"/><circle cx="6.2" cy="90.8" r="1.4"/><circle cx="41.4" cy="59.0" r="1.4"/><circle cx="44.6" cy="58.3" r="1.3"/><circle cx="52.4" cy="80.0" r="2.0"/><circle cx="50.1" cy="79.6" r="1.1"/><circle cx="52.0" cy="81.0" r="2.1"/><circle cx="47.0" cy="87.8" r="1.6"/><circle cx="18.1" cy="53.5" r="1.8"/><circle cx="16.4" cy="53.6" r="1.5"/><circle cx="14.8" cy="53.5" r="2.5"/><circle cx="89.7" cy="83.0" r="1.2"/><circle cx="89.5" cy="83.8" r="2.2"/><circle cx="50.0" cy="86.1" r="1.7"/><circle cx="68.6" cy="59.5" r="1.8"/><circle cx="53.9" cy="82.8" r="2.0"/><circle cx="53.3" cy="84.6" r="1.9"/><circle cx="52.0" cy="82.1" r="1.2"/><circle cx="84.5" cy="79.6" r="1.5"/><circle cx="83.6" cy="78.5" r="1.4"/><circle cx="26.4" cy="85.2" r="2.3"/><circle cx="27.9" cy="85.6" r="1.3"/><circle cx="29.3" cy="86.4" r="1.1"/><circle cx="47.4" cy="49.7" r="2.0"/><circle cx="64.7" cy="81.4" r="2.2"/><circle cx="64.2" cy="81.4" r="2.2"/><circle cx="66.0" cy="78.7" r="2.2"/><circle cx="70.3" cy="74.2" r="1.3"/><circle cx="92.8" cy="55.4" r="1.2"/><circle cx="91.6" cy="54.7" r="1.2"/><circle cx="91.2" cy="58.6" r="1.3"/><circle cx="23.1" cy="68.9" r="1.5"/><circle cx="62.7" cy="88.4" r="1.5"/><circle cx="64.0" cy="84.4" r="2.5"/><circle cx="60.9" cy="87.1" r="2.4"/><circle cx="40.4" cy="79.6" r="1.8"/><circle cx="41.9" cy="80.6" r="1.3"/><circle cx="81.7" cy="84.0" r="1.7"/><circle cx="81.6" cy="84.8" r="1.8"/><circle cx="82.1" cy="84.8" r="1.6"/><circle cx="82.2" cy="81.5" r="1.2"/><circle cx="83.2" cy="82.5" r="2.0"/><circle cx="93.9" cy="51.4" r="2.3"/><circle cx="94.4" cy="53.5" r="1.6"/><circle cx="94.1" cy="52.8" r="2.1"/><circle cx="44.1" cy="65.8" r="2.1"/><circle cx="44.5" cy="65.1" r="1.6"/></g></g></g></svg><div class="bd" style="border-width:2px"></div></div>
<div class="t" style="left:248.7px;top:1094.2px;width:101.9px;height:91.8px"><svg viewBox="0 0 100 100" preserveAspectRatio="none" style="position:absolute;left:0;top:0;width:100%;height:100%"><rect width="100" height="100" fill="#477a26"/><ellipse cx="40" cy="60" rx="10" ry="8" fill="#70d060" opacity="0.7" filter="url(#hz)"/><use href="#C" fill="#1f66e5" stroke="#1f66e5" stroke-width="3.63" transform="matrix(0.388 0 0 0.383 25.05 14.25)"/><g filter="url(#blur)"><use href="#k88" x="-2.6" y="1.3" fill="#0f2208" opacity=".6"/><g fill="#e6e8d6" opacity=".93"><g id="k88"><circle cx="57.3" cy="70.9" r="1.2"/><circle cx="32.2" cy="68.5" r="1.9"/><circle cx="34.6" cy="66.4" r="1.2"/><circle cx="93.6" cy="93.4" r="2.4"/><circle cx="79.4" cy="66.4" r="2.0"/><circle cx="66.0" cy="61.2" r="1.3"/><circle cx="68.2" cy="62.6" r="1.2"/><circle cx="92.6" cy="63.4" r="2.4"/><circle cx="91.1" cy="60.9" r="2.0"/><circle cx="90.8" cy="60.3" r="2.3"/><circle cx="88.1" cy="63.3" r="2.4"/><circle cx="66.6" cy="64.5" r="1.1"/><circle cx="68.1" cy="62.8" r="1.4"/><circle cx="42.8" cy="94.1" r="1.6"/><circle cx="74.6" cy="88.8" r="1.5"/><circle cx="74.1" cy="89.6" r="1.6"/><circle cx="75.1" cy="89.3" r="1.6"/><circle cx="57.1" cy="75.5" r="1.5"/><circle cx="58.9" cy="75.9" r="1.9"/><circle cx="58.9" cy="78.4" r="1.9"/></g></g></g></svg><div class="bd" style="border-width:2px"></div></div>
<div class="t" style="left:359.3px;top:1094.2px;width:101.2px;height:91.8px"><svg viewBox="0 0 100 100" preserveAspectRatio="none" style="position:absolute;left:0;top:0;width:100%;height:100%"><rect width="100" height="100" fill="#c49cac"/><ellipse cx="25" cy="75" rx="20" ry="22" fill="#90d0a0" opacity="0.75" filter="url(#hz)"/><ellipse cx="70" cy="40" rx="15" ry="15" fill="#d07890" opacity="0.6" filter="url(#hz)"/><ellipse cx="85" cy="85" rx="15" ry="12" fill="#a0d0b0" opacity="0.6" filter="url(#hz)"/><ellipse cx="15" cy="20" rx="12" ry="12" fill="#a8d0b0" opacity="0.5" filter="url(#hz)"/><use href="#C" fill="#1f66e5" stroke="#1f66e5" stroke-width="3.39" transform="matrix(0.412 0 0 0.414 22.66 13.71)"/></svg><div class="bd" style="border-width:2px"></div></div>
<div class="t" style="left:475.0px;top:1094.2px;width:101.8px;height:91.8px"><svg viewBox="0 0 100 100" preserveAspectRatio="none" style="position:absolute;left:0;top:0;width:100%;height:100%"><rect width="100" height="100" fill="#3a6a1e"/><use href="#C" fill="#1f66e5" stroke="#1f66e5" stroke-width="1.38" transform="matrix(1.041 0 0 0.985 0.11 0.47)"/><g filter="url(#blur)"><use href="#k89" x="-2.6" y="1.3" fill="#0f2208" opacity=".6"/><g fill="#e6e8d6" opacity=".93"><g id="k89"><circle cx="18.0" cy="37.7" r="1.5"/><circle cx="7.9" cy="19.2" r="2.3"/><circle cx="15.1" cy="47.2" r="1.2"/><circle cx="1.1" cy="47.1" r="1.1"/><circle cx="3.8" cy="45.6" r="1.6"/><circle cx="5.7" cy="12.5" r="1.6"/><circle cx="2.5" cy="8.4" r="2.3"/><circle cx="2.5" cy="11.7" r="2.2"/><circle cx="13.3" cy="55.2" r="1.3"/><circle cx="11.9" cy="56.5" r="1.5"/><circle cx="13.2" cy="56.3" r="2.2"/><circle cx="10.1" cy="86.5" r="1.3"/><circle cx="11.2" cy="83.4" r="2.3"/><circle cx="14.2" cy="30.5" r="1.2"/><circle cx="17.1" cy="33.9" r="2.0"/><circle cx="2.7" cy="34.6" r="2.2"/><circle cx="4.4" cy="32.9" r="2.0"/><circle cx="6.0" cy="32.8" r="2.4"/><circle cx="10.3" cy="59.3" r="2.4"/><circle cx="12.8" cy="60.7" r="1.4"/><circle cx="12.0" cy="37.8" r="1.6"/><circle cx="11.6" cy="37.9" r="1.8"/><circle cx="7.6" cy="90.6" r="2.5"/><circle cx="14.2" cy="82.2" r="2.4"/><circle cx="13.1" cy="82.5" r="2.0"/><circle cx="12.1" cy="81.3" r="2.3"/><circle cx="5.9" cy="27.2" r="2.4"/></g></g><use href="#k90" x="-2.6" y="1.3" fill="#0f2208" opacity=".6"/><g fill="#e6e8d6" opacity=".93"><g id="k90"><circle cx="55.3" cy="83.6" r="1.9"/><circle cx="53.5" cy="96.2" r="1.8"/><circle cx="54.9" cy="96.5" r="1.4"/><circle cx="57.4" cy="96.8" r="2.5"/><circle cx="71.0" cy="77.8" r="1.5"/><circle cx="73.8" cy="75.3" r="2.2"/><circle cx="69.7" cy="77.8" r="1.6"/><circle cx="68.5" cy="84.7" r="2.2"/><circle cx="93.3" cy="82.7" r="2.1"/><circle cx="91.6" cy="83.0" r="2.4"/><circle cx="93.0" cy="83.2" r="2.2"/><circle cx="72.6" cy="81.2" r="2.3"/><circle cx="70.5" cy="81.9" r="1.6"/><circle cx="90.8" cy="81.5" r="1.4"/><circle cx="90.9" cy="83.4" r="2.4"/><circle cx="90.8" cy="83.6" r="2.0"/><circle cx="93.0" cy="85.2" r="1.7"/><circle cx="61.9" cy="81.5" r="1.5"/><circle cx="58.9" cy="87.3" r="1.4"/><circle cx="57.1" cy="86.0" r="1.1"/><circle cx="71.7" cy="82.7" r="2.2"/><circle cx="88.2" cy="76.9" r="2.1"/><circle cx="89.4" cy="79.5" r="2.3"/><circle cx="87.2" cy="97.2" r="2.4"/><circle cx="87.6" cy="96.6" r="2.1"/><circle cx="86.3" cy="98.3" r="1.2"/><circle cx="82.4" cy="78.0" r="1.5"/></g></g></g></svg><div class="yr">1994</div><div class="bd" style="border-width:2px"></div></div>
<div class="t" style="left:583.6px;top:1094.2px;width:101.4px;height:91.8px"><svg viewBox="0 0 100 100" preserveAspectRatio="none" style="position:absolute;left:0;top:0;width:100%;height:100%"><rect width="100" height="100" fill="#95d26a"/><ellipse cx="20" cy="20" rx="15" ry="12" fill="#c0e0c0" opacity="0.6" filter="url(#hz)"/><use href="#C" fill="#1f66e5" stroke="#1f66e5" stroke-width="1.34" transform="matrix(1.045 0 0 1.046 -2.24 -0.61)"/></svg><div class="bd" style="border-width:2px"></div></div>
<div class="t" style="left:690.9px;top:1094.2px;width:102.3px;height:91.8px"><svg viewBox="0 0 100 100" preserveAspectRatio="none" style="position:absolute;left:0;top:0;width:100%;height:100%"><rect width="100" height="100" fill="#99c867"/><ellipse cx="40" cy="10" rx="15" ry="8" fill="#d8a8b8" opacity="0.7" filter="url(#hz)"/><ellipse cx="15" cy="50" rx="8" ry="8" fill="#c87868" opacity="0.5" filter="url(#hz)"/><use href="#C" fill="#1f66e5" stroke="#1f66e5" stroke-width="2.57" transform="matrix(0.595 0 0 0.494 14.86 10.91)"/></svg><div class="bd" style="border-width:2px"></div></div>
<div class="t" style="left:799.1px;top:1094.2px;width:101.7px;height:91.8px"><svg viewBox="0 0 100 100" preserveAspectRatio="none" style="position:absolute;left:0;top:0;width:100%;height:100%"><rect width="100" height="100" fill="#51a42c"/><ellipse cx="75" cy="70" rx="15" ry="20" fill="#70d060" opacity="0.6" filter="url(#hz)"/><use href="#C" fill="#1f66e5" stroke="#1f66e5" stroke-width="2.47" transform="matrix(0.641 0 0 0.494 12.50 10.91)"/></svg><div class="bd" style="border-width:2px"></div></div>
<div class="t" style="left:914.9px;top:1094.2px;width:102.0px;height:91.8px"><svg viewBox="0 0 100 100" preserveAspectRatio="none" style="position:absolute;left:0;top:0;width:100%;height:100%"><rect width="100" height="100" fill="#3a6a1e"/><use href="#C" fill="#1f66e5" stroke="#1f66e5" stroke-width="1.48" transform="matrix(0.989 0 0 0.899 0.63 2.98)"/><g filter="url(#blur)"><use href="#k91" x="-2.6" y="1.3" fill="#0f2208" opacity=".6"/><g fill="#e6e8d6" opacity=".93"><g id="k91"><circle cx="15.3" cy="59.0" r="2.2"/><circle cx="16.0" cy="55.4" r="2.3"/><circle cx="26.7" cy="79.2" r="1.6"/><circle cx="28.1" cy="79.6" r="2.2"/><circle cx="26.1" cy="81.0" r="2.0"/><circle cx="34.5" cy="70.4" r="1.6"/><circle cx="31.8" cy="54.4" r="2.0"/><circle cx="33.3" cy="51.9" r="1.8"/><circle cx="33.0" cy="61.4" r="2.0"/><circle cx="33.1" cy="60.5" r="2.2"/><circle cx="35.3" cy="87.6" r="2.2"/><circle cx="35.4" cy="88.1" r="2.0"/><circle cx="35.9" cy="90.5" r="1.8"/><circle cx="34.7" cy="85.8" r="1.4"/><circle cx="17.3" cy="94.4" r="2.3"/><circle cx="15.7" cy="89.3" r="1.1"/><circle cx="37.2" cy="70.9" r="2.0"/><circle cx="29.3" cy="88.7" r="1.4"/><circle cx="4.5" cy="73.3" r="1.4"/><circle cx="8.9" cy="69.9" r="1.3"/><circle cx="7.3" cy="70.5" r="1.4"/><circle cx="27.8" cy="62.9" r="1.8"/><circle cx="25.9" cy="64.5" r="1.7"/><circle cx="39.1" cy="75.0" r="2.4"/></g></g><use href="#k92" x="-2.6" y="1.3" fill="#0f2208" opacity=".6"/><g fill="#e6e8d6" opacity=".93"><g id="k92"><circle cx="95.4" cy="71.4" r="2.0"/><circle cx="95.6" cy="71.6" r="2.4"/><circle cx="61.0" cy="85.2" r="1.3"/><circle cx="57.6" cy="85.8" r="1.6"/><circle cx="57.8" cy="87.7" r="2.1"/><circle cx="81.4" cy="80.4" r="1.8"/><circle cx="76.2" cy="91.1" r="1.7"/><circle cx="79.1" cy="90.0" r="1.7"/><circle cx="75.3" cy="88.9" r="1.9"/><circle cx="82.0" cy="90.2" r="1.9"/><circle cx="94.3" cy="70.9" r="1.3"/><circle cx="94.3" cy="68.9" r="2.1"/><circle cx="65.3" cy="96.0" r="1.5"/><circle cx="66.6" cy="93.4" r="2.1"/><circle cx="69.1" cy="95.7" r="1.2"/><circle cx="62.6" cy="87.3" r="2.1"/><circle cx="62.2" cy="90.7" r="1.5"/><circle cx="80.3" cy="74.6" r="1.8"/><circle cx="80.3" cy="78.2" r="1.4"/><circle cx="84.3" cy="79.6" r="1.9"/><circle cx="84.1" cy="79.6" r="1.4"/><circle cx="86.8" cy="79.6" r="2.4"/><circle cx="63.2" cy="74.0" r="1.8"/><circle cx="65.0" cy="74.5" r="1.2"/><circle cx="65.1" cy="74.6" r="1.1"/></g></g></g></svg><div class="yr">1995</div><div class="bd" style="border-width:2px"></div></div>
<div class="t" style="left:1023.5px;top:1094.2px;width:101.4px;height:91.8px"><svg viewBox="0 0 100 100" preserveAspectRatio="none" style="position:absolute;left:0;top:0;width:100%;height:100%"><rect width="100" height="100" fill="#476a28"/><ellipse cx="8" cy="50" rx="8" ry="18" fill="#d8eef0" opacity="0.8" filter="url(#hz)"/><use href="#C" fill="#1f66e5" stroke="#1f66e5" stroke-width="1.61" transform="matrix(0.928 0 0 0.811 3.56 4.52)"/><g filter="url(#blur)"><use href="#k93" x="-2.6" y="1.3" fill="#0f2208" opacity=".6"/><g fill="#e6e8d6" opacity=".93"><g id="k93"><circle cx="5.1" cy="69.5" r="1.2"/><circle cx="5.9" cy="66.2" r="1.2"/><circle cx="7.2" cy="55.5" r="1.7"/><circle cx="13.1" cy="48.2" r="2.2"/><circle cx="13.9" cy="33.4" r="2.0"/><circle cx="13.7" cy="33.9" r="1.9"/><circle cx="13.2" cy="71.8" r="2.4"/><circle cx="13.4" cy="70.3" r="2.1"/><circle cx="10.2" cy="72.5" r="1.5"/><circle cx="20.9" cy="47.3" r="1.5"/><circle cx="16.5" cy="67.1" r="1.3"/><circle cx="18.2" cy="66.8" r="1.8"/><circle cx="16.8" cy="67.2" r="2.3"/><circle cx="16.1" cy="68.3" r="2.2"/><circle cx="15.7" cy="65.7" r="1.7"/><circle cx="6.8" cy="36.4" r="2.3"/><circle cx="10.2" cy="36.0" r="2.3"/><circle cx="4.5" cy="72.8" r="1.2"/><circle cx="7.3" cy="73.7" r="1.5"/><circle cx="11.7" cy="31.9" r="1.4"/><circle cx="12.7" cy="28.5" r="1.3"/><circle cx="12.6" cy="30.4" r="2.4"/><circle cx="18.5" cy="26.8" r="1.5"/><circle cx="22.2" cy="27.1" r="2.4"/><circle cx="22.5" cy="22.4" r="2.4"/><circle cx="19.6" cy="62.6" r="1.7"/><circle cx="21.0" cy="61.9" r="2.3"/><circle cx="20.8" cy="63.9" r="2.1"/><circle cx="5.1" cy="62.2" r="2.4"/></g></g><use href="#k94" x="-2.6" y="1.3" fill="#0f2208" opacity=".6"/><g fill="#e6e8d6" opacity=".93"><g id="k94"><circle cx="85.7" cy="81.5" r="1.2"/><circle cx="87.8" cy="84.9" r="1.3"/><circle cx="37.0" cy="74.0" r="1.4"/><circle cx="35.0" cy="71.6" r="2.0"/><circle cx="35.0" cy="73.8" r="1.2"/><circle cx="24.2" cy="74.7" r="2.1"/><circle cx="95.7" cy="71.4" r="1.8"/><circle cx="98.0" cy="72.8" r="2.2"/><circle cx="96.8" cy="72.2" r="1.7"/><circle cx="76.4" cy="83.4" r="2.4"/><circle cx="43.9" cy="71.7" r="2.1"/><circle cx="43.9" cy="69.9" r="1.4"/><circle cx="36.0" cy="71.5" r="1.1"/><circle cx="36.2" cy="70.1" r="2.4"/><circle cx="37.0" cy="75.1" r="1.8"/><circle cx="37.9" cy="73.2" r="1.2"/><circle cx="37.0" cy="76.6" r="1.5"/><circle cx="35.8" cy="86.1" r="1.1"/><circle cx="35.4" cy="83.4" r="1.5"/><circle cx="22.5" cy="90.2" r="2.3"/><circle cx="72.6" cy="95.4" r="1.6"/><circle cx="71.8" cy="96.3" r="2.4"/><circle cx="71.0" cy="94.7" r="1.3"/><circle cx="56.1" cy="93.3" r="1.9"/><circle cx="95.1" cy="88.4" r="1.2"/><circle cx="93.9" cy="84.4" r="1.3"/><circle cx="96.2" cy="87.1" r="1.8"/><circle cx="72.9" cy="75.6" r="1.6"/></g></g></g></svg><div class="bd" style="border-width:2px"></div></div>
<div class="t" style="left:1131.1px;top:1094.2px;width:101.7px;height:91.8px"><svg viewBox="0 0 100 100" preserveAspectRatio="none" style="position:absolute;left:0;top:0;width:100%;height:100%"><rect width="100" height="100" fill="#8acc64"/><ellipse cx="30" cy="20" rx="15" ry="10" fill="#d0a0b8" opacity="0.6" filter="url(#hz)"/><ellipse cx="50" cy="85" rx="20" ry="10" fill="#d0a0b8" opacity="0.5" filter="url(#hz)"/><use href="#C" fill="#1f66e5" stroke="#1f66e5" stroke-width="1.80" transform="matrix(0.835 0 0 0.716 5.98 6.19)"/></svg><div class="bd" style="border-width:2px"></div></div>
<div class="t" style="left:1239.7px;top:1094.2px;width:102.0px;height:91.8px"><svg viewBox="0 0 100 100" preserveAspectRatio="none" style="position:absolute;left:0;top:0;width:100%;height:100%"><rect width="100" height="100" fill="#98986e"/><ellipse cx="40" cy="25" rx="22" ry="12" fill="#5a4a30" opacity="0.6" filter="url(#hz)"/><ellipse cx="90" cy="25" rx="10" ry="18" fill="#e8e4dc" opacity="0.7" filter="url(#hz)"/><ellipse cx="25" cy="85" rx="20" ry="12" fill="#7a9a58" opacity="0.5" filter="url(#hz)"/><use href="#C" fill="#1f66e5" stroke="#1f66e5" stroke-width="2.15" transform="matrix(0.699 0 0 0.601 13.02 8.22)"/></svg><div class="bd" style="border-width:2px"></div></div>
<div class="t" style="left:34.4px;top:1194.0px;width:101.7px;height:91.5px"><svg viewBox="0 0 100 100" preserveAspectRatio="none" style="position:absolute;left:0;top:0;width:100%;height:100%"><rect width="100" height="100" fill="#4a7a26"/><ellipse cx="8" cy="75" rx="8" ry="15" fill="#d0e8f0" opacity="0.7" filter="url(#hz)"/><use href="#C" fill="#1f66e5" stroke="#1f66e5" stroke-width="2.46" transform="matrix(0.619 0 0 0.520 13.77 9.45)"/><g filter="url(#blur)"><use href="#k95" x="-2.6" y="1.3" fill="#0f2208" opacity=".6"/><g fill="#e6e8d6" opacity=".93"><g id="k95"><circle cx="24.5" cy="54.7" r="1.4"/><circle cx="23.2" cy="53.6" r="1.3"/><circle cx="1.9" cy="73.8" r="1.2"/><circle cx="21.3" cy="80.9" r="1.4"/><circle cx="21.1" cy="81.2" r="2.1"/><circle cx="17.8" cy="79.9" r="2.1"/><circle cx="36.9" cy="88.3" r="2.5"/><circle cx="27.7" cy="89.6" r="1.8"/><circle cx="26.1" cy="89.2" r="1.3"/><circle cx="14.9" cy="57.9" r="1.7"/><circle cx="18.2" cy="56.2" r="1.4"/><circle cx="32.7" cy="82.0" r="2.4"/><circle cx="4.2" cy="71.5" r="1.5"/><circle cx="11.3" cy="76.6" r="1.4"/><circle cx="12.3" cy="79.6" r="1.5"/><circle cx="34.1" cy="88.5" r="1.6"/><circle cx="36.2" cy="85.7" r="1.3"/><circle cx="20.6" cy="73.6" r="2.1"/><circle cx="24.1" cy="77.1" r="2.0"/><circle cx="26.3" cy="74.2" r="1.3"/><circle cx="27.3" cy="75.8" r="1.8"/><circle cx="2.4" cy="94.3" r="1.4"/><circle cx="6.0" cy="93.4" r="2.2"/><circle cx="5.1" cy="93.7" r="1.9"/><circle cx="29.0" cy="67.3" r="2.0"/><circle cx="22.8" cy="92.9" r="1.5"/><circle cx="21.2" cy="91.7" r="1.5"/><circle cx="8.4" cy="72.3" r="2.3"/><circle cx="4.5" cy="97.8" r="1.9"/><circle cx="27.6" cy="61.1" r="2.4"/><circle cx="30.6" cy="61.3" r="2.0"/></g></g><use href="#k96" x="-2.6" y="1.3" fill="#0f2208" opacity=".6"/><g fill="#e6e8d6" opacity=".93"><g id="k96"><circle cx="74.0" cy="27.7" r="1.6"/><circle cx="75.0" cy="27.4" r="1.3"/><circle cx="71.8" cy="25.0" r="1.2"/><circle cx="74.2" cy="23.0" r="2.1"/><circle cx="74.7" cy="25.2" r="1.3"/><circle cx="96.6" cy="15.4" r="2.1"/><circle cx="85.7" cy="17.0" r="1.3"/><circle cx="83.8" cy="15.4" r="2.2"/><circle cx="82.4" cy="15.6" r="1.4"/><circle cx="71.6" cy="17.4" r="1.7"/><circle cx="72.2" cy="19.0" r="2.3"/><circle cx="90.8" cy="3.7" r="1.1"/><circle cx="87.7" cy="41.3" r="1.4"/><circle cx="88.8" cy="40.9" r="1.8"/></g></g></g></svg><div class="yr">1996</div><div class="bd" style="border-width:2px"></div></div>
<div class="t" style="left:141.7px;top:1194.0px;width:102.6px;height:91.5px"><svg viewBox="0 0 100 100" preserveAspectRatio="none" style="position:absolute;left:0;top:0;width:100%;height:100%"><rect width="100" height="100" fill="#567028"/><ellipse cx="70" cy="60" rx="15" ry="25" fill="#7a6030" opacity="0.5" filter="url(#hz)"/><use href="#C" fill="#1f66e5" stroke="#1f66e5" stroke-width="2.67" transform="matrix(0.529 0 0 0.520 18.46 9.45)"/><g filter="url(#blur)"><use href="#k97" x="-2.6" y="1.3" fill="#0f2208" opacity=".6"/><g fill="#e6e8d6" opacity=".93"><g id="k97"><circle cx="95.1" cy="66.7" r="1.9"/><circle cx="22.4" cy="67.8" r="1.6"/><circle cx="22.4" cy="67.2" r="1.1"/><circle cx="20.8" cy="64.4" r="2.4"/><circle cx="33.0" cy="97.6" r="1.6"/><circle cx="34.1" cy="79.8" r="2.2"/><circle cx="33.6" cy="82.1" r="1.2"/><circle cx="35.4" cy="83.5" r="1.3"/><circle cx="74.3" cy="94.0" r="1.8"/><circle cx="17.5" cy="68.1" r="1.8"/><circle cx="17.9" cy="69.2" r="1.9"/><circle cx="21.6" cy="66.9" r="2.5"/><circle cx="18.1" cy="75.1" r="2.2"/><circle cx="43.5" cy="67.7" r="1.9"/><circle cx="82.2" cy="66.0" r="1.1"/></g></g></g></svg><div class="bd" style="border-width:2px"></div></div>
<div class="t" style="left:249.9px;top:1194.0px;width:102.7px;height:91.5px"><svg viewBox="0 0 100 100" preserveAspectRatio="none" style="position:absolute;left:0;top:0;width:100%;height:100%"><rect width="100" height="100" fill="#9dd270"/><ellipse cx="50" cy="75" rx="30" ry="20" fill="#90c890" opacity="0.5" filter="url(#hz)"/><use href="#C" fill="#1f66e5" stroke="#1f66e5" stroke-width="2.47" transform="matrix(0.612 0 0 0.520 13.95 9.45)"/></svg><div class="bd" style="border-width:2px"></div></div>
<div class="t" style="left:358.5px;top:1194.0px;width:102.0px;height:91.5px"><svg viewBox="0 0 100 100" preserveAspectRatio="none" style="position:absolute;left:0;top:0;width:100%;height:100%"><rect width="100" height="100" fill="#37601c"/><ellipse cx="30" cy="30" rx="25" ry="8" fill="#dcdcd0" opacity="0.6" filter="url(#hz)"/><ellipse cx="55" cy="60" rx="30" ry="8" fill="#dcdcd0" opacity="0.6" filter="url(#hz)"/><ellipse cx="75" cy="85" rx="20" ry="8" fill="#d8e4e8" opacity="0.6" filter="url(#hz)"/><use href="#C" fill="#1f66e5" stroke="#1f66e5" stroke-width="3.20" transform="matrix(0.406 0 0 0.469 22.12 11.74)"/><g filter="url(#blur)"><use href="#k98" x="-2.6" y="1.3" fill="#0f2208" opacity=".6"/><g fill="#e6e8d6" opacity=".93"><g id="k98"><circle cx="15.6" cy="30.2" r="1.4"/><circle cx="12.0" cy="28.6" r="1.7"/><circle cx="15.3" cy="30.7" r="2.4"/><circle cx="9.9" cy="38.9" r="2.4"/><circle cx="7.1" cy="39.2" r="1.9"/><circle cx="9.0" cy="41.8" r="1.3"/><circle cx="29.1" cy="26.5" r="1.1"/><circle cx="27.0" cy="26.0" r="1.8"/><circle cx="29.9" cy="26.5" r="1.5"/><circle cx="33.8" cy="22.5" r="1.1"/><circle cx="12.9" cy="42.3" r="1.2"/><circle cx="9.1" cy="44.6" r="1.2"/><circle cx="32.1" cy="32.1" r="1.6"/><circle cx="31.8" cy="31.8" r="2.1"/><circle cx="31.3" cy="32.2" r="1.6"/><circle cx="43.7" cy="45.8" r="2.3"/><circle cx="35.3" cy="41.1" r="1.7"/><circle cx="38.6" cy="13.6" r="2.3"/><circle cx="19.3" cy="16.8" r="1.2"/><circle cx="19.4" cy="14.3" r="1.3"/><circle cx="19.2" cy="16.7" r="2.4"/><circle cx="49.5" cy="38.8" r="1.5"/></g></g><use href="#k99" x="-2.6" y="1.3" fill="#0f2208" opacity=".6"/><g fill="#e6e8d6" opacity=".93"><g id="k99"><circle cx="39.2" cy="54.3" r="1.4"/><circle cx="37.4" cy="52.8" r="2.0"/><circle cx="35.2" cy="56.5" r="2.3"/><circle cx="35.0" cy="55.8" r="1.6"/><circle cx="32.9" cy="59.4" r="1.2"/><circle cx="35.3" cy="44.6" r="1.6"/><circle cx="36.2" cy="44.3" r="1.9"/><circle cx="39.6" cy="48.2" r="1.8"/><circle cx="64.6" cy="51.7" r="1.5"/><circle cx="31.7" cy="56.9" r="2.4"/><circle cx="34.4" cy="58.1" r="1.9"/><circle cx="32.8" cy="56.2" r="1.8"/><circle cx="57.5" cy="58.3" r="1.7"/><circle cx="55.5" cy="58.6" r="1.3"/><circle cx="52.8" cy="54.0" r="2.5"/><circle cx="41.6" cy="54.9" r="1.1"/><circle cx="72.1" cy="50.0" r="1.3"/><circle cx="72.3" cy="50.2" r="1.5"/><circle cx="75.7" cy="46.7" r="1.6"/><circle cx="64.6" cy="53.4" r="1.2"/><circle cx="64.9" cy="53.5" r="2.1"/><circle cx="62.1" cy="53.4" r="2.4"/><circle cx="87.4" cy="46.9" r="1.9"/><circle cx="83.7" cy="45.7" r="1.8"/><circle cx="84.0" cy="45.4" r="1.6"/></g></g><use href="#k100" x="-2.6" y="1.3" fill="#0f2208" opacity=".6"/><g fill="#e6e8d6" opacity=".93"><g id="k100"><circle cx="51.9" cy="92.6" r="2.5"/><circle cx="49.3" cy="90.5" r="1.8"/><circle cx="88.8" cy="85.3" r="1.2"/><circle cx="57.9" cy="87.8" r="2.3"/><circle cx="62.3" cy="86.5" r="1.7"/><circle cx="88.6" cy="96.5" r="1.2"/><circle cx="54.1" cy="83.1" r="2.3"/><circle cx="52.6" cy="84.4" r="2.3"/><circle cx="55.3" cy="83.5" r="2.3"/><circle cx="53.4" cy="92.7" r="1.7"/><circle cx="54.2" cy="96.4" r="1.6"/><circle cx="55.8" cy="93.5" r="2.3"/><circle cx="79.1" cy="91.7" r="1.3"/><circle cx="77.2" cy="91.8" r="2.3"/><circle cx="81.7" cy="87.4" r="1.8"/><circle cx="95.8" cy="79.4" r="2.5"/><circle cx="62.3" cy="77.8" r="2.5"/><circle cx="63.3" cy="78.8" r="1.7"/></g></g></g></svg><div class="bd" style="border-width:2px"></div></div>
<div class="t" style="left:474.4px;top:1194.0px;width:101.7px;height:91.5px"><svg viewBox="0 0 100 100" preserveAspectRatio="none" style="position:absolute;left:0;top:0;width:100%;height:100%"><rect width="100" height="100" fill="#a5d870"/><g opacity="0.45" filter="url(#blur)"><use href="#C" fill="#d8c8c8" stroke="#d8c8c8" stroke-width="1.94" transform="matrix(0.720 0 0 0.727 7.96 4.30)"/></g><use href="#C" fill="#1f66e5" stroke="#1f66e5" stroke-width="2.41" transform="matrix(0.640 0 0 0.521 11.92 9.42)"/></svg><div class="yr">1997</div><div class="bd" style="border-width:2px"></div></div>
<div class="t" style="left:582.6px;top:1194.0px;width:101.7px;height:91.5px"><svg viewBox="0 0 100 100" preserveAspectRatio="none" style="position:absolute;left:0;top:0;width:100%;height:100%"><rect width="100" height="100" fill="#4a6a21"/><ellipse cx="60" cy="55" rx="12" ry="12" fill="#d8e4e8" opacity="0.7" filter="url(#hz)"/><use href="#C" fill="#1f66e5" stroke="#1f66e5" stroke-width="2.41" transform="matrix(0.640 0 0 0.521 11.72 9.42)"/><g filter="url(#blur)"><use href="#k101" x="-2.6" y="1.3" fill="#0f2208" opacity=".6"/><g fill="#e6e8d6" opacity=".93"><g id="k101"><circle cx="29.6" cy="54.1" r="2.3"/><circle cx="30.5" cy="53.0" r="2.0"/><circle cx="32.5" cy="53.2" r="1.7"/><circle cx="60.6" cy="60.9" r="1.1"/><circle cx="45.7" cy="73.4" r="2.2"/><circle cx="48.0" cy="73.3" r="1.5"/><circle cx="46.7" cy="75.3" r="1.5"/><circle cx="33.6" cy="61.9" r="1.8"/><circle cx="38.3" cy="77.8" r="2.1"/><circle cx="68.4" cy="42.9" r="1.3"/><circle cx="42.2" cy="77.4" r="1.1"/><circle cx="42.1" cy="77.6" r="2.0"/><circle cx="40.8" cy="77.4" r="2.5"/><circle cx="63.2" cy="63.6" r="1.2"/><circle cx="62.9" cy="66.0" r="2.3"/><circle cx="28.4" cy="89.7" r="1.9"/><circle cx="30.7" cy="91.7" r="2.5"/><circle cx="30.2" cy="47.0" r="2.0"/><circle cx="30.3" cy="44.9" r="2.1"/><circle cx="79.4" cy="80.6" r="1.1"/><circle cx="54.9" cy="42.9" r="2.1"/><circle cx="43.3" cy="85.3" r="2.3"/><circle cx="41.4" cy="85.6" r="2.1"/><circle cx="41.7" cy="89.1" r="2.3"/><circle cx="49.4" cy="81.9" r="1.8"/><circle cx="40.3" cy="64.1" r="2.5"/><circle cx="32.8" cy="50.5" r="1.3"/><circle cx="58.0" cy="54.5" r="1.2"/><circle cx="59.7" cy="56.6" r="1.4"/><circle cx="60.2" cy="53.2" r="1.5"/><circle cx="72.4" cy="65.3" r="2.4"/><circle cx="71.5" cy="61.4" r="1.9"/></g></g></g></svg><div class="bd" style="border-width:2px"></div></div>
<div class="t" style="left:689.9px;top:1194.0px;width:102.7px;height:91.5px"><svg viewBox="0 0 100 100" preserveAspectRatio="none" style="position:absolute;left:0;top:0;width:100%;height:100%"><rect width="100" height="100" fill="#95d076"/><ellipse cx="85" cy="50" rx="12" ry="25" fill="#e0a8c0" opacity="0.6" filter="url(#hz)"/><ellipse cx="20" cy="80" rx="20" ry="15" fill="#c0c0d0" opacity="0.5" filter="url(#hz)"/><use href="#C" fill="#1f66e5" stroke="#1f66e5" stroke-width="2.51" transform="matrix(0.592 0 0 0.521 14.19 9.42)"/></svg><div class="bd" style="border-width:2px"></div></div>
<div class="t" style="left:799.1px;top:1194.0px;width:101.7px;height:91.5px"><svg viewBox="0 0 100 100" preserveAspectRatio="none" style="position:absolute;left:0;top:0;width:100%;height:100%"><rect width="100" height="100" fill="#51b02e"/><use href="#C" fill="#1f66e5" stroke="#1f66e5" stroke-width="1.54" transform="matrix(0.960 0 0 0.853 2.38 1.79)"/></svg><div class="bd" style="border-width:2px"></div></div>
<div class="t" style="left:914.9px;top:1194.0px;width:102.0px;height:91.5px"><svg viewBox="0 0 100 100" preserveAspectRatio="none" style="position:absolute;left:0;top:0;width:100%;height:100%"><rect width="100" height="100" fill="#73c045"/><g opacity="0.45" filter="url(#blur)"><use href="#C" fill="#b09870" stroke="#b09870" stroke-width="1.56" transform="matrix(0.912 0 0 0.882 1.95 1.87)"/></g><use href="#C" fill="#1f66e5" stroke="#1f66e5" stroke-width="1.91" transform="matrix(0.833 0 0 0.637 5.91 7.70)"/></svg><div class="yr">2004</div><div class="bd" style="border-width:2px"></div></div>
<div class="t" style="left:1023.5px;top:1194.0px;width:101.4px;height:91.5px"><svg viewBox="0 0 100 100" preserveAspectRatio="none" style="position:absolute;left:0;top:0;width:100%;height:100%"><rect width="100" height="100" fill="#4c8422"/><ellipse cx="80" cy="80" rx="20" ry="20" fill="#3a6a28" opacity="0.6" filter="url(#hz)"/><g opacity="0.30" filter="url(#blur)"><use href="#C" fill="#6a6a30" stroke="#6a6a30" stroke-width="1.76" transform="matrix(0.784 0 0 0.804 5.60 3.26)"/></g><use href="#C" fill="#1f66e5" stroke="#1f66e5" stroke-width="2.18" transform="matrix(0.704 0 0 0.578 9.55 8.72)"/></svg><div class="bd" style="border-width:2px"></div></div>
<div class="t" style="left:1131.1px;top:1194.0px;width:101.7px;height:91.5px"><svg viewBox="0 0 100 100" preserveAspectRatio="none" style="position:absolute;left:0;top:0;width:100%;height:100%"><rect width="100" height="100" fill="#8ecc6d"/><g opacity="0.52" filter="url(#blur)"><use href="#C" fill="#e0c8d0" stroke="#e0c8d0" stroke-width="1.97" transform="matrix(0.689 0 0 0.729 11.53 4.57)"/></g><use href="#C" fill="#1a3ab0" stroke="#1a3ab0" stroke-width="2.47" transform="matrix(0.610 0 0 0.523 15.49 9.70)"/></svg><div class="bd" style="border-width:2px"></div></div>
<div class="t" style="left:1239.0px;top:1194.0px;width:102.4px;height:91.5px"><svg viewBox="0 0 100 100" preserveAspectRatio="none" style="position:absolute;left:0;top:0;width:100%;height:100%"><rect width="100" height="100" fill="#3a6a1e"/><ellipse cx="10" cy="30" rx="10" ry="15" fill="#d8e8f0" opacity="0.7" filter="url(#hz)"/><use href="#C" fill="#1f66e5" stroke="#1f66e5" stroke-width="1.76" transform="matrix(0.896 0 0 0.692 6.24 6.73)"/><g filter="url(#blur)"><use href="#k102" x="-2.6" y="1.3" fill="#0f2208" opacity=".6"/><g fill="#e6e8d6" opacity=".93"><g id="k102"><circle cx="11.4" cy="41.0" r="1.5"/><circle cx="8.1" cy="43.4" r="1.6"/><circle cx="8.5" cy="42.5" r="2.1"/><circle cx="34.7" cy="36.1" r="2.3"/><circle cx="33.0" cy="35.2" r="1.5"/><circle cx="35.3" cy="32.6" r="1.7"/><circle cx="12.0" cy="31.6" r="1.1"/><circle cx="9.7" cy="31.0" r="1.1"/><circle cx="14.7" cy="11.4" r="1.3"/><circle cx="14.3" cy="12.0" r="1.6"/><circle cx="15.4" cy="11.8" r="1.1"/><circle cx="37.0" cy="36.9" r="1.9"/><circle cx="39.4" cy="38.0" r="1.2"/><circle cx="36.2" cy="33.9" r="2.4"/><circle cx="8.8" cy="8.0" r="2.0"/><circle cx="12.8" cy="7.2" r="2.0"/><circle cx="11.4" cy="7.9" r="2.3"/><circle cx="16.4" cy="20.4" r="2.2"/><circle cx="13.3" cy="19.3" r="1.9"/><circle cx="22.0" cy="11.3" r="2.1"/><circle cx="36.7" cy="37.9" r="1.4"/><circle cx="13.0" cy="40.5" r="1.2"/><circle cx="9.8" cy="41.6" r="1.6"/><circle cx="38.9" cy="31.5" r="1.1"/><circle cx="25.5" cy="38.3" r="2.1"/><circle cx="35.8" cy="42.9" r="2.4"/><circle cx="33.5" cy="31.4" r="2.5"/></g></g><use href="#k103" x="-2.6" y="1.3" fill="#0f2208" opacity=".6"/><g fill="#e6e8d6" opacity=".93"><g id="k103"><circle cx="78.4" cy="25.1" r="1.2"/><circle cx="74.1" cy="25.6" r="2.2"/><circle cx="79.6" cy="18.1" r="2.2"/><circle cx="85.3" cy="27.8" r="2.4"/><circle cx="87.1" cy="15.9" r="1.3"/><circle cx="73.3" cy="8.8" r="2.5"/><circle cx="62.5" cy="25.4" r="2.3"/><circle cx="62.1" cy="25.8" r="2.3"/><circle cx="58.8" cy="25.9" r="1.5"/><circle cx="77.6" cy="16.2" r="1.9"/><circle cx="76.0" cy="15.3" r="2.2"/><circle cx="79.0" cy="18.1" r="1.9"/><circle cx="67.3" cy="24.2" r="2.2"/><circle cx="64.6" cy="22.6" r="1.9"/><circle cx="74.2" cy="15.2" r="2.2"/><circle cx="89.7" cy="26.3" r="1.6"/><circle cx="89.1" cy="22.9" r="1.9"/><circle cx="61.9" cy="24.9" r="2.3"/><circle cx="57.9" cy="28.1" r="2.1"/><circle cx="58.9" cy="27.9" r="1.5"/></g></g></g></svg><div class="bd" style="border-width:2px"></div></div>
<div class="t" style="left:35.0px;top:1293.3px;width:101.7px;height:91.9px"><svg viewBox="0 0 100 100" preserveAspectRatio="none" style="position:absolute;left:0;top:0;width:100%;height:100%"><rect width="100" height="100" fill="#3a6a1e"/><use href="#C" fill="#1f66e5" stroke="#1f66e5" stroke-width="1.42" transform="matrix(1.023 0 0 0.954 -1.27 2.01)"/><g filter="url(#blur)"><use href="#k104" x="-2.6" y="1.3" fill="#0f2208" opacity=".6"/><g fill="#e6e8d6" opacity=".93"><g id="k104"><circle cx="7.3" cy="99.5" r="1.8"/><circle cx="6.2" cy="100.3" r="1.6"/><circle cx="11.3" cy="69.9" r="2.3"/><circle cx="27.4" cy="39.4" r="1.8"/><circle cx="26.2" cy="40.5" r="2.0"/><circle cx="20.1" cy="66.1" r="1.9"/><circle cx="22.7" cy="70.6" r="1.2"/><circle cx="24.2" cy="67.2" r="1.6"/><circle cx="13.2" cy="28.8" r="1.6"/><circle cx="10.5" cy="26.9" r="2.0"/><circle cx="10.6" cy="29.6" r="1.2"/><circle cx="7.1" cy="61.5" r="1.3"/><circle cx="8.4" cy="61.6" r="1.8"/><circle cx="11.0" cy="78.4" r="1.4"/><circle cx="14.8" cy="80.1" r="1.8"/><circle cx="13.9" cy="77.6" r="2.4"/><circle cx="22.1" cy="64.2" r="1.9"/><circle cx="21.7" cy="60.8" r="1.6"/><circle cx="10.5" cy="90.5" r="2.2"/><circle cx="3.4" cy="94.7" r="1.4"/><circle cx="4.3" cy="96.6" r="1.7"/><circle cx="6.3" cy="92.2" r="2.0"/><circle cx="8.8" cy="45.4" r="1.9"/><circle cx="7.5" cy="46.3" r="1.3"/><circle cx="9.2" cy="43.5" r="1.8"/><circle cx="22.7" cy="78.7" r="1.4"/><circle cx="7.4" cy="11.4" r="1.7"/><circle cx="8.6" cy="10.9" r="1.4"/><circle cx="7.3" cy="10.4" r="2.3"/></g></g><use href="#k105" x="-2.6" y="1.3" fill="#0f2208" opacity=".6"/><g fill="#e6e8d6" opacity=".93"><g id="k105"><circle cx="62.6" cy="82.5" r="2.3"/><circle cx="63.4" cy="81.1" r="1.4"/><circle cx="60.2" cy="80.4" r="1.8"/><circle cx="72.2" cy="53.2" r="2.4"/><circle cx="74.4" cy="50.6" r="2.4"/><circle cx="72.0" cy="50.7" r="1.2"/><circle cx="93.6" cy="95.6" r="1.9"/><circle cx="93.6" cy="92.7" r="1.5"/><circle cx="79.0" cy="98.1" r="1.9"/><circle cx="82.5" cy="95.1" r="1.4"/><circle cx="71.7" cy="40.6" r="1.3"/><circle cx="63.2" cy="95.7" r="1.5"/><circle cx="73.9" cy="61.6" r="1.4"/><circle cx="74.0" cy="58.8" r="1.6"/><circle cx="71.8" cy="59.0" r="1.2"/><circle cx="67.6" cy="72.4" r="2.3"/><circle cx="67.7" cy="72.1" r="1.5"/><circle cx="69.5" cy="68.3" r="1.8"/><circle cx="82.4" cy="63.4" r="1.5"/><circle cx="80.0" cy="63.8" r="1.4"/><circle cx="63.1" cy="93.0" r="2.4"/><circle cx="61.0" cy="91.9" r="2.2"/><circle cx="63.0" cy="91.0" r="1.2"/><circle cx="80.0" cy="70.2" r="1.7"/><circle cx="85.3" cy="80.3" r="1.4"/><circle cx="86.1" cy="80.9" r="2.1"/><circle cx="62.9" cy="57.2" r="1.9"/><circle cx="62.7" cy="59.2" r="1.1"/><circle cx="61.8" cy="60.7" r="1.6"/><circle cx="92.2" cy="90.5" r="2.3"/></g></g></g><ellipse cx="30" cy="45" rx="8" ry="8" fill="#d8e0e0" opacity="0.6" filter="url(#hz)"/></svg><div class="yr">2005</div><div class="bd" style="border-width:2px"></div></div>
<div class="t" style="left:143.3px;top:1293.3px;width:101.7px;height:91.9px"><svg viewBox="0 0 100 100" preserveAspectRatio="none" style="position:absolute;left:0;top:0;width:100%;height:100%"><rect width="100" height="100" fill="#54b02e"/><use href="#C" fill="#1f66e5" stroke="#1f66e5" stroke-width="1.32" transform="matrix(1.062 0 0 1.058 -3.75 -1.63)"/><g filter="url(#blur)"><use href="#k106" x="-2.6" y="1.3" fill="#0f2208" opacity=".6"/><g fill="#e6e8d6" opacity=".93"><g id="k106"><circle cx="54.1" cy="82.3" r="2.1"/><circle cx="53.1" cy="84.4" r="1.1"/><circle cx="53.3" cy="82.6" r="2.5"/><circle cx="72.4" cy="85.2" r="1.5"/><circle cx="68.9" cy="83.6" r="1.8"/><circle cx="71.2" cy="85.1" r="2.3"/><circle cx="63.8" cy="96.7" r="2.2"/><circle cx="60.8" cy="93.8" r="2.5"/><circle cx="44.9" cy="93.5" r="2.3"/><circle cx="45.4" cy="90.7" r="1.9"/><circle cx="45.8" cy="92.7" r="2.3"/><circle cx="69.3" cy="90.1" r="1.6"/><circle cx="69.7" cy="90.6" r="2.1"/></g></g></g></svg><div class="bd" style="border-width:2px"></div></div>
<div class="t" style="left:250.9px;top:1293.3px;width:102.7px;height:91.9px"><svg viewBox="0 0 100 100" preserveAspectRatio="none" style="position:absolute;left:0;top:0;width:100%;height:100%"><rect width="100" height="100" fill="#75cb50"/><g opacity="0.45" filter="url(#blur)"><use href="#C" fill="#d0b8c0" stroke="#d0b8c0" stroke-width="1.71" transform="matrix(0.862 0 0 0.773 2.26 3.70)"/></g><use href="#C" fill="#1f66e5" stroke="#1f66e5" stroke-width="2.09" transform="matrix(0.782 0 0 0.555 6.21 9.03)"/></svg><div class="bd" style="border-width:2px"></div></div>
<div class="t" style="left:359.1px;top:1293.3px;width:101.7px;height:91.9px"><svg viewBox="0 0 100 100" preserveAspectRatio="none" style="position:absolute;left:0;top:0;width:100%;height:100%"><rect width="100" height="100" fill="#4a9a28"/><use href="#C" fill="#1f66e5" stroke="#1f66e5" stroke-width="1.93" transform="matrix(0.831 0 0 0.617 5.42 7.95)"/></svg><div class="bd" style="border-width:2px"></div></div>
<div class="t" style="left:474.4px;top:1293.3px;width:101.7px;height:91.9px"><svg viewBox="0 0 100 100" preserveAspectRatio="none" style="position:absolute;left:0;top:0;width:100%;height:100%"><rect width="100" height="100" fill="#3a6a1e"/><use href="#C" fill="#1f66e5" stroke="#1f66e5" stroke-width="1.43" transform="matrix(1.024 0 0 0.929 -0.69 2.64)"/><g filter="url(#blur)"><use href="#k107" x="-2.6" y="1.3" fill="#0f2208" opacity=".6"/><g fill="#e6e8d6" opacity=".93"><g id="k107"><circle cx="11.9" cy="21.0" r="1.2"/><circle cx="9.3" cy="18.3" r="1.1"/><circle cx="18.9" cy="36.6" r="2.3"/><circle cx="16.2" cy="36.4" r="1.5"/><circle cx="22.9" cy="8.8" r="1.4"/><circle cx="27.1" cy="94.2" r="1.7"/><circle cx="29.9" cy="90.6" r="1.8"/><circle cx="19.0" cy="91.6" r="1.2"/><circle cx="18.6" cy="91.2" r="2.0"/><circle cx="13.2" cy="26.4" r="2.1"/><circle cx="10.3" cy="26.0" r="1.3"/><circle cx="11.1" cy="23.6" r="2.4"/><circle cx="26.2" cy="96.8" r="2.0"/><circle cx="24.1" cy="95.1" r="1.2"/><circle cx="24.9" cy="94.7" r="1.3"/><circle cx="19.9" cy="52.3" r="1.8"/><circle cx="2.8" cy="37.1" r="1.3"/><circle cx="17.1" cy="48.2" r="1.5"/><circle cx="17.2" cy="49.3" r="1.8"/><circle cx="21.4" cy="80.3" r="1.9"/><circle cx="20.4" cy="78.6" r="2.4"/><circle cx="10.9" cy="11.7" r="1.7"/><circle cx="18.6" cy="41.5" r="2.1"/><circle cx="22.7" cy="42.2" r="1.4"/><circle cx="18.7" cy="43.2" r="1.2"/><circle cx="28.9" cy="12.7" r="1.7"/><circle cx="30.8" cy="14.6" r="2.2"/></g></g><use href="#k108" x="-2.6" y="1.3" fill="#0f2208" opacity=".6"/><g fill="#e6e8d6" opacity=".93"><g id="k108"><circle cx="66.2" cy="89.2" r="1.4"/><circle cx="80.3" cy="50.9" r="2.0"/><circle cx="80.3" cy="50.6" r="1.4"/><circle cx="79.1" cy="50.9" r="1.2"/><circle cx="67.9" cy="88.4" r="2.4"/><circle cx="69.8" cy="86.7" r="1.7"/><circle cx="81.7" cy="95.6" r="2.3"/><circle cx="83.2" cy="98.9" r="1.5"/><circle cx="80.8" cy="80.7" r="2.1"/><circle cx="84.6" cy="64.0" r="2.3"/><circle cx="83.0" cy="63.5" r="2.3"/><circle cx="85.2" cy="64.5" r="1.4"/><circle cx="92.2" cy="86.6" r="2.4"/><circle cx="89.3" cy="87.6" r="2.1"/><circle cx="69.9" cy="95.7" r="2.1"/><circle cx="72.5" cy="95.6" r="1.8"/><circle cx="70.9" cy="65.0" r="1.5"/><circle cx="72.0" cy="79.0" r="1.8"/><circle cx="75.0" cy="80.8" r="1.3"/><circle cx="62.5" cy="87.4" r="2.4"/><circle cx="70.5" cy="89.0" r="1.4"/><circle cx="72.0" cy="90.8" r="2.1"/><circle cx="90.2" cy="90.9" r="1.7"/><circle cx="65.7" cy="57.0" r="1.8"/><circle cx="65.5" cy="57.8" r="2.3"/></g></g></g></svg><div class="yr">2006</div><div class="bd" style="border-width:2px"></div></div>
<div class="t" style="left:582.6px;top:1293.3px;width:101.7px;height:91.9px"><svg viewBox="0 0 100 100" preserveAspectRatio="none" style="position:absolute;left:0;top:0;width:100%;height:100%"><rect width="100" height="100" fill="#417522"/><use href="#C" fill="#1f66e5" stroke="#1f66e5" stroke-width="1.48" transform="matrix(0.983 0 0 0.905 -0.49 1.07)"/><g filter="url(#blur)"><use href="#k109" x="-2.6" y="1.3" fill="#0f2208" opacity=".6"/><g fill="#e6e8d6" opacity=".93"><g id="k109"><circle cx="40.7" cy="67.0" r="1.5"/><circle cx="25.4" cy="89.2" r="2.3"/><circle cx="56.3" cy="72.3" r="1.5"/><circle cx="45.9" cy="90.5" r="2.0"/><circle cx="43.0" cy="89.2" r="2.5"/><circle cx="44.2" cy="91.0" r="1.9"/><circle cx="96.4" cy="95.8" r="1.1"/><circle cx="23.3" cy="82.8" r="2.4"/><circle cx="22.0" cy="81.3" r="1.8"/><circle cx="45.8" cy="94.3" r="1.6"/><circle cx="41.3" cy="90.8" r="2.0"/><circle cx="41.0" cy="89.3" r="1.3"/><circle cx="41.4" cy="89.9" r="1.8"/><circle cx="47.2" cy="96.4" r="2.4"/><circle cx="47.7" cy="92.8" r="2.3"/><circle cx="6.9" cy="73.4" r="1.3"/><circle cx="7.8" cy="73.7" r="2.5"/><circle cx="8.4" cy="71.7" r="1.9"/><circle cx="97.5" cy="80.4" r="1.2"/><circle cx="91.9" cy="71.5" r="1.6"/><circle cx="92.6" cy="75.4" r="2.1"/><circle cx="82.1" cy="85.0" r="2.4"/><circle cx="85.0" cy="85.8" r="1.4"/><circle cx="80.9" cy="89.2" r="1.9"/><circle cx="14.6" cy="85.2" r="2.1"/><circle cx="10.4" cy="88.4" r="1.8"/></g></g><use href="#k110" x="-2.6" y="1.3" fill="#0f2208" opacity=".6"/><g fill="#e6e8d6" opacity=".93"><g id="k110"><circle cx="87.9" cy="24.2" r="1.3"/><circle cx="77.5" cy="31.9" r="1.3"/><circle cx="89.4" cy="41.1" r="1.6"/><circle cx="88.4" cy="37.4" r="2.4"/><circle cx="87.6" cy="39.1" r="2.2"/><circle cx="94.5" cy="10.2" r="1.5"/><circle cx="93.1" cy="11.7" r="1.3"/><circle cx="88.1" cy="37.1" r="1.3"/></g></g></g></svg><div class="bd" style="border-width:2px"></div></div>
<div class="t" style="left:689.9px;top:1293.3px;width:102.7px;height:91.9px"><svg viewBox="0 0 100 100" preserveAspectRatio="none" style="position:absolute;left:0;top:0;width:100%;height:100%"><rect width="100" height="100" fill="#73d050"/><g opacity="0.45" filter="url(#blur)"><use href="#C" fill="#d0c0b8" stroke="#d0c0b8" stroke-width="1.31" transform="matrix(0.988 0 0 1.154 0.14 -4.80)"/></g><use href="#C" fill="#1f66e5" stroke="#1f66e5" stroke-width="1.60" transform="matrix(0.908 0 0 0.837 4.10 2.26)"/></svg><div class="bd" style="border-width:2px"></div></div>
<div class="t" style="left:797.8px;top:1293.3px;width:102.1px;height:91.9px"><svg viewBox="0 0 100 100" preserveAspectRatio="none" style="position:absolute;left:0;top:0;width:100%;height:100%"><rect width="100" height="100" fill="#477a26"/><use href="#C" fill="#1f66e5" stroke="#1f66e5" stroke-width="2.33" transform="matrix(0.681 0 0 0.521 10.12 9.82)"/><g filter="url(#blur)"><use href="#k111" x="-2.6" y="1.3" fill="#0f2208" opacity=".6"/><g fill="#e6e8d6" opacity=".93"><g id="k111"><circle cx="24.5" cy="29.5" r="2.2"/><circle cx="25.9" cy="30.8" r="2.1"/><circle cx="36.6" cy="71.6" r="2.1"/><circle cx="34.2" cy="73.3" r="1.3"/><circle cx="5.0" cy="51.4" r="1.6"/><circle cx="4.8" cy="49.4" r="1.8"/><circle cx="6.8" cy="51.5" r="2.0"/><circle cx="26.6" cy="6.1" r="1.2"/><circle cx="25.2" cy="5.6" r="2.1"/><circle cx="11.0" cy="54.5" r="1.7"/><circle cx="11.7" cy="56.7" r="2.3"/><circle cx="7.9" cy="55.8" r="1.6"/><circle cx="37.9" cy="89.0" r="2.4"/><circle cx="38.4" cy="87.8" r="2.0"/><circle cx="39.6" cy="29.3" r="1.5"/><circle cx="35.7" cy="29.8" r="2.2"/><circle cx="16.8" cy="35.2" r="1.2"/><circle cx="20.8" cy="8.8" r="1.2"/><circle cx="22.1" cy="7.4" r="1.8"/><circle cx="32.4" cy="36.9" r="2.3"/><circle cx="19.7" cy="95.1" r="1.8"/><circle cx="21.7" cy="93.7" r="2.3"/><circle cx="24.9" cy="27.2" r="1.6"/><circle cx="26.4" cy="27.1" r="2.0"/><circle cx="32.0" cy="34.5" r="1.9"/><circle cx="28.0" cy="33.6" r="1.8"/><circle cx="33.6" cy="85.3" r="1.6"/><circle cx="30.6" cy="88.5" r="2.3"/><circle cx="31.0" cy="85.6" r="1.8"/></g></g><use href="#k112" x="-2.6" y="1.3" fill="#0f2208" opacity=".6"/><g fill="#e6e8d6" opacity=".93"><g id="k112"><circle cx="76.7" cy="76.2" r="2.1"/><circle cx="75.7" cy="74.9" r="2.3"/><circle cx="68.6" cy="98.4" r="2.4"/><circle cx="55.9" cy="79.8" r="2.5"/><circle cx="54.8" cy="82.7" r="2.1"/><circle cx="56.3" cy="79.5" r="2.2"/><circle cx="88.6" cy="64.5" r="2.4"/><circle cx="91.6" cy="63.7" r="1.7"/><circle cx="53.4" cy="61.2" r="1.2"/><circle cx="52.7" cy="58.3" r="1.6"/><circle cx="50.8" cy="57.5" r="2.0"/><circle cx="61.9" cy="83.7" r="1.6"/><circle cx="63.5" cy="80.6" r="1.7"/><circle cx="64.1" cy="83.8" r="2.5"/><circle cx="44.2" cy="65.0" r="1.9"/><circle cx="63.9" cy="74.2" r="1.3"/><circle cx="63.1" cy="72.9" r="1.7"/><circle cx="46.0" cy="76.2" r="1.2"/><circle cx="42.4" cy="76.3" r="1.8"/><circle cx="41.5" cy="76.1" r="1.2"/><circle cx="42.0" cy="64.3" r="2.4"/><circle cx="44.2" cy="66.4" r="1.3"/><circle cx="40.1" cy="63.2" r="1.4"/><circle cx="56.4" cy="62.8" r="2.0"/><circle cx="54.8" cy="83.4" r="1.4"/><circle cx="57.1" cy="80.0" r="1.6"/><circle cx="64.0" cy="90.0" r="2.1"/><circle cx="71.0" cy="84.5" r="1.9"/></g></g></g></svg><div class="bd" style="border-width:2px"></div></div>
<div class="t" style="left:914.9px;top:1293.3px;width:102.0px;height:91.9px"><svg viewBox="0 0 100 100" preserveAspectRatio="none" style="position:absolute;left:0;top:0;width:100%;height:100%"><rect width="100" height="100" fill="#91d067"/><ellipse cx="10" cy="50" rx="10" ry="30" fill="#c0e0d0" opacity="0.6" filter="url(#hz)"/><g opacity="0.45" filter="url(#blur)"><use href="#C" fill="#d8c0c8" stroke="#d8c0c8" stroke-width="1.42" transform="matrix(0.980 0 0 0.996 1.14 0.97)"/></g><use href="#C" fill="#1f66e5" stroke="#1f66e5" stroke-width="1.73" transform="matrix(0.900 0 0 0.721 5.10 7.31)"/></svg><div class="yr">2007</div><div class="bd" style="border-width:2px"></div></div>
<div class="t" style="left:1023.5px;top:1293.3px;width:101.4px;height:91.9px"><svg viewBox="0 0 100 100" preserveAspectRatio="none" style="position:absolute;left:0;top:0;width:100%;height:100%"><rect width="100" height="100" fill="#80c850"/><g opacity="0.45" filter="url(#blur)"><use href="#C" fill="#d0c0b0" stroke="#d0c0b0" stroke-width="1.36" transform="matrix(0.987 0 0 1.079 -0.14 -2.49)"/></g><use href="#C" fill="#1f66e5" stroke="#1f66e5" stroke-width="1.66" transform="matrix(0.907 0 0 0.782 3.82 4.23)"/></svg><div class="bd" style="border-width:2px"></div></div>
<div class="t" style="left:1131.1px;top:1293.3px;width:101.7px;height:91.9px"><svg viewBox="0 0 100 100" preserveAspectRatio="none" style="position:absolute;left:0;top:0;width:100%;height:100%"><rect width="100" height="100" fill="#3a6a1e"/><ellipse cx="50" cy="80" rx="30" ry="15" fill="#d8dcd8" opacity="0.6" filter="url(#hz)"/><ellipse cx="15" cy="25" rx="12" ry="15" fill="#d8dcd8" opacity="0.5" filter="url(#hz)"/><use href="#C" fill="#1f66e5" stroke="#1f66e5" stroke-width="2.49" transform="matrix(0.632 0 0 0.491 11.81 13.36)"/><g filter="url(#blur)"><use href="#k113" x="-2.6" y="1.3" fill="#0f2208" opacity=".6"/><g fill="#e6e8d6" opacity=".93"><g id="k113"><circle cx="32.8" cy="40.3" r="1.2"/><circle cx="58.3" cy="38.4" r="1.8"/><circle cx="62.9" cy="37.8" r="2.3"/><circle cx="75.5" cy="7.1" r="1.2"/><circle cx="76.7" cy="8.6" r="1.5"/><circle cx="44.1" cy="48.5" r="1.8"/><circle cx="46.3" cy="48.5" r="2.4"/><circle cx="44.6" cy="46.0" r="2.2"/><circle cx="41.5" cy="26.2" r="1.8"/><circle cx="41.8" cy="27.4" r="1.7"/><circle cx="68.1" cy="42.7" r="1.9"/><circle cx="81.3" cy="22.8" r="1.3"/><circle cx="29.5" cy="23.8" r="1.8"/><circle cx="24.9" cy="7.7" r="1.3"/><circle cx="23.6" cy="6.3" r="1.3"/><circle cx="50.8" cy="51.7" r="1.3"/><circle cx="52.0" cy="47.3" r="1.3"/><circle cx="32.1" cy="13.5" r="1.1"/><circle cx="52.5" cy="41.5" r="1.7"/><circle cx="53.4" cy="42.2" r="1.5"/><circle cx="52.0" cy="40.9" r="1.5"/><circle cx="39.1" cy="42.8" r="2.2"/><circle cx="39.5" cy="42.8" r="1.8"/><circle cx="36.1" cy="43.2" r="2.0"/><circle cx="59.4" cy="18.5" r="2.2"/><circle cx="62.0" cy="17.4" r="2.3"/><circle cx="27.4" cy="4.1" r="1.6"/><circle cx="27.3" cy="5.4" r="2.0"/><circle cx="48.2" cy="40.2" r="2.1"/><circle cx="39.1" cy="48.7" r="1.5"/><circle cx="40.9" cy="50.9" r="1.3"/><circle cx="53.1" cy="34.3" r="2.4"/><circle cx="56.8" cy="33.9" r="1.3"/><circle cx="24.9" cy="9.1" r="1.4"/><circle cx="26.0" cy="10.9" r="1.2"/><circle cx="22.5" cy="12.8" r="1.2"/><circle cx="7.1" cy="42.9" r="2.4"/><circle cx="8.0" cy="43.3" r="2.1"/><circle cx="7.6" cy="43.3" r="1.6"/><circle cx="27.2" cy="15.4" r="1.9"/><circle cx="30.4" cy="16.1" r="1.8"/><circle cx="29.5" cy="16.3" r="1.9"/><circle cx="72.5" cy="11.2" r="2.4"/></g></g><use href="#k114" x="-2.6" y="1.3" fill="#0f2208" opacity=".6"/><g fill="#e6e8d6" opacity=".93"><g id="k114"><circle cx="21.2" cy="89.6" r="2.0"/><circle cx="41.1" cy="94.4" r="2.4"/><circle cx="41.0" cy="95.2" r="2.4"/><circle cx="60.9" cy="77.3" r="1.1"/><circle cx="51.1" cy="79.9" r="2.1"/><circle cx="50.8" cy="78.5" r="2.0"/><circle cx="50.7" cy="78.1" r="1.8"/><circle cx="47.8" cy="67.8" r="2.3"/><circle cx="45.3" cy="65.6" r="1.1"/><circle cx="45.4" cy="65.1" r="2.2"/><circle cx="77.1" cy="74.5" r="1.3"/><circle cx="76.4" cy="74.5" r="2.2"/><circle cx="78.9" cy="73.7" r="1.1"/><circle cx="47.8" cy="73.1" r="1.2"/><circle cx="19.9" cy="58.2" r="1.2"/><circle cx="17.7" cy="94.3" r="1.5"/><circle cx="14.4" cy="92.1" r="1.2"/><circle cx="8.8" cy="61.4" r="1.9"/><circle cx="36.0" cy="70.8" r="2.4"/><circle cx="57.3" cy="95.7" r="2.4"/><circle cx="78.1" cy="82.8" r="1.8"/><circle cx="78.0" cy="83.5" r="1.8"/><circle cx="78.0" cy="80.4" r="2.4"/><circle cx="93.0" cy="87.0" r="1.3"/><circle cx="91.9" cy="85.7" r="2.3"/><circle cx="93.0" cy="88.7" r="2.0"/><circle cx="31.2" cy="97.0" r="1.2"/><circle cx="61.5" cy="65.1" r="2.1"/><circle cx="45.6" cy="90.5" r="1.6"/><circle cx="42.8" cy="90.7" r="1.1"/><circle cx="77.3" cy="73.0" r="2.5"/><circle cx="24.6" cy="80.1" r="2.3"/><circle cx="73.6" cy="89.5" r="1.5"/><circle cx="73.1" cy="90.1" r="1.4"/><circle cx="30.5" cy="72.4" r="1.7"/><circle cx="71.1" cy="63.3" r="2.3"/><circle cx="71.6" cy="62.8" r="1.5"/></g></g></g></svg><div class="bd" style="border-width:2px"></div></div>
<div class="t" style="left:1239.0px;top:1293.3px;width:102.4px;height:91.9px"><svg viewBox="0 0 100 100" preserveAspectRatio="none" style="position:absolute;left:0;top:0;width:100%;height:100%"><rect width="100" height="100" fill="#477026"/><ellipse cx="85" cy="25" rx="10" ry="12" fill="#e0ecf0" opacity="0.85" filter="url(#hz)"/><use href="#C" fill="#1f66e5" stroke="#1f66e5" stroke-width="2.48" transform="matrix(0.607 0 0 0.521 13.02 10.82)"/><g filter="url(#blur)"><use href="#k115" x="-2.6" y="1.3" fill="#0f2208" opacity=".6"/><g fill="#e6e8d6" opacity=".93"><g id="k115"><circle cx="14.3" cy="27.4" r="1.2"/><circle cx="28.0" cy="40.3" r="2.2"/><circle cx="23.3" cy="89.3" r="2.4"/><circle cx="23.6" cy="89.9" r="1.1"/><circle cx="6.4" cy="87.0" r="2.4"/><circle cx="27.0" cy="91.7" r="2.0"/><circle cx="29.1" cy="91.8" r="2.3"/><circle cx="28.5" cy="93.2" r="1.8"/><circle cx="33.6" cy="26.3" r="1.9"/><circle cx="35.3" cy="24.2" r="1.5"/><circle cx="24.1" cy="81.6" r="1.2"/><circle cx="25.7" cy="63.4" r="1.4"/><circle cx="26.0" cy="61.3" r="1.1"/><circle cx="16.0" cy="47.6" r="2.4"/><circle cx="14.4" cy="44.9" r="1.9"/><circle cx="14.3" cy="44.9" r="2.5"/><circle cx="32.2" cy="82.1" r="1.9"/><circle cx="9.8" cy="26.1" r="1.6"/><circle cx="9.2" cy="30.0" r="2.1"/><circle cx="6.6" cy="26.9" r="1.9"/><circle cx="34.6" cy="31.6" r="1.4"/><circle cx="5.2" cy="35.2" r="1.3"/><circle cx="3.5" cy="33.2" r="1.3"/><circle cx="5.3" cy="35.1" r="1.5"/><circle cx="20.8" cy="22.1" r="1.3"/><circle cx="20.6" cy="23.4" r="2.0"/></g></g><use href="#k116" x="-2.6" y="1.3" fill="#0f2208" opacity=".6"/><g fill="#e6e8d6" opacity=".93"><g id="k116"><circle cx="97.5" cy="15.8" r="2.2"/><circle cx="61.2" cy="36.7" r="2.1"/><circle cx="65.4" cy="35.2" r="2.2"/><circle cx="63.2" cy="36.3" r="2.4"/><circle cx="66.0" cy="27.8" r="1.9"/><circle cx="68.1" cy="26.6" r="1.5"/><circle cx="77.5" cy="34.4" r="1.1"/><circle cx="73.9" cy="36.5" r="2.2"/><circle cx="75.0" cy="38.4" r="2.4"/><circle cx="69.1" cy="35.5" r="1.3"/><circle cx="66.1" cy="33.6" r="1.1"/><circle cx="95.5" cy="11.9" r="2.4"/><circle cx="77.8" cy="38.5" r="1.5"/><circle cx="75.5" cy="38.1" r="1.4"/><circle cx="76.1" cy="22.2" r="2.0"/><circle cx="87.7" cy="16.5" r="2.4"/><circle cx="90.6" cy="17.2" r="1.8"/></g></g></g></svg><div class="bd" style="border-width:2px"></div></div>
<div class="t" style="left:35.0px;top:1393.0px;width:101.7px;height:91.5px"><svg viewBox="0 0 100 100" preserveAspectRatio="none" style="position:absolute;left:0;top:0;width:100%;height:100%"><rect width="100" height="100" fill="#477a29"/><ellipse cx="85" cy="50" rx="10" ry="12" fill="#e0e8e8" opacity="0.7" filter="url(#hz)"/><use href="#C" fill="#1f66e5" stroke="#1f66e5" stroke-width="1.66" transform="matrix(0.943 0 0 0.741 2.69 6.46)"/><g filter="url(#blur)"><use href="#k117" x="-2.6" y="1.3" fill="#0f2208" opacity=".6"/><g fill="#e6e8d6" opacity=".93"><g id="k117"><circle cx="9.5" cy="39.2" r="2.4"/><circle cx="11.0" cy="37.1" r="2.0"/><circle cx="23.6" cy="32.3" r="2.3"/><circle cx="23.4" cy="33.5" r="2.5"/><circle cx="26.4" cy="33.1" r="1.2"/><circle cx="12.0" cy="11.8" r="1.6"/><circle cx="13.1" cy="12.0" r="1.3"/><circle cx="25.9" cy="6.8" r="1.6"/><circle cx="25.2" cy="9.3" r="1.7"/><circle cx="9.6" cy="7.3" r="2.5"/><circle cx="11.4" cy="9.1" r="2.1"/><circle cx="7.0" cy="9.0" r="1.9"/><circle cx="9.7" cy="24.8" r="1.7"/><circle cx="12.2" cy="25.2" r="1.8"/><circle cx="11.3" cy="25.8" r="1.9"/><circle cx="20.2" cy="19.9" r="2.2"/><circle cx="21.1" cy="22.8" r="1.7"/><circle cx="16.5" cy="9.7" r="1.7"/><circle cx="17.6" cy="13.8" r="1.6"/><circle cx="6.8" cy="22.2" r="2.5"/><circle cx="10.6" cy="21.8" r="1.5"/><circle cx="4.4" cy="21.8" r="2.4"/><circle cx="5.1" cy="24.4" r="1.7"/><circle cx="3.7" cy="24.2" r="1.4"/><circle cx="22.7" cy="17.2" r="2.0"/><circle cx="4.5" cy="36.8" r="2.4"/><circle cx="4.2" cy="39.0" r="1.2"/><circle cx="26.9" cy="8.7" r="1.2"/><circle cx="27.9" cy="9.2" r="2.0"/><circle cx="11.3" cy="4.8" r="1.8"/><circle cx="11.8" cy="5.9" r="1.9"/><circle cx="11.9" cy="6.1" r="2.5"/></g></g><use href="#k118" x="-2.6" y="1.3" fill="#0f2208" opacity=".6"/><g fill="#e6e8d6" opacity=".93"><g id="k118"><circle cx="55.1" cy="78.5" r="1.1"/><circle cx="57.1" cy="78.5" r="1.1"/><circle cx="32.3" cy="88.5" r="1.6"/><circle cx="33.5" cy="91.0" r="1.6"/><circle cx="61.9" cy="64.2" r="2.3"/><circle cx="64.2" cy="64.1" r="1.2"/><circle cx="77.9" cy="74.4" r="2.0"/><circle cx="75.9" cy="76.0" r="2.2"/><circle cx="40.9" cy="88.9" r="1.4"/><circle cx="42.2" cy="86.9" r="2.3"/><circle cx="41.0" cy="91.0" r="2.0"/><circle cx="81.2" cy="53.1" r="2.0"/><circle cx="83.2" cy="51.3" r="1.6"/><circle cx="38.4" cy="93.5" r="1.9"/><circle cx="37.4" cy="94.0" r="2.4"/><circle cx="40.3" cy="93.6" r="1.5"/><circle cx="40.8" cy="64.2" r="1.5"/><circle cx="37.7" cy="84.0" r="1.7"/><circle cx="35.7" cy="83.1" r="2.5"/><circle cx="50.3" cy="50.4" r="2.3"/><circle cx="48.8" cy="53.1" r="1.2"/><circle cx="33.0" cy="66.5" r="1.1"/><circle cx="29.7" cy="67.8" r="1.6"/><circle cx="77.6" cy="63.0" r="2.2"/><circle cx="78.2" cy="64.0" r="2.1"/><circle cx="78.1" cy="60.9" r="1.9"/><circle cx="35.0" cy="52.2" r="1.2"/><circle cx="76.0" cy="73.6" r="2.0"/><circle cx="75.7" cy="72.5" r="1.6"/><circle cx="74.4" cy="70.6" r="1.2"/><circle cx="84.5" cy="84.4" r="2.3"/><circle cx="51.9" cy="97.3" r="2.0"/><circle cx="58.6" cy="51.1" r="2.3"/><circle cx="59.6" cy="49.9" r="1.6"/><circle cx="91.9" cy="75.1" r="1.5"/><circle cx="92.2" cy="72.7" r="2.4"/></g></g></g></svg><div class="yr">2008</div><div class="bd" style="border-width:2px"></div></div>
<div class="t" style="left:143.3px;top:1393.0px;width:101.7px;height:91.5px"><svg viewBox="0 0 100 100" preserveAspectRatio="none" style="position:absolute;left:0;top:0;width:100%;height:100%"><rect width="100" height="100" fill="#3a6a1e"/><ellipse cx="15" cy="35" rx="12" ry="15" fill="#e0eaec" opacity="0.85" filter="url(#hz)"/><ellipse cx="45" cy="85" rx="15" ry="10" fill="#e0eaec" opacity="0.8" filter="url(#hz)"/><ellipse cx="75" cy="70" rx="12" ry="12" fill="#e0eaec" opacity="0.7" filter="url(#hz)"/><use href="#C" fill="#1f66e5" stroke="#1f66e5" stroke-width="1.45" transform="matrix(0.943 0 0 0.989 8.69 2.09)"/><g filter="url(#blur)"><use href="#k119" x="-2.6" y="1.3" fill="#0f2208" opacity=".6"/><g fill="#e6e8d6" opacity=".93"><g id="k119"><circle cx="84.9" cy="58.1" r="2.2"/><circle cx="69.0" cy="76.5" r="1.8"/><circle cx="71.8" cy="75.6" r="1.7"/><circle cx="65.3" cy="15.9" r="1.7"/><circle cx="66.5" cy="17.0" r="2.0"/><circle cx="66.9" cy="19.2" r="1.4"/><circle cx="92.9" cy="47.7" r="1.2"/><circle cx="90.2" cy="49.8" r="1.2"/><circle cx="91.8" cy="49.0" r="2.4"/><circle cx="68.0" cy="20.9" r="1.1"/><circle cx="72.1" cy="23.1" r="1.4"/><circle cx="16.1" cy="51.7" r="2.5"/><circle cx="14.9" cy="49.4" r="1.3"/><circle cx="18.1" cy="52.3" r="2.3"/><circle cx="96.3" cy="85.1" r="2.1"/><circle cx="93.5" cy="85.2" r="1.9"/><circle cx="98.1" cy="87.8" r="2.3"/><circle cx="96.8" cy="79.2" r="1.3"/><circle cx="97.9" cy="77.2" r="2.0"/><circle cx="50.0" cy="14.5" r="2.3"/><circle cx="48.2" cy="11.8" r="1.4"/><circle cx="7.5" cy="40.2" r="1.7"/><circle cx="8.4" cy="41.8" r="2.5"/><circle cx="7.7" cy="39.3" r="1.4"/><circle cx="19.5" cy="21.3" r="2.4"/><circle cx="18.6" cy="17.3" r="1.2"/><circle cx="44.1" cy="50.4" r="2.5"/><circle cx="46.1" cy="49.9" r="2.4"/><circle cx="85.5" cy="45.1" r="2.1"/><circle cx="37.7" cy="71.7" r="2.3"/><circle cx="45.3" cy="22.4" r="2.0"/><circle cx="46.9" cy="20.9" r="2.0"/><circle cx="51.6" cy="77.9" r="1.5"/><circle cx="52.5" cy="76.8" r="2.3"/><circle cx="50.4" cy="77.8" r="1.6"/><circle cx="2.3" cy="66.4" r="1.9"/><circle cx="96.9" cy="15.1" r="2.0"/><circle cx="97.5" cy="16.1" r="1.2"/><circle cx="93.9" cy="19.2" r="2.4"/><circle cx="24.9" cy="71.3" r="2.0"/><circle cx="23.9" cy="72.0" r="1.6"/><circle cx="23.1" cy="68.9" r="2.3"/><circle cx="57.4" cy="87.5" r="1.7"/><circle cx="54.2" cy="41.1" r="2.4"/><circle cx="13.0" cy="55.9" r="1.8"/><circle cx="8.5" cy="58.2" r="1.6"/><circle cx="85.3" cy="63.5" r="1.4"/><circle cx="82.9" cy="63.5" r="1.4"/><circle cx="85.0" cy="63.3" r="1.6"/><circle cx="33.9" cy="50.2" r="1.3"/><circle cx="31.1" cy="47.6" r="1.8"/><circle cx="32.9" cy="49.9" r="1.8"/><circle cx="98.7" cy="10.7" r="1.5"/><circle cx="95.7" cy="12.7" r="1.9"/></g></g></g></svg><div class="bd" style="border-width:2px"></div></div>
<div class="t" style="left:250.9px;top:1393.0px;width:102.7px;height:91.5px"><svg viewBox="0 0 100 100" preserveAspectRatio="none" style="position:absolute;left:0;top:0;width:100%;height:100%"><rect width="100" height="100" fill="#6bc840"/><g opacity="0.45" filter="url(#blur)"><use href="#C" fill="#c8b8a0" stroke="#c8b8a0" stroke-width="1.49" transform="matrix(0.923 0 0 0.951 1.42 1.27)"/></g><use href="#C" fill="#1f66e5" stroke="#1f66e5" stroke-width="1.83" transform="matrix(0.843 0 0 0.687 5.38 7.41)"/></svg><div class="bd" style="border-width:2px"></div></div>
<div class="t" style="left:359.1px;top:1393.0px;width:101.7px;height:91.5px"><svg viewBox="0 0 100 100" preserveAspectRatio="none" style="position:absolute;left:0;top:0;width:100%;height:100%"><rect width="100" height="100" fill="#77cb4f"/><g opacity="0.52" filter="url(#blur)"><use href="#C" fill="#e0c0d0" stroke="#e0c0d0" stroke-width="1.54" transform="matrix(0.911 0 0 0.911 1.47 1.96)"/></g><use href="#C" fill="#1f66e5" stroke="#1f66e5" stroke-width="1.88" transform="matrix(0.831 0 0 0.658 5.42 7.92)"/></svg><div class="bd" style="border-width:2px"></div></div>
<div class="t" style="left:474.4px;top:1393.0px;width:101.7px;height:91.5px"><svg viewBox="0 0 100 100" preserveAspectRatio="none" style="position:absolute;left:0;top:0;width:100%;height:100%"><rect width="100" height="100" fill="#4a9026"/><use href="#C" fill="#1f66e5" stroke="#1f66e5" stroke-width="1.47" transform="matrix(1.001 0 0 0.905 -0.42 3.57)"/></svg><div class="yr">2009</div><div class="bd" style="border-width:2px"></div></div>
<div class="t" style="left:582.6px;top:1393.0px;width:101.7px;height:91.5px"><svg viewBox="0 0 100 100" preserveAspectRatio="none" style="position:absolute;left:0;top:0;width:100%;height:100%"><rect width="100" height="100" fill="#4a8a26"/><use href="#C" fill="#1f66e5" stroke="#1f66e5" stroke-width="1.51" transform="matrix(0.983 0 0 0.877 -0.49 2.36)"/><g filter="url(#blur)"><use href="#k120" x="-2.6" y="1.3" fill="#0f2208" opacity=".6"/><g fill="#e6e8d6" opacity=".93"><g id="k120"><circle cx="37.8" cy="87.7" r="2.1"/><circle cx="33.8" cy="54.3" r="2.0"/><circle cx="71.0" cy="88.5" r="1.8"/><circle cx="66.3" cy="73.2" r="1.9"/><circle cx="67.8" cy="73.5" r="2.3"/><circle cx="66.0" cy="72.3" r="2.5"/><circle cx="85.8" cy="50.8" r="2.2"/><circle cx="88.2" cy="50.5" r="1.3"/><circle cx="83.9" cy="48.1" r="1.5"/><circle cx="15.3" cy="91.7" r="1.4"/><circle cx="50.5" cy="53.7" r="1.2"/><circle cx="47.6" cy="50.8" r="1.8"/><circle cx="11.6" cy="67.1" r="2.2"/><circle cx="12.2" cy="67.0" r="1.3"/><circle cx="12.7" cy="65.6" r="1.7"/><circle cx="51.9" cy="73.8" r="2.2"/><circle cx="52.8" cy="72.5" r="2.1"/><circle cx="51.0" cy="72.7" r="1.3"/></g></g></g></svg><div class="bd" style="border-width:2px"></div></div>
<div class="t" style="left:689.9px;top:1393.0px;width:102.7px;height:91.5px"><svg viewBox="0 0 100 100" preserveAspectRatio="none" style="position:absolute;left:0;top:0;width:100%;height:100%"><rect width="100" height="100" fill="#82d05c"/><g opacity="0.52" filter="url(#blur)"><use href="#C" fill="#e0c0d0" stroke="#e0c0d0" stroke-width="1.54" transform="matrix(0.903 0 0 0.917 1.16 0.15)"/></g><use href="#C" fill="#1f66e5" stroke="#1f66e5" stroke-width="1.88" transform="matrix(0.823 0 0 0.663 5.12 6.14)"/></svg><div class="bd" style="border-width:2px"></div></div>
<div class="t" style="left:798.5px;top:1393.0px;width:102.0px;height:91.5px"><svg viewBox="0 0 100 100" preserveAspectRatio="none" style="position:absolute;left:0;top:0;width:100%;height:100%"><rect width="100" height="100" fill="#658a2e"/><g opacity="0.45" filter="url(#blur)"><use href="#C" fill="#b08050" stroke="#b08050" stroke-width="1.81" transform="matrix(0.782 0 0 0.768 5.21 4.48)"/></g><use href="#C" fill="#1f66e5" stroke="#1f66e5" stroke-width="2.23" transform="matrix(0.703 0 0 0.552 9.17 9.78)"/></svg><div class="bd" style="border-width:2px"></div></div>
<div class="t" style="left:914.9px;top:1393.0px;width:102.0px;height:91.5px"><svg viewBox="0 0 100 100" preserveAspectRatio="none" style="position:absolute;left:0;top:0;width:100%;height:100%"><rect width="100" height="100" fill="#3a6a1e"/><ellipse cx="40" cy="20" rx="25" ry="12" fill="#d8dcd8" opacity="0.6" filter="url(#hz)"/><use href="#C" fill="#1f66e5" stroke="#1f66e5" stroke-width="1.38" transform="matrix(1.033 0 0 0.997 -1.40 0.45)"/><g filter="url(#blur)"><use href="#k121" x="-2.6" y="1.3" fill="#0f2208" opacity=".6"/><g fill="#e6e8d6" opacity=".93"><g id="k121"><circle cx="19.5" cy="23.0" r="2.0"/><circle cx="22.8" cy="23.5" r="1.5"/><circle cx="83.2" cy="29.7" r="1.6"/><circle cx="43.6" cy="27.5" r="1.9"/><circle cx="30.4" cy="39.1" r="1.3"/><circle cx="30.3" cy="39.7" r="1.6"/><circle cx="20.2" cy="40.8" r="1.9"/><circle cx="19.7" cy="38.6" r="1.5"/><circle cx="97.5" cy="19.7" r="2.5"/><circle cx="3.4" cy="3.3" r="2.4"/><circle cx="2.1" cy="6.7" r="2.3"/><circle cx="2.1" cy="4.9" r="1.6"/><circle cx="2.7" cy="14.5" r="1.5"/><circle cx="57.3" cy="43.3" r="1.7"/><circle cx="60.4" cy="43.3" r="2.0"/><circle cx="80.7" cy="23.9" r="1.6"/><circle cx="76.6" cy="25.1" r="2.4"/><circle cx="75.1" cy="12.8" r="1.8"/><circle cx="70.8" cy="11.8" r="1.2"/><circle cx="74.7" cy="13.8" r="1.4"/><circle cx="45.4" cy="24.9" r="1.5"/><circle cx="47.6" cy="21.5" r="2.3"/><circle cx="44.5" cy="23.0" r="1.3"/><circle cx="55.6" cy="32.7" r="2.3"/><circle cx="54.5" cy="31.3" r="1.4"/><circle cx="54.7" cy="32.8" r="2.1"/><circle cx="66.4" cy="27.4" r="1.8"/><circle cx="5.0" cy="40.3" r="2.1"/><circle cx="47.5" cy="9.8" r="2.2"/><circle cx="51.0" cy="9.3" r="1.9"/><circle cx="18.9" cy="44.2" r="1.1"/><circle cx="19.9" cy="43.2" r="1.5"/><circle cx="20.3" cy="41.7" r="2.4"/><circle cx="72.2" cy="33.0" r="2.2"/><circle cx="72.9" cy="35.1" r="1.6"/><circle cx="74.2" cy="31.7" r="1.6"/></g></g><use href="#k122" x="-2.6" y="1.3" fill="#0f2208" opacity=".6"/><g fill="#e6e8d6" opacity=".93"><g id="k122"><circle cx="90.0" cy="75.8" r="2.0"/><circle cx="86.7" cy="73.3" r="1.6"/><circle cx="13.5" cy="91.8" r="1.3"/><circle cx="13.5" cy="94.5" r="2.0"/><circle cx="11.1" cy="91.5" r="1.2"/><circle cx="12.7" cy="92.3" r="1.2"/><circle cx="13.4" cy="95.6" r="2.1"/><circle cx="9.0" cy="78.0" r="1.3"/><circle cx="58.8" cy="85.5" r="2.2"/><circle cx="60.0" cy="86.3" r="1.5"/><circle cx="59.6" cy="83.8" r="2.2"/><circle cx="77.4" cy="93.3" r="1.5"/><circle cx="78.6" cy="96.4" r="2.0"/><circle cx="62.7" cy="90.7" r="2.0"/><circle cx="59.6" cy="89.7" r="1.8"/><circle cx="34.1" cy="92.7" r="2.2"/><circle cx="36.0" cy="89.6" r="2.2"/><circle cx="37.7" cy="77.5" r="1.3"/><circle cx="40.2" cy="76.2" r="2.1"/><circle cx="71.9" cy="71.5" r="1.1"/><circle cx="64.7" cy="89.7" r="1.9"/><circle cx="64.6" cy="89.1" r="2.3"/><circle cx="64.0" cy="86.9" r="1.8"/></g></g></g></svg><div class="yr">2011</div><div class="bd" style="border-width:2px"></div></div>
<div class="t" style="left:1023.5px;top:1393.0px;width:101.4px;height:91.5px"><svg viewBox="0 0 100 100" preserveAspectRatio="none" style="position:absolute;left:0;top:0;width:100%;height:100%"><rect width="100" height="100" fill="#4a8a26"/><ellipse cx="85" cy="70" rx="8" ry="10" fill="#e8ece8" opacity="0.7" filter="url(#hz)"/><use href="#C" fill="#1f66e5" stroke="#1f66e5" stroke-width="1.36" transform="matrix(1.041 0 0 1.021 -2.89 -1.58)"/><g filter="url(#blur)"><use href="#k123" x="-2.6" y="1.3" fill="#0f2208" opacity=".6"/><g fill="#e6e8d6" opacity=".93"><g id="k123"><circle cx="89.3" cy="71.1" r="1.9"/><circle cx="88.8" cy="68.0" r="2.3"/><circle cx="87.6" cy="69.3" r="1.7"/><circle cx="87.1" cy="91.2" r="2.0"/><circle cx="87.6" cy="93.2" r="1.7"/><circle cx="79.9" cy="67.6" r="1.2"/><circle cx="94.8" cy="66.9" r="1.9"/><circle cx="75.8" cy="79.8" r="1.9"/><circle cx="74.8" cy="89.3" r="1.3"/><circle cx="96.2" cy="90.0" r="2.0"/><circle cx="80.7" cy="85.9" r="1.8"/><circle cx="80.4" cy="89.3" r="2.4"/><circle cx="76.5" cy="65.2" r="2.1"/><circle cx="74.6" cy="63.3" r="2.4"/><circle cx="73.7" cy="65.4" r="2.0"/></g></g></g></svg><div class="bd" style="border-width:2px"></div></div>
<div class="t" style="left:1131.8px;top:1393.0px;width:102.0px;height:91.5px"><svg viewBox="0 0 100 100" preserveAspectRatio="none" style="position:absolute;left:0;top:0;width:100%;height:100%"><rect width="100" height="100" fill="#4a8a28"/><use href="#C" fill="#1f66e5" stroke="#1f66e5" stroke-width="2.77" transform="matrix(0.544 0 0 0.466 20.47 13.79)"/><g filter="url(#blur)"><use href="#k124" x="-2.6" y="1.3" fill="#0f2208" opacity=".6"/><g fill="#e6e8d6" opacity=".93"><g id="k124"><circle cx="82.7" cy="18.9" r="1.4"/><circle cx="83.3" cy="19.0" r="1.2"/><circle cx="81.2" cy="15.8" r="1.8"/><circle cx="16.8" cy="18.8" r="1.9"/><circle cx="61.9" cy="5.0" r="2.0"/><circle cx="62.3" cy="8.7" r="1.8"/><circle cx="31.1" cy="30.3" r="1.8"/><circle cx="20.0" cy="95.9" r="2.1"/><circle cx="44.6" cy="22.3" r="1.6"/><circle cx="46.4" cy="20.4" r="1.6"/><circle cx="47.4" cy="19.7" r="1.2"/><circle cx="10.5" cy="40.2" r="1.8"/><circle cx="8.1" cy="44.0" r="1.9"/><circle cx="12.9" cy="70.3" r="1.9"/><circle cx="9.3" cy="74.2" r="1.8"/><circle cx="43.2" cy="15.8" r="1.9"/><circle cx="31.6" cy="51.1" r="2.2"/><circle cx="36.0" cy="49.9" r="2.3"/><circle cx="34.7" cy="49.6" r="2.2"/><circle cx="91.7" cy="60.0" r="1.5"/><circle cx="95.8" cy="58.0" r="2.4"/><circle cx="67.8" cy="61.0" r="2.1"/><circle cx="67.9" cy="63.3" r="2.4"/><circle cx="70.1" cy="62.5" r="2.2"/><circle cx="91.1" cy="14.1" r="1.4"/><circle cx="89.3" cy="16.5" r="1.9"/><circle cx="45.8" cy="42.8" r="1.8"/><circle cx="37.7" cy="40.6" r="1.6"/><circle cx="36.4" cy="39.7" r="1.4"/><circle cx="35.4" cy="43.1" r="1.7"/><circle cx="66.1" cy="64.4" r="1.9"/><circle cx="67.8" cy="64.6" r="1.8"/><circle cx="45.2" cy="87.9" r="1.8"/><circle cx="15.2" cy="40.3" r="1.6"/><circle cx="15.1" cy="43.0" r="2.4"/><circle cx="54.7" cy="7.3" r="2.1"/><circle cx="51.4" cy="6.9" r="2.3"/><circle cx="53.2" cy="4.6" r="1.8"/><circle cx="38.8" cy="7.2" r="1.3"/><circle cx="36.3" cy="6.4" r="1.8"/><circle cx="45.8" cy="10.4" r="1.6"/><circle cx="45.8" cy="10.7" r="1.6"/><circle cx="38.8" cy="12.4" r="2.0"/><circle cx="35.4" cy="10.4" r="2.0"/><circle cx="27.0" cy="73.7" r="2.3"/><circle cx="30.1" cy="72.2" r="2.2"/><circle cx="61.1" cy="89.5" r="1.6"/><circle cx="63.4" cy="87.3" r="2.1"/><circle cx="63.8" cy="86.8" r="1.5"/><circle cx="81.8" cy="77.2" r="1.2"/><circle cx="79.2" cy="74.6" r="1.6"/><circle cx="79.8" cy="34.6" r="1.9"/><circle cx="79.9" cy="34.1" r="1.2"/><circle cx="40.2" cy="24.9" r="1.4"/><circle cx="58.5" cy="95.4" r="2.0"/><circle cx="66.2" cy="23.4" r="2.0"/><circle cx="62.5" cy="23.5" r="2.2"/><circle cx="64.0" cy="23.0" r="1.6"/></g></g></g></svg><div class="bd" style="border-width:2px"></div></div>
<div class="t" style="left:1239.0px;top:1393.0px;width:102.4px;height:91.5px"><svg viewBox="0 0 100 100" preserveAspectRatio="none" style="position:absolute;left:0;top:0;width:100%;height:100%"><rect width="100" height="100" fill="#4a8a28"/><use href="#C" fill="#1f66e5" stroke="#1f66e5" stroke-width="2.32" transform="matrix(0.651 0 0 0.557 10.79 10.20)"/><g filter="url(#blur)"><use href="#k125" x="-2.6" y="1.3" fill="#0f2208" opacity=".6"/><g fill="#e6e8d6" opacity=".93"><g id="k125"><circle cx="93.8" cy="28.0" r="2.3"/><circle cx="92.4" cy="32.7" r="2.0"/><circle cx="91.2" cy="32.0" r="1.2"/><circle cx="93.8" cy="33.0" r="2.2"/><circle cx="49.4" cy="93.5" r="1.9"/><circle cx="47.6" cy="94.8" r="2.4"/><circle cx="50.5" cy="43.4" r="2.1"/><circle cx="50.5" cy="46.6" r="2.1"/><circle cx="47.4" cy="44.9" r="1.3"/><circle cx="17.4" cy="24.3" r="2.3"/><circle cx="16.5" cy="20.5" r="1.2"/><circle cx="91.2" cy="25.0" r="2.1"/><circle cx="88.3" cy="24.6" r="1.7"/><circle cx="64.9" cy="80.8" r="2.3"/><circle cx="66.5" cy="78.1" r="2.1"/><circle cx="65.6" cy="77.8" r="2.2"/><circle cx="97.8" cy="77.4" r="1.7"/><circle cx="80.6" cy="9.9" r="1.5"/><circle cx="66.8" cy="61.7" r="2.4"/><circle cx="32.2" cy="11.9" r="2.0"/><circle cx="92.8" cy="56.7" r="1.3"/><circle cx="91.7" cy="54.7" r="2.3"/><circle cx="89.2" cy="91.9" r="1.7"/><circle cx="90.5" cy="93.7" r="1.6"/><circle cx="88.5" cy="94.8" r="1.6"/><circle cx="47.0" cy="66.6" r="2.1"/><circle cx="47.7" cy="65.3" r="2.2"/><circle cx="44.9" cy="66.7" r="1.6"/><circle cx="70.4" cy="93.4" r="1.2"/><circle cx="5.6" cy="11.6" r="2.4"/><circle cx="20.6" cy="25.1" r="2.1"/><circle cx="22.4" cy="20.8" r="1.3"/><circle cx="21.1" cy="21.8" r="1.9"/><circle cx="27.9" cy="21.3" r="2.3"/><circle cx="29.4" cy="21.8" r="1.6"/><circle cx="16.0" cy="75.5" r="2.3"/><circle cx="16.0" cy="82.2" r="2.0"/><circle cx="18.8" cy="82.4" r="1.8"/><circle cx="18.1" cy="83.7" r="1.2"/><circle cx="22.9" cy="15.9" r="2.3"/><circle cx="25.0" cy="15.8" r="1.4"/><circle cx="72.1" cy="55.1" r="1.5"/><circle cx="67.6" cy="53.5" r="1.6"/><circle cx="79.7" cy="89.8" r="1.2"/><circle cx="70.0" cy="27.8" r="1.8"/><circle cx="85.5" cy="32.6" r="1.9"/><circle cx="25.4" cy="38.9" r="1.9"/><circle cx="25.8" cy="37.2" r="1.7"/><circle cx="25.8" cy="37.1" r="2.2"/><circle cx="82.6" cy="84.9" r="1.5"/><circle cx="82.8" cy="81.6" r="1.3"/><circle cx="79.8" cy="82.4" r="2.4"/><circle cx="61.7" cy="61.6" r="1.5"/><circle cx="62.0" cy="62.9" r="2.4"/><circle cx="79.7" cy="41.1" r="1.5"/><circle cx="76.5" cy="39.1" r="2.2"/></g></g></g><ellipse cx="45" cy="55" rx="15" ry="8" fill="#d8e0e0" opacity="0.6" filter="url(#hz)"/></svg><div class="bd" style="border-width:2px"></div></div>
<div class="t" style="left:35.0px;top:1492.6px;width:101.7px;height:91.7px"><svg viewBox="0 0 100 100" preserveAspectRatio="none" style="position:absolute;left:0;top:0;width:100%;height:100%"><rect width="100" height="100" fill="#3a6a1e"/><use href="#C" fill="#1f66e5" stroke="#1f66e5" stroke-width="1.98" transform="matrix(0.811 0 0 0.603 7.66 9.09)"/><g filter="url(#blur)"><use href="#k126" x="-2.6" y="1.3" fill="#0f2208" opacity=".6"/><g fill="#e6e8d6" opacity=".93"><g id="k126"><circle cx="53.1" cy="85.1" r="2.2"/><circle cx="50.8" cy="85.7" r="1.2"/><circle cx="50.2" cy="86.7" r="2.3"/><circle cx="14.9" cy="63.5" r="1.8"/><circle cx="15.3" cy="61.8" r="1.4"/><circle cx="52.1" cy="69.2" r="2.0"/><circle cx="50.9" cy="65.8" r="1.2"/><circle cx="47.7" cy="75.7" r="1.8"/><circle cx="47.8" cy="75.5" r="1.8"/><circle cx="14.4" cy="96.8" r="2.1"/><circle cx="30.0" cy="99.3" r="1.7"/><circle cx="28.7" cy="99.7" r="2.3"/><circle cx="28.0" cy="97.1" r="1.4"/><circle cx="14.9" cy="90.0" r="1.3"/><circle cx="60.6" cy="92.2" r="1.3"/><circle cx="62.1" cy="90.9" r="1.9"/><circle cx="61.6" cy="91.2" r="2.1"/><circle cx="37.2" cy="61.8" r="1.5"/><circle cx="36.2" cy="62.1" r="2.4"/><circle cx="74.9" cy="72.8" r="2.0"/><circle cx="72.3" cy="71.9" r="2.5"/><circle cx="71.2" cy="72.0" r="1.9"/><circle cx="69.0" cy="62.5" r="1.8"/><circle cx="69.8" cy="59.9" r="1.4"/><circle cx="67.3" cy="60.4" r="2.0"/><circle cx="87.1" cy="87.2" r="2.4"/><circle cx="90.2" cy="88.3" r="2.5"/><circle cx="62.9" cy="92.4" r="1.5"/><circle cx="62.6" cy="90.2" r="2.5"/><circle cx="59.8" cy="90.5" r="2.1"/><circle cx="21.8" cy="61.8" r="1.2"/><circle cx="19.9" cy="97.2" r="2.5"/><circle cx="20.8" cy="98.5" r="1.7"/><circle cx="17.3" cy="63.3" r="2.4"/><circle cx="83.2" cy="60.3" r="2.2"/><circle cx="81.4" cy="63.1" r="2.0"/><circle cx="56.3" cy="70.5" r="1.7"/><circle cx="57.0" cy="74.3" r="2.0"/><circle cx="34.2" cy="72.1" r="1.3"/><circle cx="91.9" cy="62.2" r="1.4"/><circle cx="96.0" cy="62.0" r="2.1"/><circle cx="20.5" cy="64.9" r="1.9"/><circle cx="22.8" cy="65.8" r="1.1"/><circle cx="12.9" cy="65.4" r="1.5"/><circle cx="12.1" cy="69.5" r="2.4"/><circle cx="11.8" cy="65.8" r="2.3"/></g></g><use href="#k127" x="-2.6" y="1.3" fill="#0f2208" opacity=".6"/><g fill="#e6e8d6" opacity=".93"><g id="k127"><circle cx="16.1" cy="20.2" r="2.1"/><circle cx="15.2" cy="17.7" r="1.3"/><circle cx="28.5" cy="6.4" r="2.0"/><circle cx="19.1" cy="35.0" r="1.4"/><circle cx="19.7" cy="32.2" r="2.4"/><circle cx="9.0" cy="24.3" r="2.1"/><circle cx="27.2" cy="16.2" r="1.6"/><circle cx="30.2" cy="13.6" r="1.8"/><circle cx="27.6" cy="15.2" r="1.4"/><circle cx="3.3" cy="22.4" r="1.8"/><circle cx="3.6" cy="26.6" r="1.5"/><circle cx="4.0" cy="12.8" r="1.8"/></g></g></g></svg><div class="yr">2014</div><div class="bd" style="border-width:2px"></div></div>
<div class="t" style="left:143.3px;top:1492.6px;width:101.7px;height:91.7px"><svg viewBox="0 0 100 100" preserveAspectRatio="none" style="position:absolute;left:0;top:0;width:100%;height:100%"><rect width="100" height="100" fill="#86b845"/><ellipse cx="85" cy="60" rx="12" ry="35" fill="#b08850" opacity="0.5" filter="url(#hz)"/><g opacity="0.38" filter="url(#blur)"><use href="#C" fill="#c0a070" stroke="#c0a070" stroke-width="1.76" transform="matrix(0.827 0 0 0.764 5.77 4.75)"/></g><use href="#C" fill="#1f66e5" stroke="#1f66e5" stroke-width="2.16" transform="matrix(0.748 0 0 0.549 9.73 10.04)"/></svg><div class="bd" style="border-width:2px"></div></div>
<div class="t" style="left:250.9px;top:1492.6px;width:102.7px;height:91.7px"><svg viewBox="0 0 100 100" preserveAspectRatio="none" style="position:absolute;left:0;top:0;width:100%;height:100%"><rect width="100" height="100" fill="#75c045"/><g opacity="0.38" filter="url(#blur)"><use href="#C" fill="#b8b080" stroke="#b8b080" stroke-width="1.79" transform="matrix(0.799 0 0 0.764 6.21 4.75)"/></g><use href="#C" fill="#1f66e5" stroke="#1f66e5" stroke-width="2.21" transform="matrix(0.720 0 0 0.549 10.16 10.04)"/></svg><div class="bd" style="border-width:2px"></div></div>
<div class="t" style="left:359.1px;top:1492.6px;width:101.7px;height:91.7px"><svg viewBox="0 0 100 100" preserveAspectRatio="none" style="position:absolute;left:0;top:0;width:100%;height:100%"><rect width="100" height="100" fill="#61bc36"/><ellipse cx="25" cy="70" rx="25" ry="25" fill="#b8d0b0" opacity="0.7" filter="url(#hz)"/><ellipse cx="75" cy="65" rx="20" ry="25" fill="#90c880" opacity="0.5" filter="url(#hz)"/><use href="#C" fill="#1f66e5" stroke="#1f66e5" stroke-width="2.90" transform="matrix(0.471 0 0 0.495 19.34 10.98)"/><g filter="url(#blur)"><use href="#k128" x="-2.6" y="1.3" fill="#0f2208" opacity=".6"/><g fill="#e6e8d6" opacity=".93"><g id="k128"><circle cx="44.2" cy="72.9" r="1.6"/><circle cx="40.5" cy="73.3" r="1.9"/><circle cx="40.9" cy="72.1" r="1.2"/><circle cx="35.8" cy="50.5" r="2.3"/><circle cx="35.3" cy="52.6" r="2.1"/><circle cx="3.9" cy="77.3" r="1.7"/><circle cx="28.3" cy="72.6" r="1.9"/><circle cx="58.0" cy="63.9" r="1.5"/><circle cx="60.7" cy="60.7" r="1.3"/><circle cx="59.3" cy="60.9" r="1.8"/><circle cx="50.3" cy="88.2" r="2.4"/><circle cx="59.0" cy="72.7" r="1.7"/></g></g></g></svg><div class="bd" style="border-width:2px"></div></div>
<div class="t" style="left:476.4px;top:1492.6px;width:101.3px;height:91.7px"><svg viewBox="0 0 100 100" preserveAspectRatio="none" style="position:absolute;left:0;top:0;width:100%;height:100%"><rect width="100" height="100" fill="#3a6a1e"/><use href="#C" fill="#1f66e5" stroke="#1f66e5" stroke-width="1.38" transform="matrix(1.066 0 0 0.956 -3.10 2.88)"/><g filter="url(#blur)"><use href="#k129" x="-2.6" y="1.3" fill="#0f2208" opacity=".6"/><g fill="#e6e8d6" opacity=".93"><g id="k129"><circle cx="85.3" cy="23.2" r="2.0"/><circle cx="87.9" cy="5.9" r="2.1"/><circle cx="87.2" cy="7.8" r="1.2"/><circle cx="88.9" cy="5.0" r="1.7"/><circle cx="11.9" cy="7.5" r="1.4"/><circle cx="8.5" cy="7.2" r="1.5"/><circle cx="72.8" cy="19.9" r="2.2"/><circle cx="62.0" cy="20.7" r="1.8"/><circle cx="83.5" cy="12.3" r="1.9"/><circle cx="83.3" cy="13.0" r="1.6"/><circle cx="51.3" cy="4.4" r="1.8"/><circle cx="53.6" cy="4.7" r="2.0"/><circle cx="51.0" cy="2.5" r="2.0"/><circle cx="68.7" cy="14.0" r="2.0"/><circle cx="73.4" cy="25.2" r="1.3"/><circle cx="73.8" cy="22.0" r="1.7"/><circle cx="70.1" cy="21.6" r="1.6"/><circle cx="87.3" cy="9.8" r="2.0"/><circle cx="85.9" cy="9.3" r="2.3"/><circle cx="85.5" cy="10.2" r="1.6"/><circle cx="85.4" cy="2.5" r="1.9"/><circle cx="87.6" cy="2.3" r="2.3"/><circle cx="9.9" cy="19.6" r="2.2"/><circle cx="8.6" cy="18.9" r="1.2"/><circle cx="33.4" cy="7.8" r="2.1"/><circle cx="94.0" cy="14.7" r="1.3"/><circle cx="93.8" cy="11.9" r="1.7"/></g></g><use href="#k130" x="-2.6" y="1.3" fill="#0f2208" opacity=".6"/><g fill="#e6e8d6" opacity=".93"><g id="k130"><circle cx="80.8" cy="88.1" r="1.3"/><circle cx="85.1" cy="98.1" r="1.1"/><circle cx="84.5" cy="94.6" r="1.2"/><circle cx="86.1" cy="96.6" r="1.6"/><circle cx="44.6" cy="88.7" r="2.4"/><circle cx="42.2" cy="87.4" r="1.3"/><circle cx="43.7" cy="87.9" r="2.1"/><circle cx="53.0" cy="96.3" r="2.4"/><circle cx="51.9" cy="97.6" r="2.1"/><circle cx="46.9" cy="86.2" r="1.6"/><circle cx="30.3" cy="78.5" r="1.3"/><circle cx="26.5" cy="77.7" r="2.2"/><circle cx="84.1" cy="93.5" r="1.6"/><circle cx="81.8" cy="89.4" r="1.5"/><circle cx="73.8" cy="80.3" r="2.0"/><circle cx="70.1" cy="82.5" r="1.5"/><circle cx="70.2" cy="83.5" r="1.2"/><circle cx="70.0" cy="93.6" r="2.5"/><circle cx="46.6" cy="79.8" r="2.2"/><circle cx="8.9" cy="74.3" r="1.5"/><circle cx="38.6" cy="99.0" r="2.3"/><circle cx="38.0" cy="78.2" r="1.3"/><circle cx="38.1" cy="79.9" r="1.7"/><circle cx="59.0" cy="92.3" r="1.2"/><circle cx="57.4" cy="90.7" r="2.0"/></g></g></g><ellipse cx="40" cy="45" rx="6" ry="8" fill="#d8e0e0" opacity="0.6" filter="url(#hz)"/></svg><div class="yr">2015</div><div class="bd" style="border-width:2px"></div></div>
<div class="t" style="left:584.3px;top:1492.6px;width:101.4px;height:91.7px"><svg viewBox="0 0 100 100" preserveAspectRatio="none" style="position:absolute;left:0;top:0;width:100%;height:100%"><rect width="100" height="100" fill="#3a6a1e"/><use href="#C" fill="#1f66e5" stroke="#1f66e5" stroke-width="1.37" transform="matrix(1.027 0 0 1.012 -2.62 -1.82)"/><g filter="url(#blur)"><use href="#k131" x="-2.6" y="1.3" fill="#0f2208" opacity=".6"/><g fill="#e6e8d6" opacity=".93"><g id="k131"><circle cx="67.8" cy="12.0" r="1.2"/><circle cx="69.4" cy="13.0" r="1.7"/><circle cx="68.5" cy="12.5" r="1.1"/><circle cx="64.0" cy="4.4" r="2.0"/><circle cx="64.4" cy="4.7" r="2.4"/><circle cx="65.4" cy="4.5" r="1.4"/><circle cx="65.9" cy="6.4" r="1.6"/><circle cx="22.0" cy="11.5" r="2.1"/><circle cx="24.9" cy="12.7" r="2.5"/><circle cx="23.2" cy="11.0" r="1.3"/><circle cx="94.6" cy="13.3" r="2.0"/><circle cx="95.6" cy="15.0" r="2.2"/><circle cx="93.0" cy="13.9" r="1.6"/><circle cx="88.7" cy="9.1" r="1.7"/><circle cx="85.3" cy="10.2" r="1.3"/><circle cx="89.2" cy="12.9" r="2.3"/><circle cx="73.2" cy="6.9" r="1.3"/><circle cx="73.1" cy="7.1" r="1.1"/><circle cx="69.0" cy="8.1" r="1.9"/><circle cx="48.9" cy="17.1" r="1.3"/><circle cx="52.5" cy="18.4" r="1.2"/><circle cx="48.4" cy="16.6" r="2.3"/><circle cx="10.1" cy="5.9" r="2.1"/><circle cx="10.6" cy="7.0" r="2.3"/><circle cx="92.9" cy="10.9" r="1.3"/><circle cx="93.7" cy="8.9" r="1.8"/><circle cx="93.4" cy="6.6" r="1.2"/><circle cx="51.2" cy="5.6" r="1.6"/><circle cx="53.4" cy="9.4" r="2.3"/></g></g><use href="#k132" x="-2.6" y="1.3" fill="#0f2208" opacity=".6"/><g fill="#e6e8d6" opacity=".93"><g id="k132"><circle cx="32.8" cy="85.6" r="2.1"/><circle cx="29.2" cy="85.2" r="2.1"/><circle cx="31.0" cy="85.9" r="1.4"/><circle cx="17.9" cy="83.0" r="1.1"/><circle cx="18.3" cy="83.5" r="1.4"/><circle cx="43.0" cy="90.5" r="1.9"/><circle cx="42.9" cy="88.9" r="2.0"/><circle cx="76.1" cy="87.3" r="2.0"/><circle cx="37.0" cy="98.0" r="1.3"/><circle cx="59.7" cy="94.6" r="1.2"/><circle cx="57.7" cy="95.0" r="1.9"/><circle cx="47.1" cy="89.4" r="1.3"/><circle cx="49.1" cy="89.5" r="1.2"/><circle cx="67.5" cy="94.5" r="1.5"/><circle cx="69.5" cy="94.6" r="1.2"/><circle cx="7.2" cy="94.1" r="2.1"/><circle cx="9.2" cy="96.9" r="1.3"/><circle cx="7.9" cy="94.1" r="1.4"/><circle cx="6.8" cy="83.8" r="1.4"/><circle cx="2.4" cy="83.4" r="2.3"/><circle cx="3.6" cy="83.6" r="1.8"/><circle cx="10.0" cy="75.1" r="1.5"/><circle cx="14.3" cy="77.4" r="2.0"/><circle cx="14.1" cy="75.6" r="2.4"/><circle cx="27.8" cy="86.5" r="1.7"/><circle cx="26.9" cy="87.0" r="2.2"/><circle cx="9.1" cy="76.4" r="1.4"/><circle cx="61.8" cy="77.6" r="1.5"/></g></g><use href="#k133" x="-2.6" y="1.3" fill="#0f2208" opacity=".6"/><g fill="#e6e8d6" opacity=".93"><g id="k133"><circle cx="94.3" cy="57.4" r="1.5"/><circle cx="96.7" cy="57.9" r="1.8"/><circle cx="85.6" cy="41.7" r="1.2"/><circle cx="89.1" cy="40.9" r="1.6"/><circle cx="87.4" cy="39.1" r="1.1"/><circle cx="91.7" cy="47.5" r="2.2"/><circle cx="94.8" cy="43.7" r="1.4"/><circle cx="89.6" cy="49.5" r="1.2"/><circle cx="90.5" cy="49.9" r="2.1"/><circle cx="83.8" cy="26.7" r="2.5"/><circle cx="87.8" cy="26.4" r="1.4"/><circle cx="84.0" cy="22.6" r="2.3"/><circle cx="92.7" cy="43.5" r="2.2"/><circle cx="93.0" cy="43.6" r="1.7"/><circle cx="91.4" cy="41.1" r="1.1"/><circle cx="94.4" cy="51.0" r="1.3"/><circle cx="93.7" cy="51.1" r="1.9"/></g></g></g></svg><div class="bd" style="border-width:2px"></div></div>
<div class="t" style="left:691.5px;top:1492.6px;width:102.1px;height:91.7px"><svg viewBox="0 0 100 100" preserveAspectRatio="none" style="position:absolute;left:0;top:0;width:100%;height:100%"><rect width="100" height="100" fill="#479a28"/><use href="#C" fill="#1f66e5" stroke="#1f66e5" stroke-width="2.32" transform="matrix(0.637 0 0 0.567 13.85 8.01)"/><g filter="url(#blur)"><use href="#k134" x="-2.6" y="1.3" fill="#0f2208" opacity=".6"/><g fill="#e6e8d6" opacity=".93"><g id="k134"><circle cx="51.5" cy="17.3" r="2.4"/><circle cx="73.8" cy="58.0" r="2.0"/><circle cx="73.2" cy="42.5" r="1.7"/><circle cx="75.3" cy="38.8" r="2.1"/><circle cx="4.9" cy="85.2" r="1.2"/><circle cx="5.7" cy="89.5" r="1.1"/><circle cx="13.8" cy="17.5" r="1.2"/><circle cx="12.5" cy="19.4" r="1.7"/><circle cx="93.2" cy="24.8" r="1.5"/><circle cx="95.7" cy="25.2" r="1.7"/><circle cx="94.1" cy="25.0" r="1.2"/><circle cx="68.6" cy="64.1" r="1.2"/><circle cx="60.1" cy="53.3" r="2.3"/><circle cx="62.5" cy="53.0" r="1.4"/><circle cx="59.4" cy="52.4" r="2.2"/><circle cx="12.8" cy="71.9" r="1.2"/><circle cx="11.9" cy="72.3" r="2.0"/><circle cx="90.4" cy="94.8" r="1.1"/><circle cx="70.5" cy="37.4" r="1.9"/><circle cx="16.9" cy="16.0" r="2.0"/><circle cx="18.2" cy="55.5" r="2.1"/><circle cx="29.3" cy="89.9" r="2.3"/><circle cx="32.2" cy="43.6" r="1.9"/><circle cx="32.7" cy="47.3" r="2.2"/><circle cx="36.7" cy="43.4" r="1.8"/><circle cx="38.7" cy="23.3" r="2.3"/><circle cx="5.6" cy="44.5" r="2.3"/><circle cx="25.6" cy="32.2" r="1.2"/><circle cx="24.5" cy="35.2" r="1.3"/><circle cx="27.1" cy="32.8" r="2.2"/></g></g></g></svg><div class="bd" style="border-width:2px"></div></div>
<div class="t" style="left:800.1px;top:1492.6px;width:101.4px;height:91.7px"><svg viewBox="0 0 100 100" preserveAspectRatio="none" style="position:absolute;left:0;top:0;width:100%;height:100%"><rect width="100" height="100" fill="#51b033"/><ellipse cx="90" cy="40" rx="10" ry="20" fill="#a8c8b0" opacity="0.5" filter="url(#hz)"/><use href="#C" fill="#1f66e5" stroke="#1f66e5" stroke-width="2.09" transform="matrix(0.792 0 0 0.549 8.30 10.04)"/><g filter="url(#blur)"><use href="#k135" x="-2.6" y="1.3" fill="#0f2208" opacity=".6"/><g fill="#e6e8d6" opacity=".93"><g id="k135"><circle cx="63.1" cy="63.8" r="1.6"/><circle cx="50.4" cy="64.8" r="1.2"/><circle cx="52.3" cy="66.0" r="1.7"/><circle cx="51.3" cy="67.0" r="1.4"/><circle cx="67.7" cy="66.8" r="1.7"/><circle cx="66.5" cy="67.6" r="1.7"/><circle cx="68.3" cy="68.0" r="1.5"/><circle cx="99.2" cy="82.7" r="2.3"/><circle cx="98.3" cy="84.6" r="2.0"/><circle cx="94.2" cy="95.2" r="1.4"/><circle cx="77.8" cy="59.5" r="1.7"/><circle cx="73.9" cy="60.0" r="1.9"/><circle cx="85.6" cy="96.8" r="1.1"/><circle cx="77.9" cy="66.6" r="1.1"/><circle cx="44.2" cy="81.6" r="1.1"/><circle cx="45.6" cy="84.8" r="2.2"/><circle cx="43.4" cy="80.5" r="2.1"/><circle cx="68.8" cy="65.1" r="2.2"/><circle cx="68.3" cy="63.5" r="1.5"/><circle cx="66.3" cy="67.0" r="1.5"/><circle cx="45.5" cy="80.5" r="2.4"/><circle cx="47.6" cy="77.7" r="2.0"/><circle cx="49.6" cy="77.3" r="1.8"/></g></g></g></svg><div class="bd" style="border-width:2px"></div></div>
<div class="t" style="left:914.9px;top:1492.6px;width:102.0px;height:91.7px"><svg viewBox="0 0 100 100" preserveAspectRatio="none" style="position:absolute;left:0;top:0;width:100%;height:100%"><rect width="100" height="100" fill="#3a6a1e"/><ellipse cx="8" cy="40" rx="8" ry="20" fill="#e0e4e0" opacity="0.7" filter="url(#hz)"/><use href="#C" fill="#1f66e5" stroke="#1f66e5" stroke-width="1.45" transform="matrix(0.946 0 0 0.982 4.45 -0.28)"/><g filter="url(#blur)"><use href="#k136" x="-2.6" y="1.3" fill="#0f2208" opacity=".6"/><g fill="#e6e8d6" opacity=".93"><g id="k136"><circle cx="9.9" cy="32.8" r="1.9"/><circle cx="10.1" cy="32.6" r="2.3"/><circle cx="7.5" cy="49.4" r="2.4"/><circle cx="4.8" cy="49.8" r="2.5"/><circle cx="22.2" cy="64.4" r="1.7"/><circle cx="23.9" cy="64.0" r="1.8"/><circle cx="2.7" cy="32.4" r="1.9"/><circle cx="4.8" cy="32.5" r="1.7"/><circle cx="2.6" cy="32.2" r="1.2"/><circle cx="10.5" cy="90.0" r="1.2"/><circle cx="10.4" cy="88.7" r="1.9"/><circle cx="11.3" cy="87.5" r="1.6"/><circle cx="5.3" cy="70.6" r="2.0"/><circle cx="19.1" cy="20.3" r="2.2"/><circle cx="22.1" cy="22.6" r="2.0"/><circle cx="18.3" cy="23.3" r="1.2"/><circle cx="6.5" cy="45.7" r="1.7"/><circle cx="21.9" cy="43.5" r="2.4"/><circle cx="17.6" cy="43.1" r="1.8"/><circle cx="17.9" cy="46.0" r="1.3"/><circle cx="22.5" cy="78.9" r="1.8"/><circle cx="22.0" cy="80.7" r="1.8"/><circle cx="25.6" cy="89.8" r="1.2"/><circle cx="12.8" cy="14.4" r="1.8"/><circle cx="11.4" cy="14.2" r="1.2"/><circle cx="20.5" cy="41.9" r="1.2"/><circle cx="22.8" cy="37.4" r="2.2"/><circle cx="20.3" cy="32.9" r="1.3"/><circle cx="21.2" cy="32.8" r="2.3"/></g></g><use href="#k137" x="-2.6" y="1.3" fill="#0f2208" opacity=".6"/><g fill="#e6e8d6" opacity=".93"><g id="k137"><circle cx="85.3" cy="49.0" r="2.4"/><circle cx="84.3" cy="51.7" r="1.6"/><circle cx="86.8" cy="52.8" r="1.4"/><circle cx="90.4" cy="54.2" r="2.3"/><circle cx="93.5" cy="14.2" r="2.1"/><circle cx="95.3" cy="11.9" r="1.8"/><circle cx="94.2" cy="12.5" r="1.5"/><circle cx="87.6" cy="45.7" r="2.2"/><circle cx="76.3" cy="56.1" r="2.0"/><circle cx="77.7" cy="55.4" r="1.6"/><circle cx="82.9" cy="53.5" r="2.2"/><circle cx="88.7" cy="43.2" r="2.1"/><circle cx="96.2" cy="39.5" r="1.9"/><circle cx="94.1" cy="39.3" r="2.1"/><circle cx="83.7" cy="49.9" r="1.7"/><circle cx="79.8" cy="50.6" r="1.7"/><circle cx="81.1" cy="51.5" r="1.8"/></g></g></g></svg><div class="yr">2016</div><div class="bd" style="border-width:2px"></div></div>
<div class="t" style="left:1023.5px;top:1492.6px;width:101.4px;height:91.7px"><svg viewBox="0 0 100 100" preserveAspectRatio="none" style="position:absolute;left:0;top:0;width:100%;height:100%"><rect width="100" height="100" fill="#54b433"/><use href="#C" fill="#1f66e5" stroke="#1f66e5" stroke-width="1.34" transform="matrix(1.041 0 0 1.043 -2.89 -1.36)"/></svg><div class="bd" style="border-width:2px"></div></div>
<div class="t" style="left:1131.8px;top:1492.6px;width:102.0px;height:91.7px"><svg viewBox="0 0 100 100" preserveAspectRatio="none" style="position:absolute;left:0;top:0;width:100%;height:100%"><rect width="100" height="100" fill="#73c84a"/><g opacity="0.45" filter="url(#blur)"><use href="#C" fill="#c8b8a0" stroke="#c8b8a0" stroke-width="1.71" transform="matrix(0.842 0 0 0.799 3.90 3.43)"/></g><use href="#C" fill="#1f66e5" stroke="#1f66e5" stroke-width="2.09" transform="matrix(0.762 0 0 0.575 7.85 8.88)"/></svg><div class="bd" style="border-width:2px"></div></div>
<div class="t" style="left:1239.0px;top:1492.6px;width:102.4px;height:91.7px"><svg viewBox="0 0 100 100" preserveAspectRatio="none" style="position:absolute;left:0;top:0;width:100%;height:100%"><rect width="100" height="100" fill="#7acc56"/><g opacity="0.52" filter="url(#blur)"><use href="#C" fill="#e0c8d0" stroke="#e0c8d0" stroke-width="1.70" transform="matrix(0.842 0 0 0.810 3.90 1.25)"/></g><use href="#C" fill="#1f66e5" stroke="#1f66e5" stroke-width="2.08" transform="matrix(0.762 0 0 0.583 7.85 6.74)"/></svg><div class="bd" style="border-width:2px"></div></div>
<div class="t" style="left:36.4px;top:1592.5px;width:102.0px;height:91.7px"><svg viewBox="0 0 100 100" preserveAspectRatio="none" style="position:absolute;left:0;top:0;width:100%;height:100%"><rect width="100" height="100" fill="#82cc52"/><ellipse cx="85" cy="70" rx="10" ry="25" fill="#c8e0d0" opacity="0.6" filter="url(#hz)"/><g opacity="0.60" filter="url(#blur)"><use href="#C" fill="#e0e8e8" stroke="#e0e8e8" stroke-width="1.74" transform="matrix(0.847 0 0 0.762 4.33 2.89)"/></g><use href="#C" fill="#1f66e5" stroke="#1f66e5" stroke-width="2.13" transform="matrix(0.768 0 0 0.548 8.29 8.16)"/></svg><div class="yr">2017</div><div class="bd" style="border-width:2px"></div></div>
<div class="t" style="left:144.3px;top:1592.5px;width:102.0px;height:91.7px"><svg viewBox="0 0 100 100" preserveAspectRatio="none" style="position:absolute;left:0;top:0;width:100%;height:100%"><rect width="100" height="100" fill="#84c850"/><g opacity="0.52" filter="url(#blur)"><use href="#C" fill="#d8d8b0" stroke="#d8d8b0" stroke-width="1.74" transform="matrix(0.846 0 0 0.762 4.45 2.89)"/></g><use href="#C" fill="#1f66e5" stroke="#1f66e5" stroke-width="2.13" transform="matrix(0.766 0 0 0.548 8.40 8.16)"/></svg><div class="bd" style="border-width:2px"></div></div>
<div class="t" style="left:252.2px;top:1592.5px;width:102.0px;height:91.7px"><svg viewBox="0 0 100 100" preserveAspectRatio="none" style="position:absolute;left:0;top:0;width:100%;height:100%"><rect width="100" height="100" fill="#61c839"/><g opacity="0.45" filter="url(#blur)"><use href="#C" fill="#98d080" stroke="#98d080" stroke-width="2.18" transform="matrix(0.633 0 0 0.652 11.70 6.62)"/></g><use href="#C" fill="#1f66e5" stroke="#1f66e5" stroke-width="2.74" transform="matrix(0.554 0 0 0.466 15.65 11.39)"/></svg><div class="bd" style="border-width:2px"></div></div>
<div class="t" style="left:360.1px;top:1592.5px;width:103.0px;height:91.7px"><svg viewBox="0 0 100 100" preserveAspectRatio="none" style="position:absolute;left:0;top:0;width:100%;height:100%"><rect width="100" height="100" fill="#3b6a1e"/><ellipse cx="15" cy="30" rx="10" ry="20" fill="#c8c0a8" opacity="0.6" filter="url(#hz)"/><use href="#C" fill="#1f66e5" stroke="#1f66e5" stroke-width="2.43" transform="matrix(0.632 0 0 0.520 13.11 10.45)"/><g filter="url(#blur)"><use href="#k138" x="-2.6" y="1.3" fill="#0f2208" opacity=".6"/><g fill="#e6e8d6" opacity=".93"><g id="k138"><circle cx="22.2" cy="5.0" r="1.2"/><circle cx="19.3" cy="6.0" r="1.5"/><circle cx="6.5" cy="28.9" r="1.2"/><circle cx="5.9" cy="27.8" r="2.2"/><circle cx="6.4" cy="26.8" r="1.9"/><circle cx="10.4" cy="48.9" r="1.7"/><circle cx="12.5" cy="49.5" r="1.3"/><circle cx="10.4" cy="46.3" r="1.3"/><circle cx="18.9" cy="14.0" r="2.1"/><circle cx="19.3" cy="14.1" r="1.8"/><circle cx="16.5" cy="13.9" r="2.3"/><circle cx="6.0" cy="46.5" r="2.1"/><circle cx="6.2" cy="44.9" r="2.4"/><circle cx="6.4" cy="43.6" r="1.5"/><circle cx="7.3" cy="45.7" r="2.1"/><circle cx="6.8" cy="43.4" r="1.8"/><circle cx="26.8" cy="36.7" r="1.6"/><circle cx="25.6" cy="36.5" r="2.4"/><circle cx="17.8" cy="33.2" r="1.8"/><circle cx="12.7" cy="6.1" r="1.6"/></g></g><use href="#k139" x="-2.6" y="1.3" fill="#0f2208" opacity=".6"/><g fill="#e6e8d6" opacity=".93"><g id="k139"><circle cx="49.1" cy="82.3" r="2.4"/><circle cx="50.7" cy="83.5" r="1.1"/><circle cx="50.7" cy="80.2" r="1.2"/><circle cx="91.3" cy="85.0" r="1.8"/><circle cx="25.4" cy="89.0" r="1.1"/><circle cx="25.5" cy="91.2" r="2.4"/><circle cx="77.6" cy="72.8" r="2.4"/><circle cx="79.1" cy="75.2" r="2.1"/><circle cx="80.5" cy="72.8" r="2.2"/><circle cx="25.7" cy="76.4" r="2.4"/><circle cx="26.2" cy="76.7" r="1.9"/><circle cx="22.0" cy="75.0" r="1.6"/><circle cx="85.2" cy="85.5" r="1.7"/><circle cx="86.8" cy="84.3" r="2.0"/><circle cx="87.5" cy="86.6" r="1.5"/><circle cx="40.1" cy="78.4" r="2.0"/><circle cx="62.9" cy="96.6" r="1.8"/><circle cx="61.9" cy="95.7" r="2.5"/><circle cx="44.5" cy="76.5" r="2.1"/><circle cx="47.0" cy="79.8" r="1.5"/><circle cx="31.0" cy="98.2" r="2.4"/><circle cx="84.4" cy="84.8" r="1.2"/><circle cx="84.8" cy="84.6" r="1.2"/><circle cx="86.7" cy="84.7" r="2.4"/></g></g></g></svg><div class="bd" style="border-width:2px"></div></div>
<div class="t" style="left:477.3px;top:1592.5px;width:102.1px;height:91.7px"><svg viewBox="0 0 100 100" preserveAspectRatio="none" style="position:absolute;left:0;top:0;width:100%;height:100%"><rect width="100" height="100" fill="#478022"/><use href="#C" fill="#1f66e5" stroke="#1f66e5" stroke-width="2.41" transform="matrix(0.618 0 0 0.544 15.59 8.92)"/><g filter="url(#blur)"><use href="#k140" x="-2.6" y="1.3" fill="#0f2208" opacity=".6"/><g fill="#e6e8d6" opacity=".93"><g id="k140"><circle cx="13.5" cy="19.2" r="2.5"/><circle cx="13.2" cy="21.6" r="1.5"/><circle cx="13.2" cy="21.7" r="1.5"/><circle cx="22.0" cy="20.7" r="1.3"/><circle cx="16.4" cy="14.8" r="2.3"/><circle cx="15.4" cy="12.4" r="1.6"/><circle cx="17.2" cy="14.1" r="1.6"/><circle cx="31.5" cy="17.9" r="2.3"/><circle cx="30.6" cy="17.6" r="1.6"/><circle cx="24.1" cy="6.0" r="1.8"/><circle cx="22.4" cy="7.6" r="2.1"/><circle cx="23.2" cy="8.4" r="2.2"/><circle cx="13.7" cy="26.3" r="2.0"/><circle cx="19.2" cy="33.1" r="2.5"/><circle cx="23.6" cy="37.3" r="2.1"/><circle cx="10.8" cy="43.4" r="1.1"/><circle cx="12.3" cy="43.9" r="2.0"/><circle cx="20.1" cy="37.8" r="2.0"/><circle cx="23.1" cy="41.8" r="1.6"/><circle cx="9.0" cy="49.3" r="1.9"/><circle cx="11.3" cy="52.5" r="1.5"/><circle cx="9.6" cy="53.3" r="1.5"/><circle cx="23.4" cy="10.6" r="1.6"/><circle cx="24.0" cy="8.3" r="1.1"/><circle cx="26.0" cy="53.5" r="1.5"/><circle cx="27.9" cy="55.7" r="1.8"/><circle cx="25.8" cy="57.4" r="1.5"/><circle cx="24.5" cy="42.5" r="1.2"/><circle cx="25.6" cy="42.1" r="1.4"/><circle cx="28.9" cy="24.8" r="2.2"/></g></g><use href="#k141" x="-2.6" y="1.3" fill="#0f2208" opacity=".6"/><g fill="#e6e8d6" opacity=".93"><g id="k141"><circle cx="33.3" cy="89.6" r="1.1"/><circle cx="47.1" cy="92.7" r="1.7"/><circle cx="47.3" cy="92.9" r="1.8"/><circle cx="48.7" cy="96.3" r="2.0"/><circle cx="32.5" cy="87.2" r="2.4"/><circle cx="33.5" cy="87.3" r="2.1"/><circle cx="53.6" cy="79.9" r="2.4"/><circle cx="54.3" cy="80.4" r="2.2"/><circle cx="33.3" cy="87.9" r="2.4"/></g></g></g></svg><div class="yr">2018</div><div class="bd" style="border-width:2px"></div></div>
<div class="t" style="left:585.3px;top:1592.5px;width:102.0px;height:91.7px"><svg viewBox="0 0 100 100" preserveAspectRatio="none" style="position:absolute;left:0;top:0;width:100%;height:100%"><rect width="100" height="100" fill="#84cf5c"/><g opacity="0.52" filter="url(#blur)"><use href="#C" fill="#d8c0c8" stroke="#d8c0c8" stroke-width="1.95" transform="matrix(0.676 0 0 0.758 10.39 3.66)"/></g><use href="#C" fill="#1f66e5" stroke="#1f66e5" stroke-width="2.45" transform="matrix(0.596 0 0 0.544 14.34 8.92)"/></svg><div class="bd" style="border-width:2px"></div></div>
<div class="t" style="left:691.5px;top:1592.5px;width:102.1px;height:91.7px"><svg viewBox="0 0 100 100" preserveAspectRatio="none" style="position:absolute;left:0;top:0;width:100%;height:100%"><rect width="100" height="100" fill="#84cb5c"/><g opacity="0.52" filter="url(#blur)"><use href="#C" fill="#e0c0d0" stroke="#e0c0d0" stroke-width="2.14" transform="matrix(0.635 0 0 0.675 12.38 5.12)"/></g><use href="#C" fill="#1f66e5" stroke="#1f66e5" stroke-width="2.70" transform="matrix(0.555 0 0 0.483 16.34 10.00)"/></svg><div class="bd" style="border-width:2px"></div></div>
<div class="t" style="left:801.1px;top:1592.5px;width:102.7px;height:91.7px"><svg viewBox="0 0 100 100" preserveAspectRatio="none" style="position:absolute;left:0;top:0;width:100%;height:100%"><rect width="100" height="100" fill="#377433"/><ellipse cx="80" cy="40" rx="25" ry="35" fill="#5a8a70" opacity="0.6" filter="url(#hz)"/><use href="#C" fill="#1f66e5" stroke="#1f66e5" stroke-width="2.82" transform="matrix(0.487 0 0 0.506 20.15 9.59)"/><g filter="url(#blur)"><use href="#k142" x="-2.6" y="1.3" fill="#0f2208" opacity=".6"/><g fill="#e6e8d6" opacity=".93"><g id="k142"><circle cx="48.2" cy="19.7" r="2.0"/><circle cx="40.7" cy="31.7" r="1.6"/><circle cx="45.9" cy="11.5" r="2.3"/><circle cx="42.9" cy="12.7" r="2.5"/><circle cx="25.3" cy="12.0" r="2.5"/><circle cx="27.5" cy="10.3" r="2.0"/><circle cx="25.0" cy="11.5" r="1.5"/><circle cx="25.1" cy="15.7" r="1.3"/><circle cx="37.3" cy="9.3" r="2.2"/><circle cx="40.0" cy="5.9" r="1.4"/><circle cx="36.9" cy="5.5" r="1.9"/><circle cx="26.1" cy="40.9" r="2.3"/><circle cx="56.5" cy="10.1" r="2.1"/><circle cx="58.9" cy="10.9" r="1.9"/><circle cx="56.1" cy="28.2" r="1.8"/><circle cx="56.7" cy="26.2" r="2.2"/></g></g></g></svg><div class="bd" style="border-width:2px"></div></div>
<div class="t" style="left:914.9px;top:1592.5px;width:102.0px;height:91.7px"><svg viewBox="0 0 100 100" preserveAspectRatio="none" style="position:absolute;left:0;top:0;width:100%;height:100%"><rect width="100" height="100" fill="#54b830"/><use href="#C" fill="#1f66e5" stroke="#1f66e5" stroke-width="1.34" transform="matrix(1.012 0 0 1.074 0.36 -3.90)"/></svg><div class="bd" style="border-width:2px"></div></div>
<div class="t" style="left:1023.5px;top:1592.5px;width:101.4px;height:91.7px"><svg viewBox="0 0 100 100" preserveAspectRatio="none" style="position:absolute;left:0;top:0;width:100%;height:100%"><rect width="100" height="100" fill="#56bb33"/><use href="#C" fill="#1f66e5" stroke="#1f66e5" stroke-width="1.50" transform="matrix(0.973 0 0 0.899 1.32 -0.82)"/><g filter="url(#blur)"><use href="#k143" x="-2.6" y="1.3" fill="#0f2208" opacity=".6"/><g fill="#e6e8d6" opacity=".93"><g id="k143"><circle cx="14.7" cy="54.7" r="2.1"/><circle cx="14.9" cy="51.8" r="1.3"/><circle cx="11.2" cy="53.0" r="2.0"/><circle cx="11.3" cy="23.1" r="1.6"/><circle cx="13.0" cy="39.4" r="1.6"/><circle cx="4.9" cy="46.8" r="1.7"/><circle cx="10.9" cy="41.5" r="1.9"/><circle cx="8.6" cy="38.7" r="1.7"/><circle cx="10.1" cy="39.9" r="2.1"/></g></g><use href="#k144" x="-2.6" y="1.3" fill="#0f2208" opacity=".6"/><g fill="#e6e8d6" opacity=".93"><g id="k144"><circle cx="97.4" cy="43.0" r="1.3"/><circle cx="80.1" cy="36.0" r="1.3"/><circle cx="82.0" cy="35.2" r="2.1"/><circle cx="79.3" cy="33.2" r="1.6"/><circle cx="82.4" cy="29.7" r="2.1"/><circle cx="83.6" cy="32.2" r="2.1"/><circle cx="84.4" cy="31.3" r="2.1"/><circle cx="94.9" cy="27.9" r="1.5"/><circle cx="97.8" cy="26.1" r="1.5"/><circle cx="82.2" cy="25.9" r="1.4"/></g></g></g></svg><div class="bd" style="border-width:2px"></div></div>
<div class="t" style="left:1131.1px;top:1592.5px;width:101.7px;height:91.7px"><svg viewBox="0 0 100 100" preserveAspectRatio="none" style="position:absolute;left:0;top:0;width:100%;height:100%"><rect width="100" height="100" fill="#75cb50"/><g opacity="0.45" filter="url(#blur)"><use href="#C" fill="#d0c0b0" stroke="#d0c0b0" stroke-width="1.63" transform="matrix(0.846 0 0 0.872 4.65 2.15)"/></g><use href="#C" fill="#1f66e5" stroke="#1f66e5" stroke-width="2.01" transform="matrix(0.766 0 0 0.629 8.60 7.93)"/></svg><div class="bd" style="border-width:2px"></div></div>
<div class="t" style="left:1239.0px;top:1592.5px;width:102.4px;height:91.7px"><svg viewBox="0 0 100 100" preserveAspectRatio="none" style="position:absolute;left:0;top:0;width:100%;height:100%"><rect width="100" height="100" fill="#51ae31"/><use href="#C" fill="#1f66e5" stroke="#1f66e5" stroke-width="2.55" transform="matrix(0.606 0 0 0.491 14.73 10.36)"/><g filter="url(#blur)"><use href="#k145" x="-2.6" y="1.3" fill="#0f2208" opacity=".6"/><g fill="#e6e8d6" opacity=".93"><g id="k145"><circle cx="36.0" cy="22.4" r="1.9"/><circle cx="40.2" cy="7.9" r="2.1"/><circle cx="39.5" cy="10.8" r="1.6"/><circle cx="41.0" cy="11.3" r="2.4"/><circle cx="5.9" cy="7.1" r="1.1"/><circle cx="10.2" cy="6.1" r="2.2"/><circle cx="5.6" cy="5.3" r="1.6"/><circle cx="40.1" cy="5.0" r="1.4"/><circle cx="4.6" cy="4.0" r="1.5"/><circle cx="32.8" cy="22.9" r="2.3"/><circle cx="14.4" cy="14.3" r="1.2"/><circle cx="14.4" cy="11.7" r="1.3"/><circle cx="16.1" cy="0.7" r="1.2"/><circle cx="14.1" cy="3.0" r="2.2"/><circle cx="33.4" cy="16.4" r="2.1"/><circle cx="35.7" cy="17.5" r="1.7"/></g></g></g></svg><div class="bd" style="border-width:3px"></div></div>
<svg style="position:absolute;left:0;top:0" width="1376" height="1722" viewBox="0 0 1376 1722">
<line x1="77.5" y1="659.5" x2="77.5" y2="897.3" stroke="#262626" stroke-width="1.6"/>
<line x1="76.8" y1="896.6" x2="1330" y2="896.6" stroke="#262626" stroke-width="1.6"/>
<line x1="72.5" y1="896.6" x2="77.5" y2="896.6" stroke="#262626" stroke-width="1.4"/>
<text x="64" y="901.6" text-anchor="end" font-size="15" fill="#303030" font-family='"Liberation Sans", sans-serif'>0</text>
<line x1="72.5" y1="862.8" x2="77.5" y2="862.8" stroke="#262626" stroke-width="1.4"/>
<text x="64" y="867.8" text-anchor="end" font-size="15" fill="#303030" font-family='"Liberation Sans", sans-serif'>10</text>
<line x1="72.5" y1="828.9" x2="77.5" y2="828.9" stroke="#262626" stroke-width="1.4"/>
<text x="64" y="833.9" text-anchor="end" font-size="15" fill="#303030" font-family='"Liberation Sans", sans-serif'>20</text>
<line x1="72.5" y1="795.1" x2="77.5" y2="795.1" stroke="#262626" stroke-width="1.4"/>
<text x="64" y="800.1" text-anchor="end" font-size="15" fill="#303030" font-family='"Liberation Sans", sans-serif'>30</text>
<line x1="72.5" y1="761.3" x2="77.5" y2="761.3" stroke="#262626" stroke-width="1.4"/>
<text x="64" y="766.3" text-anchor="end" font-size="15" fill="#303030" font-family='"Liberation Sans", sans-serif'>40</text>
<line x1="72.5" y1="727.5" x2="77.5" y2="727.5" stroke="#262626" stroke-width="1.4"/>
<text x="64" y="732.5" text-anchor="end" font-size="15" fill="#303030" font-family='"Liberation Sans", sans-serif'>50</text>
<line x1="72.5" y1="693.6" x2="77.5" y2="693.6" stroke="#262626" stroke-width="1.4"/>
<text x="64" y="698.6" text-anchor="end" font-size="15" fill="#303030" font-family='"Liberation Sans", sans-serif'>60</text>
<line x1="72.5" y1="659.8" x2="77.5" y2="659.8" stroke="#262626" stroke-width="1.4"/>
<text x="64" y="664.8" text-anchor="end" font-size="15" fill="#303030" font-family='"Liberation Sans", sans-serif'>70</text>
<text x="77.5" y="923.5" text-anchor="middle" font-size="15" fill="#303030" font-family='"Liberation Sans", sans-serif'>1988</text>
<text x="155.8" y="923.5" text-anchor="middle" font-size="15" fill="#303030" font-family='"Liberation Sans", sans-serif'>1990</text>
<text x="234.1" y="923.5" text-anchor="middle" font-size="15" fill="#303030" font-family='"Liberation Sans", sans-serif'>1992</text>
<text x="312.5" y="923.5" text-anchor="middle" font-size="15" fill="#303030" font-family='"Liberation Sans", sans-serif'>1994</text>
<text x="390.8" y="923.5" text-anchor="middle" font-size="15" fill="#303030" font-family='"Liberation Sans", sans-serif'>1996</text>
<text x="469.1" y="923.5" text-anchor="middle" font-size="15" fill="#303030" font-family='"Liberation Sans", sans-serif'>1998</text>
<text x="547.4" y="923.5" text-anchor="middle" font-size="15" fill="#303030" font-family='"Liberation Sans", sans-serif'>2000</text>
<text x="625.7" y="923.5" text-anchor="middle" font-size="15" fill="#303030" font-family='"Liberation Sans", sans-serif'>2002</text>
<text x="704.1" y="923.5" text-anchor="middle" font-size="15" fill="#303030" font-family='"Liberation Sans", sans-serif'>2004</text>
<text x="782.4" y="923.5" text-anchor="middle" font-size="15" fill="#303030" font-family='"Liberation Sans", sans-serif'>2006</text>
<text x="860.7" y="923.5" text-anchor="middle" font-size="15" fill="#303030" font-family='"Liberation Sans", sans-serif'>2008</text>
<text x="939.0" y="923.5" text-anchor="middle" font-size="15" fill="#303030" font-family='"Liberation Sans", sans-serif'>2010</text>
<text x="1017.3" y="923.5" text-anchor="middle" font-size="15" fill="#303030" font-family='"Liberation Sans", sans-serif'>2012</text>
<text x="1095.7" y="923.5" text-anchor="middle" font-size="15" fill="#303030" font-family='"Liberation Sans", sans-serif'>2014</text>
<text x="1174.0" y="923.5" text-anchor="middle" font-size="15" fill="#303030" font-family='"Liberation Sans", sans-serif'>2016</text>
<text x="1252.3" y="923.5" text-anchor="middle" font-size="15" fill="#303030" font-family='"Liberation Sans", sans-serif'>2018</text>
<text x="1330.6" y="923.5" text-anchor="middle" font-size="15" fill="#303030" font-family='"Liberation Sans", sans-serif'>2020</text>
<text x="703.5" y="950.5" text-anchor="middle" font-size="17" fill="#303030" font-family='"Liberation Sans", sans-serif'>Year</text>
<text transform="translate(38.5 779) rotate(-90)" text-anchor="middle" font-size="17" fill="#303030" font-family='"Liberation Sans", sans-serif'>Extent (km<tspan font-size="11" dy="-6">2</tspan><tspan dy="6">)</tspan></text>
<text x="94.5" y="684.5" font-size="16" fill="#202020" font-family='"Liberation Sans", sans-serif'>(b)</text>
<polyline points="80.3,753.4 107.3,841.2 223.0,776.0 246.6,727.9 324.7,686.6 327.3,687.5 333.4,736.1 339.5,724.1 343.8,730.7 361.3,676.6 370.0,686.0 378.1,731.8 382.4,738.3 387.9,752.0 402.7,704.5 405.3,729.6 411.4,754.7 415.1,783.0 423.9,788.4 435.8,791.3 442.4,803.7 447.8,819.0 452.2,837.5 457.2,865.8 466.4,764.5 709.4,742.7 716.0,750.3 723.6,860.4 728.0,869.1 733.4,802.6 740.0,700.1 745.4,690.3 752.4,677.3 757.4,695.8 761.8,701.2 768.3,730.7 773.7,739.0 791.6,682.3 794.5,693.6 797.3,688.2 803.2,735.0 806.5,741.6 809.3,769.5 815.2,763.4 833.7,682.3 842.4,743.7 848.5,760.8 873.0,680.5 877.3,690.3 878.4,724.1 880.1,699.0 880.6,724.1 887.1,724.1 890.4,728.5 908.9,745.9 911.1,761.2 914.4,772.1 917.6,798.3 918.1,846.2 919.8,841.9 923.1,852.8 929.6,863.7 944.9,733.9 1008.0,732.4 1071.2,677.3 1073.4,730.7 1078.8,725.2 1085.4,748.1 1086.5,752.5 1089.7,776.5 1107.2,767.7 1113.7,791.7 1115.9,846.2 1120.2,861.5 1125.7,865.8 1129.0,802.6 1137.7,680.5 1146.4,673.5 1151.9,677.3 1155.1,676.2 1161.7,700.1 1164.9,700.1 1168.2,677.3 1170.4,684.9 1182.4,672.9 1187.8,676.2 1192.6,691.0 1197.5,743.0 1200.5,742.0 1204.6,756.2 1219.0,787.7 1222.6,772.4 1225.3,777.8 1233.4,835.4 1238.8,858.8 1243.3,863.3 1248.7,810.2 1253.2,811.1 1260.4,822.8 1264.0,813.8 1270.3,810.2 1273.0,819.2 1274.8,851.6 1280.2,867.8 1282.9,839.0 1288.3,761.6 1294.6,764.3 1303.6,757.1 1309.0,803.0 1311.7,869.6 1318.9,878.6 1324.3,827.3" fill="none" stroke="#5b8fc8" stroke-width="3.8" stroke-linejoin="round"/>
<line x1="1184.8" y1="745.4" x2="1323.4" y2="857" stroke="#3d6796" stroke-width="3.1" stroke-dasharray="3 3.4"/>
<text x="1213" y="708" font-size="14.5" fill="#202020" font-family='"Liberation Sans", sans-serif'>y = -9.3248x + 18846</text>
<text x="56.4" y="26.5" text-anchor="middle" font-size="8.5" fill="#303030" font-family='"Liberation Sans", sans-serif'>81°25'0"E</text>
<text x="101.2" y="26.5" text-anchor="middle" font-size="8.5" fill="#303030" font-family='"Liberation Sans", sans-serif'>81°30'0"E</text>
<line x1="57" y1="29" x2="57" y2="37" stroke="#1a1a1a" stroke-width="1.8"/>
<line x1="101.2" y1="29" x2="101.2" y2="37" stroke="#1a1a1a" stroke-width="1.8"/>
<text transform="translate(24.5 48.8) rotate(-90)" text-anchor="middle" font-size="8.5" fill="#303030" font-family='"Liberation Sans", sans-serif'>7°15'0"N</text>
<text transform="translate(24.5 93) rotate(-90)" text-anchor="middle" font-size="8.5" fill="#303030" font-family='"Liberation Sans", sans-serif'>7°10'0"N</text>
<line x1="28" y1="48.8" x2="35.5" y2="48.8" stroke="#1a1a1a" stroke-width="1.8"/>
<line x1="28" y1="93" x2="35.5" y2="93" stroke="#1a1a1a" stroke-width="1.8"/>
<text x="1259.8" y="640" text-anchor="middle" font-size="8.5" fill="#303030" font-family='"Liberation Sans", sans-serif'>81°25'0"E</text>
<text x="1304" y="640" text-anchor="middle" font-size="8.5" fill="#303030" font-family='"Liberation Sans", sans-serif'>81°30'0"E</text>
<line x1="1259.8" y1="624" x2="1259.8" y2="632.5" stroke="#1a1a1a" stroke-width="1.8"/>
<line x1="1304" y1="624" x2="1304" y2="632.5" stroke="#1a1a1a" stroke-width="1.8"/>
<text transform="translate(1357.5 545.4) rotate(-90)" text-anchor="middle" font-size="8.5" fill="#303030" font-family='"Liberation Sans", sans-serif'>7°15'0"N</text>
<text transform="translate(1357.5 590.4) rotate(-90)" text-anchor="middle" font-size="8.5" fill="#303030" font-family='"Liberation Sans", sans-serif'>7°10'0"N</text>
<line x1="1340" y1="545.4" x2="1346.5" y2="545.4" stroke="#1a1a1a" stroke-width="1.8"/>
<line x1="1340" y1="590.4" x2="1346.5" y2="590.4" stroke="#1a1a1a" stroke-width="1.8"/>
<text x="75" y="984.5" text-anchor="middle" font-size="8.5" fill="#303030" font-family='"Liberation Sans", sans-serif'>80°45'0"E</text>
<text x="122.1" y="984.5" text-anchor="middle" font-size="8.5" fill="#303030" font-family='"Liberation Sans", sans-serif'>80°47'30"E</text>
<line x1="75" y1="988" x2="75" y2="996" stroke="#1a1a1a" stroke-width="1.8"/>
<line x1="122.1" y1="988" x2="122.1" y2="996" stroke="#1a1a1a" stroke-width="1.8"/>
<text transform="translate(24 1002.6) rotate(-90)" text-anchor="middle" font-size="8.5" fill="#303030" font-family='"Liberation Sans", sans-serif'>8°50'0"N</text>
<text transform="translate(24 1050.7) rotate(-90)" text-anchor="middle" font-size="8.5" fill="#303030" font-family='"Liberation Sans", sans-serif'>8°47'30"N</text>
<line x1="28" y1="1002.6" x2="35.5" y2="1002.6" stroke="#1a1a1a" stroke-width="1.8"/>
<line x1="28" y1="1050.7" x2="35.5" y2="1050.7" stroke="#1a1a1a" stroke-width="1.8"/>
<text x="1278" y="1701.5" text-anchor="middle" font-size="9.8" fill="#303030" font-family='"Liberation Sans", sans-serif'>80°45'0"E</text>
<text x="1325.5" y="1701.5" text-anchor="middle" font-size="9.8" fill="#303030" font-family='"Liberation Sans", sans-serif'>80°47'30"E</text>
<line x1="1278" y1="1684" x2="1278" y2="1691.5" stroke="#1a1a1a" stroke-width="1.8"/>
<line x1="1325.5" y1="1684" x2="1325.5" y2="1691.5" stroke="#1a1a1a" stroke-width="1.8"/>
<text transform="translate(1359.5 1598.6) rotate(-90)" text-anchor="middle" font-size="9.8" fill="#303030" font-family='"Liberation Sans", sans-serif'>8°50'0"N</text>
<text transform="translate(1359.5 1647.5) rotate(-90)" text-anchor="middle" font-size="9.8" fill="#303030" font-family='"Liberation Sans", sans-serif'>8°47'30"N</text>
<line x1="1340.5" y1="1598.6" x2="1347" y2="1598.6" stroke="#1a1a1a" stroke-width="1.8"/>
<line x1="1340.5" y1="1647" x2="1347" y2="1647" stroke="#1a1a1a" stroke-width="1.8"/>
</svg>

<div style="position:absolute;left:43.6px;top:44px;font-size:14px;color:#333;line-height:1">(a)</div>
<div style="position:absolute;left:43.6px;top:1000px;font-size:14px;color:#333;line-height:1">(c)</div>
<div class="yl" style="left:359.5px;top:1562.4px;font-size:20px;letter-spacing:0.3px">3.96 km<span style="font-size:14px">2</span></div>
<div class="yl" style="left:1024.5px;top:1566px;font-size:19.5px;letter-spacing:0.8px">20.74 km<sup style="font-size:11px;vertical-align:7px">2</sup></div>

</body></html>
